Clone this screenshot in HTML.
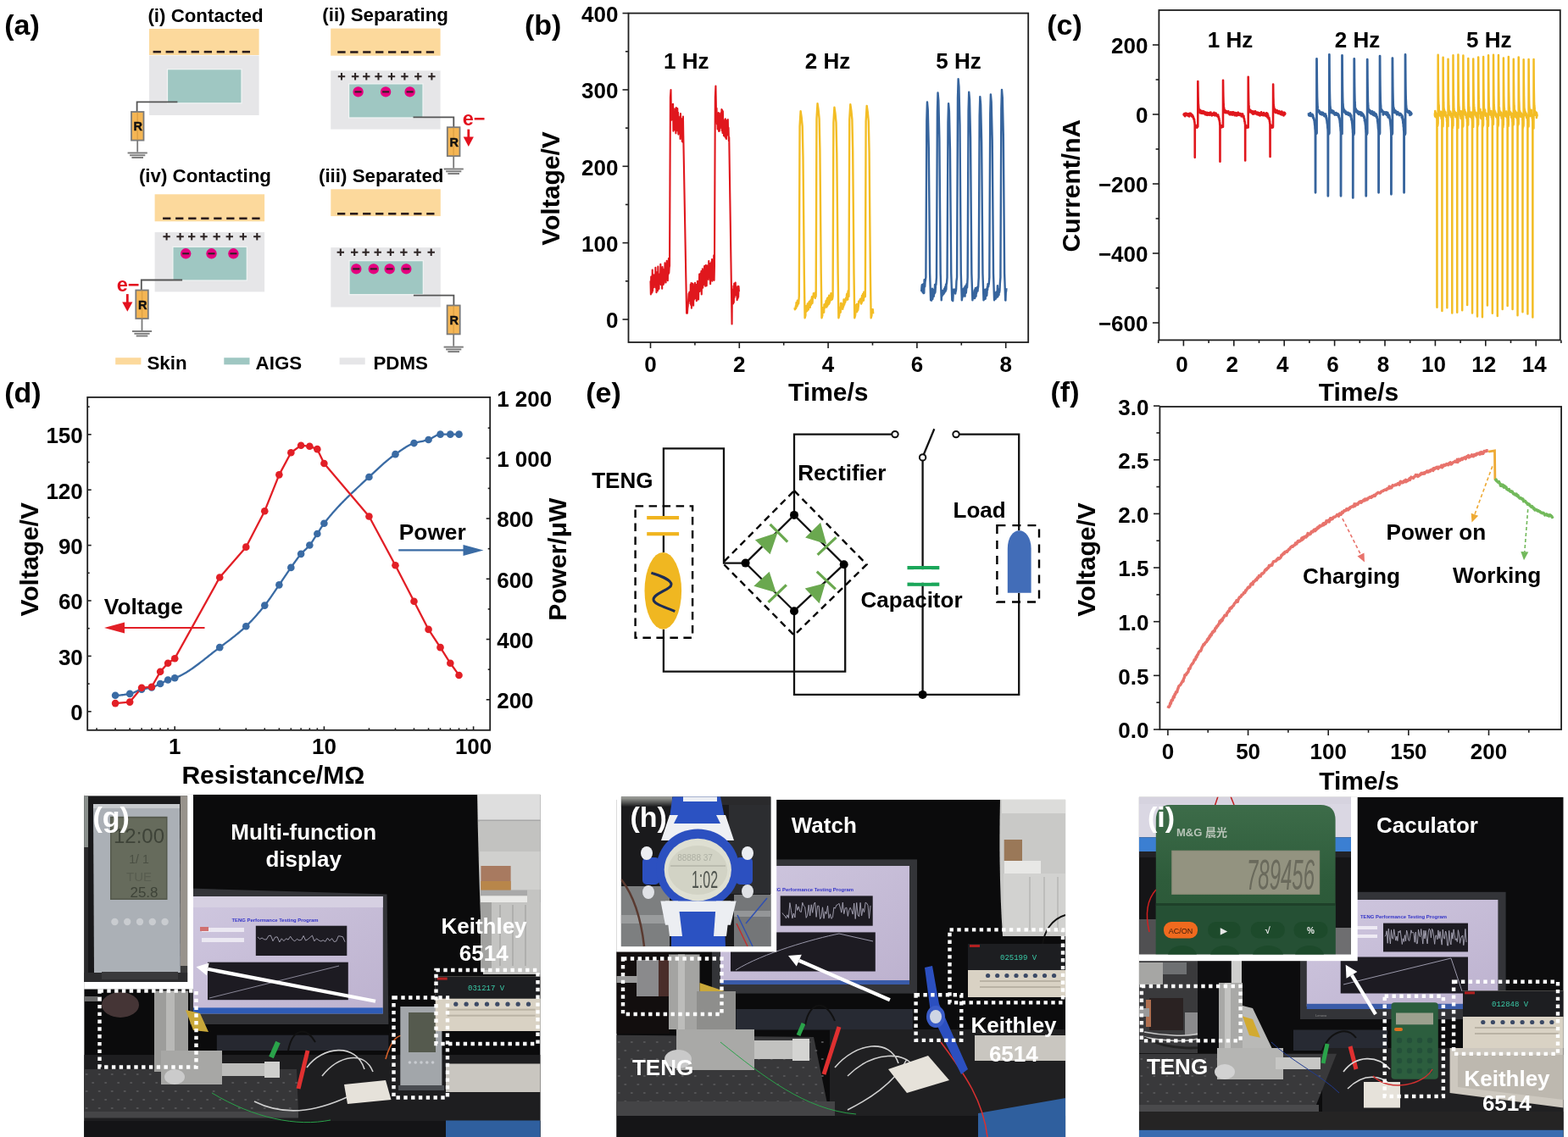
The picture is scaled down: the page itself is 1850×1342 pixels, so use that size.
<!DOCTYPE html>
<html><head><meta charset="utf-8"><title>Figure</title>
<style>html,body{margin:0;padding:0;background:#fff;}svg{display:block;}</style></head>
<body><svg width="1850" height="1342" viewBox="0 0 1850 1342">
<defs><linearGradient id="scr" x1="0" y1="0" x2="1" y2="1"><stop offset="0" stop-color="#cfc7df"/><stop offset="1" stop-color="#bdb2cf"/></linearGradient><linearGradient id="hfade" x1="0" y1="0" x2="0" y2="1"><stop offset="0" stop-color="#a8aaa4"/><stop offset="1" stop-color="#1a1a1c"/></linearGradient><linearGradient id="calc" x1="0" y1="0" x2="0" y2="1"><stop offset="0" stop-color="#3d6c49"/><stop offset="0.5" stop-color="#2e5c3b"/><stop offset="1" stop-color="#2a5636"/></linearGradient></defs>
<rect width="1850" height="1342" fill="#fff"/>
<rect x="176" y="34" width="129.6" height="31" fill="#fcd99c"/><rect x="176" y="65.5" width="129.6" height="70.5" fill="#e6e6e8"/><rect x="197.5" y="81.7" width="87.5" height="40.1" fill="#9fc7c2" stroke="#f2f4f4" stroke-width="1.2"/><g stroke="#2a1d1d" stroke-width="2.6"><line x1="180.6" y1="61.2" x2="189.9" y2="61.2"/><line x1="195.6" y1="61.2" x2="204.9" y2="61.2"/><line x1="210.6" y1="61.2" x2="219.9" y2="61.2"/><line x1="225.6" y1="61.2" x2="234.9" y2="61.2"/><line x1="240.7" y1="61.2" x2="250.0" y2="61.2"/><line x1="255.7" y1="61.2" x2="265.0" y2="61.2"/><line x1="270.7" y1="61.2" x2="280.0" y2="61.2"/><line x1="285.7" y1="61.2" x2="295.0" y2="61.2"/></g><path d="M209.4 120.3H161.6V132" fill="none" stroke="#555555" stroke-width="1.8"/><rect x="155.0" y="132.0" width="14.5" height="33.6" fill="#f5b654" stroke="#7a7a7a" stroke-width="1.8"/><line x1="162.2" y1="132.0" x2="162.2" y2="165.6" stroke="#c98f3a" stroke-width="1.5" opacity="0.5"/><text x="162.8" y="154.4" text-anchor="middle" style="font-family:'Liberation Sans',Arial,sans-serif;font-weight:bold;font-size:14.5px" fill="#111" stroke="#111" stroke-width="0.45">R</text><line x1="162.2" y1="165.6" x2="162.2" y2="179.5" stroke="#7a7a7a" stroke-width="1.8"/><g stroke="#7a7a7a" stroke-width="1.9"><line x1="150.6" y1="180.5" x2="173.8" y2="180.5"/><line x1="153.1" y1="183.3" x2="171.3" y2="183.3"/><line x1="155.4" y1="186.0" x2="169.0" y2="186.0"/></g><rect x="390.2" y="33.6" width="129.4" height="32.1" fill="#fcd99c"/><g stroke="#2a1d1d" stroke-width="2.6"><line x1="398.3" y1="61.5" x2="407.6" y2="61.5"/><line x1="413.2" y1="61.5" x2="422.5" y2="61.5"/><line x1="428.2" y1="61.5" x2="437.4" y2="61.5"/><line x1="443.1" y1="61.5" x2="452.4" y2="61.5"/><line x1="458.0" y1="61.5" x2="467.3" y2="61.5"/><line x1="473.0" y1="61.5" x2="482.2" y2="61.5"/><line x1="487.9" y1="61.5" x2="497.2" y2="61.5"/><line x1="502.8" y1="61.5" x2="512.1" y2="61.5"/></g><rect x="390.2" y="83.4" width="129.4" height="69.2" fill="#e6e6e8"/><rect x="411.6" y="98.9" width="87.4" height="40.1" fill="#9fc7c2" stroke="#f2f4f4" stroke-width="1.2"/><g stroke="#2b2222" stroke-width="2"><path d="M398.8 90.3H407.2M403.0 86.1V94.5"/><path d="M414.9 90.3H423.3M419.1 86.1V94.5"/><path d="M428.1 90.3H436.5M432.3 86.1V94.5"/><path d="M442.3 90.3H450.7M446.5 86.1V94.5"/><path d="M457.8 90.3H466.2M462.0 86.1V94.5"/><path d="M473.2 90.3H481.6M477.4 86.1V94.5"/><path d="M489.1 90.3H497.5M493.3 86.1V94.5"/><path d="M505.2 90.3H513.6M509.4 86.1V94.5"/></g><circle cx="422.6" cy="108.4" r="6.2" fill="#e4007f"/><line x1="418.6" y1="108.4" x2="426.6" y2="108.4" stroke="#2b2222" stroke-width="2"/><circle cx="455.1" cy="108.4" r="6.2" fill="#e4007f"/><line x1="451.1" y1="108.4" x2="459.1" y2="108.4" stroke="#2b2222" stroke-width="2"/><circle cx="483.6" cy="108.4" r="6.2" fill="#e4007f"/><line x1="479.6" y1="108.4" x2="487.6" y2="108.4" stroke="#2b2222" stroke-width="2"/><path d="M487.5 138.3H535.3V150.2" fill="none" stroke="#555555" stroke-width="1.8"/><rect x="527.8" y="150.2" width="14.7" height="34.0" fill="#f5b654" stroke="#7a7a7a" stroke-width="1.8"/><line x1="535.1" y1="150.2" x2="535.1" y2="184.2" stroke="#c98f3a" stroke-width="1.5" opacity="0.5"/><text x="535.8" y="172.8" text-anchor="middle" style="font-family:'Liberation Sans',Arial,sans-serif;font-weight:bold;font-size:14.5px" fill="#111" stroke="#111" stroke-width="0.45">R</text><line x1="535.2" y1="184.2" x2="535.2" y2="198.5" stroke="#7a7a7a" stroke-width="1.8"/><g stroke="#7a7a7a" stroke-width="1.9"><line x1="523.6" y1="199.5" x2="546.8" y2="199.5"/><line x1="526.1" y1="202.3" x2="544.3" y2="202.3"/><line x1="528.4" y1="205.0" x2="542.0" y2="205.0"/></g><text x="545.8" y="147.6" style="font-family:'Liberation Sans',Arial,sans-serif;font-weight:bold;font-size:23.5px" fill="#e3101e">e−</text><line x1="552.8" y1="152.6" x2="552.8" y2="163.9" stroke="#e3101e" stroke-width="2.8"/><path d="M546.7 161.6L558.9 161.6L552.8 172.9Z" fill="#e3101e"/><rect x="182.6" y="229.3" width="129.5" height="32" fill="#fcd99c"/><g stroke="#2a1d1d" stroke-width="2.6"><line x1="192.1" y1="257.8" x2="201.4" y2="257.8"/><line x1="207.1" y1="257.8" x2="216.4" y2="257.8"/><line x1="222.2" y1="257.8" x2="231.5" y2="257.8"/><line x1="237.2" y1="257.8" x2="246.5" y2="257.8"/><line x1="252.2" y1="257.8" x2="261.5" y2="257.8"/><line x1="267.2" y1="257.8" x2="276.5" y2="257.8"/><line x1="282.3" y1="257.8" x2="291.6" y2="257.8"/><line x1="297.3" y1="257.8" x2="306.6" y2="257.8"/></g><rect x="182.6" y="274.1" width="129.5" height="70.3" fill="#e6e6e8"/><rect x="203.9" y="291.3" width="87.4" height="39.7" fill="#9fc7c2" stroke="#f2f4f4" stroke-width="1.2"/><g stroke="#2b2222" stroke-width="2"><path d="M192.4 279.3H200.8M196.6 275.1V283.5"/><path d="M208.4 279.3H216.8M212.6 275.1V283.5"/><path d="M222.0 279.3H230.4M226.2 275.1V283.5"/><path d="M236.3 279.3H244.7M240.5 275.1V283.5"/><path d="M251.5 279.3H259.9M255.7 275.1V283.5"/><path d="M266.6 279.3H275.0M270.8 275.1V283.5"/><path d="M282.7 279.3H291.1M286.9 275.1V283.5"/><path d="M299.1 279.3H307.5M303.3 275.1V283.5"/></g><circle cx="219.2" cy="299.3" r="6.2" fill="#e4007f"/><line x1="215.2" y1="299.3" x2="223.2" y2="299.3" stroke="#2b2222" stroke-width="2"/><circle cx="249.5" cy="299.3" r="6.2" fill="#e4007f"/><line x1="245.5" y1="299.3" x2="253.5" y2="299.3" stroke="#2b2222" stroke-width="2"/><circle cx="275.4" cy="299.3" r="6.2" fill="#e4007f"/><line x1="271.4" y1="299.3" x2="279.4" y2="299.3" stroke="#2b2222" stroke-width="2"/><path d="M215.1 330.5H166.8V342.5" fill="none" stroke="#555555" stroke-width="1.8"/><rect x="160.3" y="342.5" width="14.5" height="33.5" fill="#f5b654" stroke="#7a7a7a" stroke-width="1.8"/><line x1="167.6" y1="342.5" x2="167.6" y2="376.0" stroke="#c98f3a" stroke-width="1.5" opacity="0.5"/><text x="168.2" y="364.9" text-anchor="middle" style="font-family:'Liberation Sans',Arial,sans-serif;font-weight:bold;font-size:14.5px" fill="#111" stroke="#111" stroke-width="0.45">R</text><line x1="167.5" y1="376" x2="167.5" y2="390" stroke="#7a7a7a" stroke-width="1.8"/><g stroke="#7a7a7a" stroke-width="1.9"><line x1="155.9" y1="391.0" x2="179.1" y2="391.0"/><line x1="158.4" y1="393.8" x2="176.6" y2="393.8"/><line x1="160.7" y1="396.5" x2="174.3" y2="396.5"/></g><text x="137.8" y="344.2" style="font-family:'Liberation Sans',Arial,sans-serif;font-weight:bold;font-size:23.5px" fill="#e3101e">e−</text><line x1="150.3" y1="347.1" x2="150.3" y2="358.7" stroke="#e3101e" stroke-width="2.8"/><path d="M144.2 356.4L156.4 356.4L150.3 367.7Z" fill="#e3101e"/><rect x="390.3" y="223.3" width="129.5" height="31.8" fill="#fcd99c"/><g stroke="#2a1d1d" stroke-width="2.6"><line x1="398.0" y1="252.3" x2="407.3" y2="252.3"/><line x1="413.0" y1="252.3" x2="422.3" y2="252.3"/><line x1="428.1" y1="252.3" x2="437.4" y2="252.3"/><line x1="443.1" y1="252.3" x2="452.4" y2="252.3"/><line x1="458.1" y1="252.3" x2="467.4" y2="252.3"/><line x1="473.1" y1="252.3" x2="482.4" y2="252.3"/><line x1="488.2" y1="252.3" x2="497.5" y2="252.3"/><line x1="503.2" y1="252.3" x2="512.5" y2="252.3"/></g><rect x="390.3" y="292.1" width="129.5" height="70.4" fill="#e6e6e8"/><rect x="412" y="307.7" width="87.3" height="40" fill="#9fc7c2" stroke="#f2f4f4" stroke-width="1.2"/><g stroke="#2b2222" stroke-width="2"><path d="M397.6 297.7H406.0M401.8 293.5V301.9"/><path d="M414.0 297.7H422.4M418.2 293.5V301.9"/><path d="M427.4 297.7H435.8M431.6 293.5V301.9"/><path d="M441.5 297.7H449.9M445.7 293.5V301.9"/><path d="M456.6 297.7H465.0M460.8 293.5V301.9"/><path d="M472.2 297.7H480.6M476.4 293.5V301.9"/><path d="M488.3 297.7H496.7M492.5 293.5V301.9"/><path d="M504.5 297.7H512.9M508.7 293.5V301.9"/></g><circle cx="420.3" cy="317.4" r="6.2" fill="#e4007f"/><line x1="416.3" y1="317.4" x2="424.3" y2="317.4" stroke="#2b2222" stroke-width="2"/><circle cx="440.8" cy="317.4" r="6.2" fill="#e4007f"/><line x1="436.8" y1="317.4" x2="444.8" y2="317.4" stroke="#2b2222" stroke-width="2"/><circle cx="459.7" cy="317.4" r="6.2" fill="#e4007f"/><line x1="455.7" y1="317.4" x2="463.7" y2="317.4" stroke="#2b2222" stroke-width="2"/><circle cx="479.3" cy="317.4" r="6.2" fill="#e4007f"/><line x1="475.3" y1="317.4" x2="483.3" y2="317.4" stroke="#2b2222" stroke-width="2"/><path d="M487.9 348.6H535.4V360.5" fill="none" stroke="#555555" stroke-width="1.8"/><rect x="527.6" y="360.5" width="15.1" height="33.9" fill="#f5b654" stroke="#7a7a7a" stroke-width="1.8"/><line x1="535.2" y1="360.5" x2="535.2" y2="394.4" stroke="#c98f3a" stroke-width="1.5" opacity="0.5"/><text x="535.8" y="383.1" text-anchor="middle" style="font-family:'Liberation Sans',Arial,sans-serif;font-weight:bold;font-size:14.5px" fill="#111" stroke="#111" stroke-width="0.45">R</text><line x1="535.2" y1="394.4" x2="535.2" y2="408.6" stroke="#7a7a7a" stroke-width="1.8"/><g stroke="#7a7a7a" stroke-width="1.9"><line x1="523.6" y1="409.6" x2="546.8" y2="409.6"/><line x1="526.1" y1="412.4" x2="544.3" y2="412.4"/><line x1="528.4" y1="415.1" x2="542.0" y2="415.1"/></g><text x="174.4" y="25.7" style="font-family:'Liberation Sans',Arial,sans-serif;font-weight:bold;font-size:22.3px" fill="#000">(i) Contacted</text><text x="380.3" y="25.0" style="font-family:'Liberation Sans',Arial,sans-serif;font-weight:bold;font-size:22.3px" fill="#000">(ii) Separating</text><text x="163.9" y="215.4" style="font-family:'Liberation Sans',Arial,sans-serif;font-weight:bold;font-size:22.3px" fill="#000">(iv) Contacting</text><text x="376" y="215.4" style="font-family:'Liberation Sans',Arial,sans-serif;font-weight:bold;font-size:22.3px" fill="#000">(iii) Separated</text><rect x="136.2" y="422.2" width="30.2" height="8.1" fill="#fcd99c"/><rect x="264.3" y="422.2" width="30.2" height="8.1" fill="#9fc7c2"/><rect x="400.6" y="422.2" width="30.1" height="8.1" fill="#e6e6e8"/><text x="173.5" y="435.8" style="font-family:'Liberation Sans',Arial,sans-serif;font-weight:bold;font-size:22.3px" fill="#000">Skin</text><text x="301.6" y="435.8" style="font-family:'Liberation Sans',Arial,sans-serif;font-weight:bold;font-size:22.3px" fill="#000">AIGS</text><text x="440.5" y="435.8" style="font-family:'Liberation Sans',Arial,sans-serif;font-weight:bold;font-size:22.3px" fill="#000">PDMS</text><text x="5.2" y="40.7" text-anchor="start" style="font-family:'Liberation Sans',Arial,sans-serif;font-weight:bold;font-size:34px" fill="#000" >(a)</text><rect x="741.5" y="15.6" width="471.70" height="388.40" fill="none" stroke="#1e1e1e" stroke-width="1.8"/><line x1="741.50" y1="377.00" x2="734.50" y2="377.00" stroke="#1e1e1e" stroke-width="1.6"/><line x1="741.50" y1="286.65" x2="734.50" y2="286.65" stroke="#1e1e1e" stroke-width="1.6"/><line x1="741.50" y1="196.30" x2="734.50" y2="196.30" stroke="#1e1e1e" stroke-width="1.6"/><line x1="741.50" y1="105.95" x2="734.50" y2="105.95" stroke="#1e1e1e" stroke-width="1.6"/><line x1="741.50" y1="15.60" x2="734.50" y2="15.60" stroke="#1e1e1e" stroke-width="1.6"/><line x1="741.50" y1="331.82" x2="737.90" y2="331.82" stroke="#1e1e1e" stroke-width="1.6"/><line x1="741.50" y1="241.47" x2="737.90" y2="241.47" stroke="#1e1e1e" stroke-width="1.6"/><line x1="741.50" y1="151.12" x2="737.90" y2="151.12" stroke="#1e1e1e" stroke-width="1.6"/><line x1="741.50" y1="60.78" x2="737.90" y2="60.78" stroke="#1e1e1e" stroke-width="1.6"/><line x1="767.50" y1="404.00" x2="767.50" y2="411.00" stroke="#1e1e1e" stroke-width="1.6"/><line x1="872.30" y1="404.00" x2="872.30" y2="411.00" stroke="#1e1e1e" stroke-width="1.6"/><line x1="977.10" y1="404.00" x2="977.10" y2="411.00" stroke="#1e1e1e" stroke-width="1.6"/><line x1="1081.90" y1="404.00" x2="1081.90" y2="411.00" stroke="#1e1e1e" stroke-width="1.6"/><line x1="1186.70" y1="404.00" x2="1186.70" y2="411.00" stroke="#1e1e1e" stroke-width="1.6"/><line x1="819.90" y1="404.00" x2="819.90" y2="407.60" stroke="#1e1e1e" stroke-width="1.6"/><line x1="924.70" y1="404.00" x2="924.70" y2="407.60" stroke="#1e1e1e" stroke-width="1.6"/><line x1="1029.50" y1="404.00" x2="1029.50" y2="407.60" stroke="#1e1e1e" stroke-width="1.6"/><line x1="1134.30" y1="404.00" x2="1134.30" y2="407.60" stroke="#1e1e1e" stroke-width="1.6"/><text x="729.5" y="387.4" text-anchor="end" style="font-family:'Liberation Sans',Arial,sans-serif;font-weight:bold;font-size:26px" fill="#000" >0</text><text x="729.5" y="297.0" text-anchor="end" style="font-family:'Liberation Sans',Arial,sans-serif;font-weight:bold;font-size:26px" fill="#000" >100</text><text x="729.5" y="206.7" text-anchor="end" style="font-family:'Liberation Sans',Arial,sans-serif;font-weight:bold;font-size:26px" fill="#000" >200</text><text x="729.5" y="116.3" text-anchor="end" style="font-family:'Liberation Sans',Arial,sans-serif;font-weight:bold;font-size:26px" fill="#000" >300</text><text x="729.5" y="26.0" text-anchor="end" style="font-family:'Liberation Sans',Arial,sans-serif;font-weight:bold;font-size:26px" fill="#000" >400</text><text x="767.5" y="438.6" text-anchor="middle" style="font-family:'Liberation Sans',Arial,sans-serif;font-weight:bold;font-size:26px" fill="#000" >0</text><text x="872.3" y="438.6" text-anchor="middle" style="font-family:'Liberation Sans',Arial,sans-serif;font-weight:bold;font-size:26px" fill="#000" >2</text><text x="977.1" y="438.6" text-anchor="middle" style="font-family:'Liberation Sans',Arial,sans-serif;font-weight:bold;font-size:26px" fill="#000" >4</text><text x="1081.9" y="438.6" text-anchor="middle" style="font-family:'Liberation Sans',Arial,sans-serif;font-weight:bold;font-size:26px" fill="#000" >6</text><text x="1186.7" y="438.6" text-anchor="middle" style="font-family:'Liberation Sans',Arial,sans-serif;font-weight:bold;font-size:26px" fill="#000" >8</text><text x="977.3" y="472.6" text-anchor="middle" style="font-family:'Liberation Sans',Arial,sans-serif;font-weight:bold;font-size:30px" fill="#000" >Time/s</text><text transform="translate(659.8,222.5) rotate(-90)" text-anchor="middle" style="font-family:'Liberation Sans',Arial,sans-serif;font-weight:bold;font-size:30px" fill="#000">Voltage/V</text><text x="809.8" y="80.5" text-anchor="middle" style="font-family:'Liberation Sans',Arial,sans-serif;font-weight:bold;font-size:26px" fill="#000" >1 Hz</text><text x="976.6" y="80.5" text-anchor="middle" style="font-family:'Liberation Sans',Arial,sans-serif;font-weight:bold;font-size:26px" fill="#000" >2 Hz</text><text x="1131.0" y="80.5" text-anchor="middle" style="font-family:'Liberation Sans',Arial,sans-serif;font-weight:bold;font-size:26px" fill="#000" >5 Hz</text><polyline points="767.50,331.60 767.87,347.37 768.24,326.43 768.61,343.07 768.98,328.22 769.35,345.56 769.72,318.61 770.09,343.41 770.46,324.14 770.82,333.98 771.19,326.68 771.56,339.26 771.93,324.66 772.30,333.60 772.67,331.50 773.04,333.02 773.41,315.88 773.78,339.82 774.15,326.81 774.52,345.31 774.89,321.27 775.26,340.18 775.63,326.02 776.00,343.21 776.37,314.67 776.73,329.12 777.10,327.35 777.47,340.94 777.84,323.88 778.21,328.01 778.58,327.21 778.95,334.79 779.32,311.77 779.69,335.94 780.06,320.32 780.43,335.15 780.80,321.67 781.17,340.65 781.54,315.00 781.91,335.48 782.28,317.46 782.64,336.01 783.01,323.75 783.38,334.45 783.75,319.22 784.12,330.67 784.49,310.42 784.86,323.96 785.23,322.19 785.60,333.56 785.97,317.62 786.34,324.63 786.71,307.81 787.08,324.53 787.45,315.37 787.82,331.28 788.19,310.54 788.55,323.69 788.92,305.01 789.29,322.21 789.66,315.95 790.03,313.75 790.47,214.37 790.91,114.99 791.50,105.95 791.87,129.87 792.24,141.67 792.60,123.10 792.97,138.30 793.34,127.16 793.71,140.53 794.08,122.85 794.45,154.77 794.82,127.99 795.19,144.92 795.56,131.93 795.93,153.09 796.30,134.14 796.67,153.74 797.04,128.38 797.41,157.36 797.78,127.11 798.15,144.66 798.52,129.75 798.89,154.11 799.26,127.96 799.63,145.74 799.99,132.73 800.36,158.59 800.73,140.02 801.10,148.08 801.47,141.52 801.84,149.64 802.21,137.43 802.58,163.97 802.95,134.10 803.32,149.30 803.69,146.84 804.06,155.41 804.43,140.33 804.80,167.00 805.17,145.65 805.54,167.67 805.91,137.50 806.28,160.16 806.66,181.12 807.04,202.08 807.42,223.04 807.80,244.00 808.18,264.97 808.56,285.93 808.94,306.89 809.32,327.85 809.71,348.81 810.09,369.77 810.47,366.51 810.89,369.68 811.31,363.57 811.73,360.99 812.14,353.08 812.56,346.63 812.93,354.19 813.31,344.84 813.68,355.07 814.05,349.30 814.42,358.10 814.79,335.72 815.16,359.93 815.53,334.04 815.90,363.78 816.27,339.01 816.64,356.89 817.01,334.53 817.38,348.54 817.75,335.20 818.12,360.81 818.49,340.38 818.86,353.65 819.24,343.25 819.61,350.57 819.98,333.88 820.35,352.14 820.72,337.43 821.09,351.87 821.46,335.99 821.83,355.12 822.20,337.72 822.57,344.86 822.94,331.78 823.31,353.47 823.68,336.51 824.05,353.50 824.42,336.92 824.79,337.67 825.17,323.63 825.54,343.98 825.91,333.02 826.28,337.58 826.65,322.45 827.02,337.18 827.39,320.10 827.76,347.44 828.13,330.69 828.50,333.15 828.87,317.40 829.24,339.72 829.61,321.22 829.98,336.47 830.35,323.22 830.73,334.06 831.10,314.06 831.47,334.39 831.84,325.19 832.21,337.72 832.58,312.99 832.95,336.50 833.32,313.20 833.69,337.33 834.06,313.22 834.43,328.75 834.80,324.25 835.17,327.57 835.54,318.86 835.91,329.88 836.28,308.14 836.66,323.81 837.03,318.09 837.40,326.21 837.77,311.08 838.14,335.17 838.51,317.59 838.88,328.61 839.25,309.32 839.62,326.61 839.99,306.10 840.36,331.68 840.73,307.97 841.10,329.63 841.47,316.14 841.84,329.97 842.21,301.26 842.59,330.84 842.96,313.75 843.39,214.37 843.83,114.99 844.42,101.43 844.79,119.26 845.16,143.41 845.53,127.70 845.89,146.55 846.26,134.71 846.63,152.39 847.00,134.96 847.37,149.27 847.73,133.13 848.10,155.00 848.47,133.77 848.84,154.69 849.21,139.70 849.57,151.59 849.94,136.82 850.31,146.07 850.68,132.93 851.05,145.90 851.41,129.01 851.78,154.30 852.15,130.03 852.52,157.02 852.89,131.40 853.26,151.77 853.62,141.11 853.99,160.13 854.36,143.92 854.73,158.22 855.10,142.99 855.46,161.36 855.83,140.40 856.20,162.64 856.57,142.40 856.94,164.03 857.30,142.25 857.67,155.00 858.04,148.60 858.41,157.17 858.78,140.99 859.14,159.87 859.51,150.84 859.88,166.18 860.25,161.97 860.61,186.46 860.98,210.96 861.35,235.45 861.72,259.95 862.08,284.44 862.45,308.94 862.82,333.43 863.18,357.93 863.55,382.42 863.92,341.67 864.30,354.15 864.68,343.02 865.06,358.56 865.44,337.52 865.82,356.92 866.20,334.48 866.58,350.97 866.96,338.72 867.35,347.75 867.73,333.54 868.11,348.43 868.49,338.03 868.87,345.48 869.25,339.61 869.63,354.25 870.01,339.77 870.39,352.51 870.78,337.75 871.16,350.68 871.54,337.95 871.92,344.34" fill="none" stroke="#e0171d" stroke-width="2.1" stroke-linejoin="round"/><polyline points="937.54,363.09 937.87,365.38 938.20,364.44 938.53,363.05 938.87,361.25 939.20,364.00 939.53,357.29 939.86,358.22 940.19,360.09 940.52,361.46 940.86,354.62 941.19,359.68 941.52,359.02 941.85,358.39 942.18,358.20 942.78,349.89 943.56,149.32 944.61,131.25 945.66,138.48 946.71,149.32 947.49,185.46 948.80,322.79 949.59,375.19 950.38,372.48 950.64,361.75 950.96,368.16 951.28,367.25 951.59,361.04 951.91,362.85 952.23,367.04 952.55,363.85 952.87,358.48 953.19,363.49 953.51,359.35 953.82,365.51 954.14,358.17 954.46,357.14 954.78,356.10 955.10,357.24 955.42,360.03 955.74,362.85 956.06,357.42 956.37,354.33 956.69,359.97 957.01,358.65 957.33,355.23 957.65,352.42 957.97,350.31 958.29,358.17 958.60,357.03 958.92,349.86 959.24,351.04 959.56,349.71 959.88,346.22 960.20,346.34 960.52,346.88 960.83,347.09 961.15,350.73 961.47,347.56 961.79,352.01 962.11,345.27 962.69,349.89 963.48,140.28 964.52,122.21 965.57,129.44 966.62,140.28 967.41,176.42 968.72,322.79 969.50,375.19 970.29,372.48 970.55,363.36 970.87,363.26 971.19,365.75 971.51,365.97 971.82,365.02 972.14,368.71 972.46,359.41 972.78,362.19 973.10,363.36 973.42,361.12 973.74,358.74 974.06,361.92 974.37,356.55 974.69,355.08 975.01,360.35 975.33,362.56 975.65,355.30 975.97,352.28 976.29,360.94 976.60,354.32 976.92,352.59 977.24,351.06 977.56,359.20 977.88,359.04 978.20,348.82 978.52,357.76 978.83,356.61 979.15,351.79 979.47,352.69 979.79,348.89 980.11,354.45 980.43,346.10 980.75,353.16 981.07,346.68 981.38,353.78 981.70,348.88 982.02,353.16 982.60,349.89 983.39,144.80 984.44,126.73 985.48,133.96 986.53,144.80 987.32,180.94 988.63,322.79 989.41,375.19 990.20,372.48 990.46,368.18 990.78,367.65 991.09,362.68 991.41,365.00 991.73,368.77 992.04,358.05 992.36,358.66 992.67,357.81 992.99,364.53 993.31,362.38 993.62,363.64 993.94,364.20 994.25,364.65 994.57,359.00 994.89,362.58 995.20,361.45 995.52,353.49 995.83,357.02 996.15,359.73 996.46,353.91 996.78,357.74 997.10,354.37 997.41,356.46 997.73,353.39 998.04,351.62 998.36,352.08 998.68,353.05 998.99,348.22 999.31,346.78 999.62,353.75 999.94,353.67 1000.26,353.38 1000.57,343.44 1000.89,343.30 1001.47,349.89 1002.25,141.19 1003.30,123.12 1004.35,130.34 1005.40,141.19 1006.18,177.33 1007.49,322.79 1008.28,375.19 1009.06,372.48 1009.33,369.08 1009.65,360.53 1009.97,368.26 1010.29,364.49 1010.61,364.06 1010.94,359.00 1011.26,367.95 1011.58,364.44 1011.90,360.82 1012.22,366.08 1012.54,363.70 1012.87,360.69 1013.19,355.65 1013.51,356.42 1013.83,355.15 1014.15,355.36 1014.48,355.40 1014.80,353.33 1015.12,354.62 1015.44,353.50 1015.76,357.68 1016.09,358.60 1016.41,351.68 1016.73,357.56 1017.05,348.85 1017.37,351.82 1017.70,354.19 1018.02,347.07 1018.34,355.02 1018.66,350.59 1018.98,354.64 1019.30,344.64 1019.63,348.33 1019.95,345.33 1020.27,350.45 1020.85,349.89 1021.64,142.99 1022.69,124.92 1023.74,132.15 1024.78,142.99 1025.57,179.13 1026.88,322.79 1027.67,375.19 1028.45,372.48 1028.71,365.24 1029.08,366.58 1029.45,367.57 1029.81,365.25 1030.18,370.37" fill="none" stroke="#f3bd25" stroke-width="2.4" stroke-linejoin="round"/><polyline points="1087.14,344.05 1087.45,339.09 1087.77,336.31 1088.08,343.99 1088.40,338.10 1088.71,345.14 1089.03,339.12 1089.34,335.13 1089.66,346.12 1089.97,334.90 1090.28,346.03 1090.60,330.24 1090.91,337.76 1091.23,338.27 1091.54,332.76 1092.38,327.31 1093.32,142.99 1093.95,120.41 1094.74,129.44 1095.79,174.62 1097.10,322.79 1098.14,354.41 1098.41,349.56 1098.74,345.96 1099.07,354.69 1099.40,347.18 1099.73,346.65 1100.06,340.64 1100.39,352.94 1100.72,346.36 1101.05,343.18 1101.38,343.74 1101.72,350.03 1102.05,341.92 1102.38,346.68 1102.71,346.47 1103.04,335.99 1103.37,345.23 1103.70,340.92 1104.03,336.04 1104.36,336.06 1104.96,327.31 1105.90,132.15 1106.53,109.56 1107.31,118.60 1108.36,163.77 1109.67,322.79 1110.72,354.41 1110.98,349.12 1111.30,344.89 1111.61,349.25 1111.93,346.44 1112.24,343.00 1112.55,344.47 1112.87,344.42 1113.18,347.26 1113.50,344.49 1113.81,346.26 1114.13,340.66 1114.44,345.35 1114.75,343.53 1115.07,338.78 1115.38,341.85 1115.70,343.68 1116.01,336.04 1116.33,341.92 1116.64,334.64 1116.96,334.93 1117.53,327.31 1118.48,144.80 1119.10,122.21 1119.89,131.25 1120.94,176.42 1122.25,322.79 1123.30,354.41 1123.56,350.66 1123.89,346.09 1124.21,355.18 1124.54,349.32 1124.87,341.79 1125.20,345.13 1125.52,344.72 1125.85,342.45 1126.18,341.54 1126.51,342.18 1126.83,343.81 1127.16,346.52 1127.49,344.22 1127.82,343.49 1128.14,340.78 1128.47,331.84 1129.06,327.31 1130.00,115.89 1130.63,93.30 1131.42,102.34 1132.47,147.51 1133.78,322.79 1134.82,354.41 1135.09,352.03 1135.40,350.09 1135.71,350.61 1136.03,347.01 1136.34,341.14 1136.66,341.42 1136.97,348.25 1137.29,349.27 1137.60,339.77 1137.92,344.85 1138.23,341.51 1138.54,349.79 1138.86,337.75 1139.17,345.18 1139.49,341.99 1139.80,345.70 1140.12,341.92 1140.43,335.45 1140.75,334.89 1141.06,339.43 1141.64,327.31 1142.58,131.25 1143.21,108.66 1143.99,117.70 1145.04,162.87 1146.35,322.79 1147.40,354.41 1147.66,346.02 1147.99,349.96 1148.31,350.64 1148.64,347.61 1148.96,352.04 1149.28,349.84 1149.61,343.66 1149.93,342.19 1150.26,351.97 1150.58,341.65 1150.91,339.89 1151.23,344.72 1151.55,349.71 1151.88,340.20 1152.20,345.98 1152.53,339.69 1152.85,343.00 1153.18,338.70 1153.50,343.63 1153.83,339.93 1154.15,338.70 1154.74,327.31 1155.68,136.67 1156.31,114.08 1157.09,123.12 1158.14,168.29 1159.45,322.79 1160.50,354.41 1160.76,348.00 1161.08,353.62 1161.39,342.07 1161.71,351.23 1162.02,350.42 1162.33,350.56 1162.65,352.72 1162.96,347.01 1163.28,341.40 1163.59,341.73 1163.91,348.59 1164.22,348.87 1164.53,345.63 1164.85,338.60 1165.16,342.08 1165.48,335.22 1165.79,338.50 1166.11,338.45 1166.42,335.75 1166.74,335.44 1167.31,327.31 1168.26,133.96 1168.88,111.37 1169.67,120.41 1170.72,165.58 1172.03,322.79 1173.08,354.41 1173.34,352.15 1173.66,352.87 1173.99,349.71 1174.31,348.42 1174.64,352.91 1174.96,348.03 1175.28,344.62 1175.61,351.37 1175.93,350.79 1176.26,349.73 1176.58,347.61 1176.91,337.26 1177.23,350.24 1177.55,347.42 1177.88,347.15 1178.20,342.13 1178.53,348.23 1178.85,341.28 1179.18,345.01 1179.50,342.93 1179.83,334.83 1180.41,327.31 1181.36,128.54 1181.98,105.95 1182.77,114.99 1183.82,160.16 1185.13,322.79 1186.18,354.41 1186.44,354.46 1186.77,344.59 1187.09,344.02 1187.42,340.24" fill="none" stroke="#36649d" stroke-width="2.4" stroke-linejoin="round"/><text x="618.9" y="40.6" text-anchor="start" style="font-family:'Liberation Sans',Arial,sans-serif;font-weight:bold;font-size:34px" fill="#000" >(b)</text><rect x="1367.4" y="12.0" width="473.40" height="389.40" fill="none" stroke="#1e1e1e" stroke-width="1.8"/><line x1="1367.40" y1="53.00" x2="1359.90" y2="53.00" stroke="#1e1e1e" stroke-width="1.6"/><line x1="1367.40" y1="135.00" x2="1359.90" y2="135.00" stroke="#1e1e1e" stroke-width="1.6"/><line x1="1367.40" y1="217.00" x2="1359.90" y2="217.00" stroke="#1e1e1e" stroke-width="1.6"/><line x1="1367.40" y1="299.00" x2="1359.90" y2="299.00" stroke="#1e1e1e" stroke-width="1.6"/><line x1="1367.40" y1="381.00" x2="1359.90" y2="381.00" stroke="#1e1e1e" stroke-width="1.6"/><line x1="1367.40" y1="94.00" x2="1363.60" y2="94.00" stroke="#1e1e1e" stroke-width="1.6"/><line x1="1367.40" y1="176.00" x2="1363.60" y2="176.00" stroke="#1e1e1e" stroke-width="1.6"/><line x1="1367.40" y1="258.00" x2="1363.60" y2="258.00" stroke="#1e1e1e" stroke-width="1.6"/><line x1="1367.40" y1="340.00" x2="1363.60" y2="340.00" stroke="#1e1e1e" stroke-width="1.6"/><line x1="1396.40" y1="401.40" x2="1396.40" y2="408.40" stroke="#1e1e1e" stroke-width="1.6"/><line x1="1455.80" y1="401.40" x2="1455.80" y2="408.40" stroke="#1e1e1e" stroke-width="1.6"/><line x1="1515.20" y1="401.40" x2="1515.20" y2="408.40" stroke="#1e1e1e" stroke-width="1.6"/><line x1="1574.60" y1="401.40" x2="1574.60" y2="408.40" stroke="#1e1e1e" stroke-width="1.6"/><line x1="1634.00" y1="401.40" x2="1634.00" y2="408.40" stroke="#1e1e1e" stroke-width="1.6"/><line x1="1693.40" y1="401.40" x2="1693.40" y2="408.40" stroke="#1e1e1e" stroke-width="1.6"/><line x1="1752.80" y1="401.40" x2="1752.80" y2="408.40" stroke="#1e1e1e" stroke-width="1.6"/><line x1="1812.20" y1="401.40" x2="1812.20" y2="408.40" stroke="#1e1e1e" stroke-width="1.6"/><line x1="1366.70" y1="401.40" x2="1366.70" y2="405.00" stroke="#1e1e1e" stroke-width="1.6"/><line x1="1426.10" y1="401.40" x2="1426.10" y2="405.00" stroke="#1e1e1e" stroke-width="1.6"/><line x1="1485.50" y1="401.40" x2="1485.50" y2="405.00" stroke="#1e1e1e" stroke-width="1.6"/><line x1="1544.90" y1="401.40" x2="1544.90" y2="405.00" stroke="#1e1e1e" stroke-width="1.6"/><line x1="1604.30" y1="401.40" x2="1604.30" y2="405.00" stroke="#1e1e1e" stroke-width="1.6"/><line x1="1663.70" y1="401.40" x2="1663.70" y2="405.00" stroke="#1e1e1e" stroke-width="1.6"/><line x1="1723.10" y1="401.40" x2="1723.10" y2="405.00" stroke="#1e1e1e" stroke-width="1.6"/><line x1="1782.50" y1="401.40" x2="1782.50" y2="405.00" stroke="#1e1e1e" stroke-width="1.6"/><line x1="1841.90" y1="401.40" x2="1841.90" y2="405.00" stroke="#1e1e1e" stroke-width="1.6"/><text x="1354.5" y="63.4" text-anchor="end" style="font-family:'Liberation Sans',Arial,sans-serif;font-weight:bold;font-size:26px" fill="#000" >200</text><text x="1354.5" y="145.4" text-anchor="end" style="font-family:'Liberation Sans',Arial,sans-serif;font-weight:bold;font-size:26px" fill="#000" >0</text><text x="1354.5" y="227.4" text-anchor="end" style="font-family:'Liberation Sans',Arial,sans-serif;font-weight:bold;font-size:26px" fill="#000" >−200</text><text x="1354.5" y="309.4" text-anchor="end" style="font-family:'Liberation Sans',Arial,sans-serif;font-weight:bold;font-size:26px" fill="#000" >−400</text><text x="1354.5" y="391.4" text-anchor="end" style="font-family:'Liberation Sans',Arial,sans-serif;font-weight:bold;font-size:26px" fill="#000" >−600</text><text x="1394.4" y="438.6" text-anchor="middle" style="font-family:'Liberation Sans',Arial,sans-serif;font-weight:bold;font-size:26px" fill="#000" >0</text><text x="1453.8" y="438.6" text-anchor="middle" style="font-family:'Liberation Sans',Arial,sans-serif;font-weight:bold;font-size:26px" fill="#000" >2</text><text x="1513.2" y="438.6" text-anchor="middle" style="font-family:'Liberation Sans',Arial,sans-serif;font-weight:bold;font-size:26px" fill="#000" >4</text><text x="1572.6" y="438.6" text-anchor="middle" style="font-family:'Liberation Sans',Arial,sans-serif;font-weight:bold;font-size:26px" fill="#000" >6</text><text x="1632.0" y="438.6" text-anchor="middle" style="font-family:'Liberation Sans',Arial,sans-serif;font-weight:bold;font-size:26px" fill="#000" >8</text><text x="1691.4" y="438.6" text-anchor="middle" style="font-family:'Liberation Sans',Arial,sans-serif;font-weight:bold;font-size:26px" fill="#000" >10</text><text x="1750.8" y="438.6" text-anchor="middle" style="font-family:'Liberation Sans',Arial,sans-serif;font-weight:bold;font-size:26px" fill="#000" >12</text><text x="1810.2" y="438.6" text-anchor="middle" style="font-family:'Liberation Sans',Arial,sans-serif;font-weight:bold;font-size:26px" fill="#000" >14</text><text x="1603.0" y="472.6" text-anchor="middle" style="font-family:'Liberation Sans',Arial,sans-serif;font-weight:bold;font-size:30px" fill="#000" >Time/s</text><text transform="translate(1273.5,219.2) rotate(-90)" text-anchor="middle" style="font-family:'Liberation Sans',Arial,sans-serif;font-weight:bold;font-size:30px" fill="#000">Current/nA</text><text x="1451.6" y="55.5" text-anchor="middle" style="font-family:'Liberation Sans',Arial,sans-serif;font-weight:bold;font-size:26px" fill="#000" >1 Hz</text><text x="1601.6" y="55.5" text-anchor="middle" style="font-family:'Liberation Sans',Arial,sans-serif;font-weight:bold;font-size:26px" fill="#000" >2 Hz</text><text x="1756.7" y="55.5" text-anchor="middle" style="font-family:'Liberation Sans',Arial,sans-serif;font-weight:bold;font-size:26px" fill="#000" >5 Hz</text><polyline points="1396.40,134.77 1396.52,134.69 1396.64,135.54 1396.76,135.21 1396.88,134.48 1396.99,134.65 1397.11,134.83 1397.23,136.24 1397.35,134.56 1397.47,134.04 1397.59,134.18 1397.71,134.81 1397.83,136.28 1397.94,134.23 1398.06,135.13 1398.18,137.08 1398.30,134.70 1398.42,136.23 1398.54,136.07 1398.66,135.53 1398.78,133.96 1398.89,135.31 1399.01,134.79 1399.13,133.58 1399.25,133.70 1399.37,135.10 1399.49,135.21 1399.61,136.05 1399.73,135.58 1399.85,134.67 1399.96,134.69 1400.08,134.93 1400.20,134.20 1400.32,135.65 1400.44,135.07 1400.56,134.43 1400.68,134.55 1400.80,134.15 1400.91,134.71 1401.03,135.29 1401.15,134.74 1401.27,135.86 1401.39,136.39 1401.51,134.57 1401.63,135.10 1401.75,134.80 1401.86,136.45 1401.98,135.36 1402.10,135.56 1402.22,135.79 1402.34,136.93 1402.46,135.36 1402.58,134.36 1402.70,134.79 1402.82,135.61 1402.93,135.14 1403.05,134.51 1403.17,137.41 1403.29,135.26 1403.41,134.72 1403.53,134.63 1403.65,133.81 1403.77,134.29 1403.88,134.98 1404.00,135.01 1404.12,134.63 1404.24,135.74 1404.36,135.36 1404.48,134.61 1404.60,133.77 1404.72,135.54 1404.83,135.48 1404.95,135.32 1405.07,134.42 1405.19,135.59 1405.31,134.41 1405.43,136.46 1405.55,135.87 1405.67,135.94 1405.79,135.20 1405.90,135.06 1406.02,137.23 1406.14,136.82 1406.26,135.89 1406.38,136.80 1406.50,137.61 1406.62,135.62 1406.74,136.19 1406.85,136.33 1406.97,137.27 1407.09,136.19 1407.21,137.40 1407.33,136.49 1407.45,138.33 1407.57,138.50 1407.69,137.87 1407.80,138.86 1407.92,138.01 1408.04,138.64 1408.16,139.93 1408.28,139.47 1408.40,140.19 1408.52,139.56 1408.64,141.27 1408.76,141.59 1408.87,140.76 1408.99,140.48 1409.11,141.28 1409.23,143.53 1409.35,144.12 1409.47,143.81 1409.59,146.01 1409.71,147.62 1409.77,185.84 1409.82,149.25 1409.94,148.98 1410.06,150.03 1410.18,150.70 1410.30,150.53 1410.42,148.80 1410.54,149.97 1410.66,149.47 1410.77,149.18 1410.89,148.84 1411.01,149.62 1411.13,148.94 1411.25,150.08 1411.37,149.65 1411.49,150.19 1411.61,148.42 1411.73,149.37 1411.84,149.96 1411.96,149.64 1412.08,149.53 1412.20,148.78 1412.32,150.66 1412.44,150.20 1412.56,149.66 1412.68,147.27 1412.79,148.57 1412.91,149.44 1413.03,148.77 1413.15,147.66 1413.27,149.54 1413.33,96.05 1413.39,101.51 1413.51,108.29 1413.63,114.70 1413.74,118.76 1413.86,122.76 1413.98,122.97 1414.10,124.75 1414.22,126.87 1414.34,127.64 1414.46,130.52 1414.58,128.82 1414.70,129.88 1414.81,129.66 1414.93,129.69 1415.05,130.72 1415.17,131.99 1415.29,130.44 1415.41,131.47 1415.53,131.24 1415.65,131.56 1415.76,131.43 1415.88,133.13 1416.00,130.32 1416.12,131.19 1416.24,130.56 1416.36,129.92 1416.48,131.60 1416.60,133.16 1416.71,132.48 1416.83,132.81 1416.95,132.29 1417.07,131.88 1417.19,133.64 1417.31,131.78 1417.43,133.36 1417.55,131.93 1417.67,132.32 1417.78,132.55 1417.90,132.40 1418.02,132.84 1418.14,132.95 1418.26,133.88 1418.38,132.57 1418.50,131.08 1418.62,131.02 1418.73,131.61 1418.85,132.16 1418.97,133.33 1419.09,131.64 1419.21,132.91 1419.33,132.97 1419.45,133.19 1419.57,132.92 1419.68,133.39 1419.80,133.14 1419.92,134.00 1420.04,133.45 1420.16,131.31 1420.28,133.28 1420.40,133.45 1420.52,132.85 1420.64,132.74 1420.75,134.27 1420.87,133.56 1420.99,132.67 1421.11,133.23 1421.23,133.38 1421.35,132.24 1421.47,134.10 1421.59,133.50 1421.70,134.03 1421.82,132.40 1421.94,135.25 1422.06,134.23 1422.18,134.14 1422.30,133.19 1422.42,133.26 1422.54,132.64 1422.65,135.10 1422.77,133.21 1422.89,134.09 1423.01,134.42 1423.13,133.46 1423.25,134.67 1423.37,135.64 1423.49,134.27 1423.61,135.21 1423.72,134.53 1423.84,133.72 1423.96,133.79 1424.08,132.76 1424.20,134.24 1424.32,135.36 1424.44,134.74 1424.56,134.89 1424.67,135.15 1424.79,133.81 1424.91,134.71 1425.03,135.82 1425.15,133.64 1425.27,134.32 1425.39,133.95 1425.51,134.18 1425.62,133.76 1425.74,134.26 1425.86,133.29 1425.98,133.97 1426.10,134.01 1426.22,134.01 1426.34,135.55 1426.46,134.51 1426.58,134.60 1426.69,134.23 1426.81,135.52 1426.93,133.08 1427.05,134.35 1427.17,135.44 1427.29,135.86 1427.41,134.70 1427.53,134.55 1427.64,135.08 1427.76,134.42 1427.88,135.04 1428.00,134.07 1428.12,135.12 1428.24,134.57 1428.36,133.75 1428.48,132.45 1428.59,135.40 1428.71,134.96 1428.83,135.28 1428.95,133.95 1429.07,135.55 1429.19,135.01 1429.31,134.65 1429.43,135.43 1429.55,135.43 1429.66,135.04 1429.78,136.38 1429.90,135.85 1430.02,135.01 1430.14,134.56 1430.26,134.85 1430.38,136.16 1430.50,135.09 1430.61,134.06 1430.73,134.27 1430.85,134.80 1430.97,135.47 1431.09,134.24 1431.21,135.24 1431.33,135.73 1431.45,135.44 1431.56,133.61 1431.68,134.62 1431.80,133.86 1431.92,135.22 1432.04,134.07 1432.16,135.34 1432.28,134.99 1432.40,132.83 1432.52,134.26 1432.63,135.31 1432.75,134.99 1432.87,134.66 1432.99,133.95 1433.11,135.37 1433.23,136.41 1433.35,135.23 1433.47,135.01 1433.58,134.95 1433.70,133.99 1433.82,134.83 1433.94,134.45 1434.06,136.05 1434.18,134.47 1434.30,133.49 1434.42,134.61 1434.53,135.08 1434.65,135.20 1434.77,133.90 1434.89,136.17 1435.01,135.55 1435.13,135.14 1435.25,134.97 1435.37,136.00 1435.49,135.45 1435.60,136.01 1435.72,135.76 1435.84,136.05 1435.96,136.97 1436.08,136.15 1436.20,135.52 1436.32,137.15 1436.44,136.68 1436.55,136.07 1436.67,137.64 1436.79,136.77 1436.91,137.96 1437.03,136.35 1437.15,135.58 1437.27,136.04 1437.39,138.11 1437.50,137.58 1437.62,138.36 1437.74,138.68 1437.86,137.82 1437.98,140.52 1438.10,138.95 1438.22,140.26 1438.34,139.51 1438.46,140.99 1438.57,142.22 1438.69,142.01 1438.81,142.24 1438.93,143.47 1439.05,143.82 1439.17,145.42 1439.29,147.59 1439.41,146.01 1439.47,190.76 1439.52,148.78 1439.64,149.23 1439.76,149.29 1439.88,148.50 1440.00,149.72 1440.12,149.93 1440.24,149.50 1440.36,148.37 1440.47,150.49 1440.59,148.37 1440.71,149.87 1440.83,150.25 1440.95,148.32 1441.07,149.43 1441.19,150.42 1441.31,149.64 1441.43,148.59 1441.54,148.37 1441.66,149.70 1441.78,149.02 1441.90,148.76 1442.02,149.88 1442.14,149.06 1442.26,149.38 1442.38,149.79 1442.49,149.75 1442.61,149.30 1442.73,149.33 1442.85,149.81 1442.97,149.70 1443.03,94.82 1443.09,99.21 1443.21,108.33 1443.33,113.81 1443.44,117.90 1443.56,121.55 1443.68,122.45 1443.80,126.66 1443.92,126.54 1444.04,128.36 1444.16,127.25 1444.28,127.88 1444.40,131.27 1444.51,130.76 1444.63,129.66 1444.75,129.75 1444.87,129.96 1444.99,130.76 1445.11,130.45 1445.23,130.40 1445.35,131.10 1445.46,130.29 1445.58,133.07 1445.70,130.78 1445.82,132.22 1445.94,130.66 1446.06,131.71 1446.18,132.32 1446.30,131.36 1446.41,132.48 1446.53,132.54 1446.65,133.14 1446.77,131.94 1446.89,131.58 1447.01,131.20 1447.13,132.22 1447.25,131.30 1447.37,132.20 1447.48,132.35 1447.60,131.85 1447.72,131.51 1447.84,132.71 1447.96,132.68 1448.08,132.66 1448.20,132.51 1448.32,133.37 1448.43,131.83 1448.55,133.05 1448.67,132.39 1448.79,133.49 1448.91,132.56 1449.03,132.57 1449.15,133.28 1449.27,131.32 1449.38,132.71 1449.50,131.60 1449.62,132.31 1449.74,133.68 1449.86,133.48 1449.98,132.85 1450.10,133.19 1450.22,133.24 1450.34,133.55 1450.45,134.83 1450.57,133.56 1450.69,135.23 1450.81,133.14 1450.93,134.07 1451.05,134.09 1451.17,133.71 1451.29,133.34 1451.40,134.76 1451.52,135.05 1451.64,134.52 1451.76,135.35 1451.88,134.49 1452.00,132.42 1452.12,134.62 1452.24,133.24 1452.35,134.92 1452.47,133.58 1452.59,134.11 1452.71,133.92 1452.83,133.42 1452.95,132.47 1453.07,133.77 1453.19,133.85 1453.31,134.77 1453.42,133.52 1453.54,134.22 1453.66,133.35 1453.78,134.09 1453.90,132.65 1454.02,135.72 1454.14,134.35 1454.26,133.40 1454.37,134.43 1454.49,134.81 1454.61,134.40 1454.73,135.33 1454.85,134.11 1454.97,132.23 1455.09,133.30 1455.21,135.17 1455.32,134.99 1455.44,134.62 1455.56,133.48 1455.68,134.99 1455.80,134.89 1455.92,133.62 1456.04,133.65 1456.16,134.67 1456.28,135.30 1456.39,135.66 1456.51,134.98 1456.63,136.25 1456.75,133.81 1456.87,134.96 1456.99,134.06 1457.11,132.93 1457.23,133.51 1457.34,135.43 1457.46,133.78 1457.58,133.56 1457.70,135.13 1457.82,135.31 1457.94,134.63 1458.06,135.86 1458.18,133.35 1458.29,136.54 1458.41,135.48 1458.53,134.81 1458.65,134.78 1458.77,134.47 1458.89,134.39 1459.01,134.80 1459.13,133.70 1459.25,136.39 1459.36,134.65 1459.48,135.24 1459.60,134.56 1459.72,134.49 1459.84,135.43 1459.96,135.22 1460.08,134.05 1460.20,134.42 1460.31,135.27 1460.43,133.05 1460.55,132.84 1460.67,135.94 1460.79,134.51 1460.91,132.71 1461.03,134.13 1461.15,134.60 1461.26,134.96 1461.38,135.25 1461.50,134.99 1461.62,135.28 1461.74,134.22 1461.86,135.17 1461.98,135.22 1462.10,135.86 1462.22,134.93 1462.33,135.63 1462.45,135.06 1462.57,134.08 1462.69,134.65 1462.81,134.55 1462.93,134.69 1463.05,134.95 1463.17,135.13 1463.28,135.30 1463.40,134.44 1463.52,135.98 1463.64,134.02 1463.76,135.12 1463.88,135.79 1464.00,135.61 1464.12,135.80 1464.23,135.15 1464.35,135.91 1464.47,134.43 1464.59,136.05 1464.71,137.33 1464.83,136.12 1464.95,137.22 1465.07,135.67 1465.19,134.84 1465.30,135.25 1465.42,136.95 1465.54,136.57 1465.66,134.57 1465.78,135.87 1465.90,136.24 1466.02,135.49 1466.14,134.47 1466.25,135.55 1466.37,136.65 1466.49,136.63 1466.61,136.59 1466.73,137.78 1466.85,138.35 1466.97,137.65 1467.09,138.71 1467.20,138.24 1467.32,138.38 1467.44,136.84 1467.56,139.78 1467.68,139.53 1467.80,139.95 1467.92,139.86 1468.04,139.81 1468.16,141.55 1468.27,142.34 1468.39,143.58 1468.51,143.60 1468.63,143.06 1468.75,144.18 1468.87,145.83 1468.99,146.14 1469.11,146.72 1469.17,189.53 1469.22,148.94 1469.34,149.84 1469.46,149.56 1469.58,150.84 1469.70,150.29 1469.82,148.02 1469.94,151.14 1470.06,149.63 1470.17,149.17 1470.29,149.66 1470.41,150.01 1470.53,149.40 1470.65,149.35 1470.77,149.42 1470.89,150.89 1471.01,149.47 1471.13,150.05 1471.24,149.80 1471.36,149.16 1471.48,148.82 1471.60,148.61 1471.72,149.76 1471.84,148.59 1471.96,148.39 1472.08,148.42 1472.19,148.21 1472.31,149.47 1472.43,149.49 1472.55,148.67 1472.67,150.47 1472.73,90.72 1472.79,96.48 1472.91,106.45 1473.03,113.06 1473.14,119.04 1473.26,121.85 1473.38,123.68 1473.50,124.78 1473.62,126.05 1473.74,127.92 1473.86,128.75 1473.98,129.83 1474.10,129.24 1474.21,130.10 1474.33,129.66 1474.45,128.93 1474.57,130.57 1474.69,131.92 1474.81,131.52 1474.93,132.12 1475.05,132.01 1475.16,130.05 1475.28,131.03 1475.40,132.54 1475.52,130.84 1475.64,130.42 1475.76,131.82 1475.88,132.15 1476.00,131.94 1476.11,131.50 1476.23,131.27 1476.35,130.89 1476.47,130.93 1476.59,131.01 1476.71,130.93 1476.83,131.56 1476.95,133.41 1477.07,132.32 1477.18,132.01 1477.30,132.64 1477.42,131.63 1477.54,132.72 1477.66,133.24 1477.78,131.35 1477.90,132.03 1478.02,132.45 1478.13,131.91 1478.25,131.85 1478.37,132.49 1478.49,134.82 1478.61,133.41 1478.73,133.27 1478.85,133.74 1478.97,132.81 1479.08,132.04 1479.20,133.45 1479.32,134.03 1479.44,131.47 1479.56,133.54 1479.68,134.22 1479.80,133.05 1479.92,132.93 1480.04,133.89 1480.15,132.70 1480.27,133.78 1480.39,134.17 1480.51,133.29 1480.63,132.84 1480.75,134.02 1480.87,133.26 1480.99,133.64 1481.10,131.27 1481.22,134.20 1481.34,132.51 1481.46,133.71 1481.58,133.80 1481.70,133.13 1481.82,133.02 1481.94,132.73 1482.05,133.53 1482.17,134.31 1482.29,134.29 1482.41,133.45 1482.53,133.41 1482.65,132.77 1482.77,133.59 1482.89,133.09 1483.01,132.73 1483.12,133.86 1483.24,135.23 1483.36,135.00 1483.48,135.23 1483.60,132.77 1483.72,134.79 1483.84,133.10 1483.96,133.65 1484.07,132.74 1484.19,133.34 1484.31,134.26 1484.43,134.36 1484.55,134.14 1484.67,134.08 1484.79,134.68 1484.91,134.28 1485.02,132.95 1485.14,135.68 1485.26,134.09 1485.38,135.06 1485.50,134.18 1485.62,133.65 1485.74,134.40 1485.86,133.73 1485.98,135.68 1486.09,133.49 1486.21,134.90 1486.33,133.91 1486.45,134.28 1486.57,136.56 1486.69,135.07 1486.81,134.28 1486.93,133.20 1487.04,134.25 1487.16,134.29 1487.28,135.67 1487.40,133.34 1487.52,133.05 1487.64,134.51 1487.76,134.73 1487.88,135.89 1487.99,133.84 1488.11,132.36 1488.23,134.00 1488.35,133.56 1488.47,134.16 1488.59,135.42 1488.71,133.53 1488.83,135.65 1488.95,134.81 1489.06,134.42 1489.18,133.94 1489.30,134.33 1489.42,134.36 1489.54,135.31 1489.66,135.75 1489.78,134.65 1489.90,135.30 1490.01,135.80 1490.13,135.77 1490.25,135.14 1490.37,136.27 1490.49,135.87 1490.61,136.11 1490.73,134.63 1490.85,134.46 1490.96,133.16 1491.08,136.04 1491.20,135.39 1491.32,134.09 1491.44,135.03 1491.56,135.14 1491.68,133.48 1491.80,135.17 1491.92,135.86 1492.03,136.01 1492.15,134.67 1492.27,134.71 1492.39,136.11 1492.51,135.81 1492.63,134.58 1492.75,134.57 1492.87,135.60 1492.98,134.59 1493.10,134.65 1493.22,136.61 1493.34,135.44 1493.46,134.88 1493.58,135.72 1493.70,137.05 1493.82,135.57 1493.93,134.76 1494.05,134.13 1494.17,137.28 1494.29,133.39 1494.41,136.52 1494.53,134.88 1494.65,134.72 1494.77,135.00 1494.89,135.77 1495.00,136.93 1495.12,135.56 1495.24,136.77 1495.36,138.36 1495.48,134.09 1495.60,135.96 1495.72,135.19 1495.84,137.58 1495.95,135.80 1496.07,135.88 1496.19,136.10 1496.31,137.60 1496.43,138.79 1496.55,138.20 1496.67,140.12 1496.79,140.00 1496.90,138.84 1497.02,140.06 1497.14,139.75 1497.26,140.10 1497.38,138.85 1497.50,139.83 1497.62,141.43 1497.74,140.95 1497.86,143.17 1497.97,143.44 1498.09,143.10 1498.21,145.61 1498.33,145.63 1498.45,147.36 1498.57,185.02 1498.57,149.25 1498.69,148.01 1498.81,149.97 1498.92,149.16 1499.04,150.09 1499.16,150.29 1499.28,150.36 1499.40,148.16 1499.52,147.41 1499.64,148.95 1499.76,149.94 1499.87,148.77 1499.99,149.62 1500.11,148.69 1500.23,149.11 1500.35,149.12 1500.47,148.85 1500.59,149.83 1500.71,149.68 1500.83,150.76 1500.94,149.71 1501.06,150.52 1501.18,149.47 1501.30,150.14 1501.42,149.27 1501.54,148.98 1501.66,150.51 1501.78,150.02 1501.89,150.12 1502.01,148.74 1502.13,100.97 1502.13,99.53 1502.25,108.36 1502.37,115.21 1502.49,117.95 1502.61,123.45 1502.73,123.20 1502.84,126.58 1502.96,129.51 1503.08,125.93 1503.20,127.47 1503.32,130.10 1503.44,129.50 1503.56,130.11 1503.68,130.09 1503.80,131.58 1503.91,131.09 1504.03,130.28 1504.15,130.60 1504.27,129.91 1504.39,130.93 1504.51,129.16 1504.63,131.76 1504.75,131.05 1504.86,132.91 1504.98,132.44 1505.10,130.40 1505.22,132.33 1505.34,131.19 1505.46,131.75 1505.58,132.62 1505.70,132.11 1505.81,132.31 1505.93,132.35 1506.05,131.39 1506.17,131.54 1506.29,132.60 1506.41,132.93 1506.53,132.01 1506.65,132.38 1506.77,131.51 1506.88,130.23 1507.00,131.76 1507.12,132.53 1507.24,132.69 1507.36,133.30 1507.48,133.39 1507.60,133.52 1507.72,133.07 1507.83,133.14 1507.95,132.22 1508.07,133.20 1508.19,133.08 1508.31,133.96 1508.43,131.65 1508.55,132.62 1508.67,131.61 1508.78,132.46 1508.90,131.93 1509.02,133.39 1509.14,132.64 1509.26,131.04 1509.38,134.30 1509.50,132.36 1509.62,131.97 1509.74,133.05 1509.85,132.80 1509.97,132.41 1510.09,134.04 1510.21,133.17 1510.33,134.27 1510.45,134.14 1510.57,134.12 1510.69,133.75 1510.80,133.53 1510.92,133.30 1511.04,134.90 1511.16,132.07 1511.28,132.79 1511.40,133.18 1511.52,134.11 1511.64,133.91 1511.75,133.40 1511.87,133.53 1511.99,135.31 1512.11,133.30 1512.23,131.49 1512.35,135.52 1512.47,133.15 1512.59,133.70 1512.71,134.12 1512.82,132.89 1512.94,135.06 1513.06,133.94 1513.18,132.87 1513.30,134.28 1513.42,134.49 1513.54,134.06 1513.66,134.54 1513.77,132.88 1513.89,134.97 1514.01,133.48 1514.13,135.29 1514.25,133.68 1514.37,134.35 1514.49,136.46 1514.61,134.30 1514.72,135.21 1514.84,134.69 1514.96,133.04 1515.08,135.29 1515.20,135.25 1515.32,133.16 1515.44,134.29 1515.56,133.10 1515.68,134.14 1515.79,135.16 1515.91,134.49 1516.03,133.41 1516.15,133.66 1516.27,134.46 1516.39,134.43 1516.51,134.58 1516.63,134.98" fill="none" stroke="#e0171d" stroke-width="2.6" stroke-linejoin="round"/><polyline points="1544.01,133.40 1544.13,135.02 1544.25,135.99 1544.37,135.44 1544.48,134.43 1544.60,134.50 1544.72,135.16 1544.84,135.62 1544.96,135.04 1545.08,136.48 1545.20,136.17 1545.32,134.41 1545.43,135.49 1545.55,134.78 1545.67,134.08 1545.79,134.57 1545.91,135.11 1546.03,133.35 1546.15,134.60 1546.27,135.48 1546.38,134.58 1546.50,134.87 1546.62,135.96 1546.74,135.20 1546.86,135.43 1546.98,136.98 1547.10,135.50 1547.22,135.63 1547.34,135.80 1547.45,136.87 1547.57,135.83 1547.69,135.62 1547.81,135.56 1547.93,136.67 1548.05,135.26 1548.17,136.90 1548.29,136.15 1548.40,134.97 1548.52,136.76 1548.64,136.73 1548.76,135.54 1548.88,136.92 1549.00,137.01 1549.12,136.76 1549.24,136.27 1549.35,139.23 1549.47,138.32 1549.59,138.75 1549.71,139.12 1549.83,139.27 1549.95,139.63 1550.07,139.08 1550.19,140.53 1550.31,140.19 1550.42,140.51 1550.54,142.07 1550.66,142.03 1550.78,141.52 1550.90,143.45 1551.02,145.17 1551.14,145.71 1551.26,147.54 1551.37,147.78 1551.49,148.65 1551.61,151.58 1551.73,152.74 1551.85,153.48 1551.97,156.87 1552.03,227.25 1552.09,157.39 1552.21,158.41 1552.32,158.24 1552.44,157.98 1552.56,155.77 1552.68,157.89 1552.80,157.98 1552.92,158.01 1553.04,157.69 1553.16,157.01 1553.28,157.39 1553.39,155.86 1553.51,157.37 1553.51,69.40 1553.63,84.96 1553.75,97.98 1553.87,106.41 1553.99,114.38 1554.11,117.86 1554.23,121.14 1554.34,123.71 1554.46,127.07 1554.58,125.91 1554.70,127.95 1554.82,128.76 1554.94,129.20 1555.06,129.64 1555.18,129.49 1555.29,131.18 1555.41,131.15 1555.53,130.37 1555.65,130.69 1555.77,131.29 1555.89,131.61 1556.01,131.97 1556.13,131.47 1556.25,130.58 1556.36,132.54 1556.48,130.53 1556.60,131.20 1556.72,132.37 1556.84,131.46 1556.96,133.40 1557.08,133.71 1557.20,133.44 1557.31,132.80 1557.43,132.82 1557.55,133.05 1557.67,132.63 1557.79,134.54 1557.91,132.46 1558.03,134.10 1558.15,133.54 1558.26,133.41 1558.38,134.08 1558.50,134.32 1558.62,134.09 1558.74,133.33 1558.86,132.90 1558.98,132.97 1559.10,134.31 1559.22,134.19 1559.33,134.35 1559.45,133.28 1559.57,135.37 1559.69,132.73 1559.81,134.20 1559.93,134.49 1560.05,133.61 1560.17,133.09 1560.28,133.70 1560.40,133.17 1560.52,133.96 1560.64,133.11 1560.76,133.14 1560.88,134.29 1561.00,133.08 1561.12,134.17 1561.23,134.28 1561.35,135.15 1561.47,134.68 1561.59,133.86 1561.71,135.63 1561.83,134.07 1561.95,134.38 1562.07,134.50 1562.19,136.60 1562.30,134.94 1562.42,134.39 1562.54,135.63 1562.66,135.01 1562.78,137.12 1562.90,134.71 1563.02,135.90 1563.14,134.76 1563.25,137.10 1563.37,135.15 1563.49,136.05 1563.61,135.35 1563.73,136.93 1563.85,136.86 1563.97,134.71 1564.09,137.45 1564.20,137.59 1564.32,137.50 1564.44,138.40 1564.56,136.90 1564.68,136.81 1564.80,139.18 1564.92,140.45 1565.04,138.53 1565.16,139.10 1565.27,139.90 1565.39,140.25 1565.51,142.60 1565.63,142.78 1565.75,144.62 1565.87,145.57 1565.99,144.62 1566.11,147.11 1566.22,145.93 1566.34,149.12 1566.46,151.22 1566.58,151.72 1566.70,152.75 1566.82,155.88 1566.88,231.35 1566.94,158.55 1567.06,157.25 1567.17,156.42 1567.29,157.95 1567.41,158.18 1567.53,156.72 1567.65,157.44 1567.77,158.45 1567.89,157.86 1568.01,158.17 1568.13,157.31 1568.24,157.46 1568.36,156.61 1568.36,64.48 1568.48,81.93 1568.60,96.85 1568.72,104.66 1568.84,111.06 1568.96,116.36 1569.08,119.47 1569.19,123.39 1569.31,125.65 1569.43,125.54 1569.55,128.25 1569.67,129.96 1569.79,127.98 1569.91,129.91 1570.03,129.96 1570.14,131.18 1570.26,131.39 1570.38,131.48 1570.50,131.03 1570.62,130.61 1570.74,132.96 1570.86,130.61 1570.98,132.33 1571.10,132.37 1571.21,131.06 1571.33,131.79 1571.45,133.10 1571.57,130.44 1571.69,132.76 1571.81,131.95 1571.93,132.08 1572.05,131.18 1572.16,132.80 1572.28,131.68 1572.40,133.20 1572.52,131.75 1572.64,133.38 1572.76,133.12 1572.88,131.34 1573.00,132.71 1573.11,132.95 1573.23,131.26 1573.35,132.87 1573.47,133.90 1573.59,132.69 1573.71,134.32 1573.83,132.48 1573.95,132.47 1574.07,133.98 1574.18,134.08 1574.30,133.47 1574.42,133.66 1574.54,134.52 1574.66,133.30 1574.78,135.49 1574.90,134.21 1575.02,134.23 1575.13,134.17 1575.25,133.74 1575.37,135.04 1575.49,133.60 1575.61,134.27 1575.73,134.70 1575.85,135.33 1575.97,135.22 1576.08,134.00 1576.20,135.13 1576.32,134.33 1576.44,133.56 1576.56,133.63 1576.68,133.24 1576.80,134.82 1576.92,135.52 1577.04,133.84 1577.15,134.48 1577.27,133.88 1577.39,134.85 1577.51,133.95 1577.63,134.31 1577.75,134.49 1577.87,134.75 1577.99,134.92 1578.10,135.15 1578.22,135.26 1578.34,134.75 1578.46,136.10 1578.58,134.39 1578.70,136.05 1578.82,135.31 1578.94,136.36 1579.05,136.68 1579.17,135.02 1579.29,137.17 1579.41,138.21 1579.53,138.02 1579.65,138.00 1579.77,136.30 1579.89,138.26 1580.01,138.07 1580.12,140.10 1580.24,139.48 1580.36,139.75 1580.48,139.42 1580.60,142.12 1580.72,141.78 1580.84,142.82 1580.96,144.79 1581.07,144.94 1581.19,146.21 1581.31,149.08 1581.43,147.99 1581.55,149.49 1581.67,151.89 1581.79,154.39 1581.91,154.02 1582.02,157.17 1582.03,231.35 1582.14,156.72 1582.26,156.39 1582.38,157.98 1582.50,156.88 1582.62,157.75 1582.74,157.60 1582.86,157.62 1582.98,157.55 1583.09,156.64 1583.21,157.45 1583.33,157.68 1583.45,157.78 1583.51,65.30 1583.57,74.60 1583.69,90.81 1583.81,101.44 1583.93,108.97 1584.04,115.12 1584.16,118.90 1584.28,122.33 1584.40,122.41 1584.52,124.61 1584.64,126.55 1584.76,127.89 1584.88,126.75 1584.99,128.83 1585.11,129.61 1585.23,129.64 1585.35,129.93 1585.47,129.27 1585.59,130.66 1585.71,129.11 1585.83,131.72 1585.95,130.59 1586.06,132.12 1586.18,129.94 1586.30,131.83 1586.42,131.73 1586.54,131.04 1586.66,130.87 1586.78,132.92 1586.90,132.39 1587.01,133.35 1587.13,132.19 1587.25,132.47 1587.37,132.76 1587.49,133.12 1587.61,132.96 1587.73,133.34 1587.85,132.37 1587.96,131.63 1588.08,134.53 1588.20,133.11 1588.32,133.43 1588.44,132.75 1588.56,134.00 1588.68,133.40 1588.80,134.20 1588.92,132.83 1589.03,133.38 1589.15,133.65 1589.27,133.27 1589.39,133.83 1589.51,134.96 1589.63,133.25 1589.75,133.55 1589.87,133.97 1589.98,133.09 1590.10,132.95 1590.22,134.89 1590.34,134.69 1590.46,132.83 1590.58,132.99 1590.70,134.81 1590.82,135.23 1590.93,134.84 1591.05,134.78 1591.17,135.73 1591.29,134.47 1591.41,135.61 1591.53,135.62 1591.65,133.94 1591.77,135.33 1591.89,134.90 1592.00,134.41 1592.12,134.35 1592.24,135.38 1592.36,135.17 1592.48,135.99 1592.60,134.00 1592.72,135.02 1592.84,136.60 1592.95,135.84 1593.07,135.42 1593.19,135.79 1593.31,134.87 1593.43,135.46 1593.55,137.26 1593.67,137.14 1593.79,138.39 1593.90,137.44 1594.02,137.86 1594.14,136.13 1594.26,138.67 1594.38,140.91 1594.50,140.24 1594.62,140.14 1594.74,141.85 1594.86,142.19 1594.97,142.51 1595.09,142.73 1595.21,144.02 1595.33,145.59 1595.45,145.29 1595.57,147.56 1595.69,148.84 1595.81,151.01 1595.92,152.12 1596.04,152.71 1596.16,156.52 1596.28,157.40 1596.28,233.40 1596.40,156.96 1596.52,157.86 1596.64,157.35 1596.76,158.47 1596.87,156.48 1596.99,156.65 1597.11,157.36 1597.23,158.99 1597.35,158.41 1597.47,156.75 1597.59,156.15 1597.71,157.31 1597.77,69.40 1597.83,77.30 1597.94,93.04 1598.06,102.94 1598.18,110.18 1598.30,115.19 1598.42,120.69 1598.54,121.51 1598.66,123.28 1598.78,126.86 1598.89,128.18 1599.01,127.66 1599.13,129.15 1599.25,131.09 1599.37,128.90 1599.49,129.77 1599.61,130.58 1599.73,128.69 1599.84,130.52 1599.96,131.44 1600.08,130.91 1600.20,132.00 1600.32,131.91 1600.44,131.10 1600.56,132.00 1600.68,132.03 1600.80,130.41 1600.91,131.18 1601.03,131.33 1601.15,131.66 1601.27,131.79 1601.39,131.09 1601.51,132.39 1601.63,130.94 1601.75,133.32 1601.86,132.83 1601.98,133.83 1602.10,133.06 1602.22,132.43 1602.34,131.74 1602.46,133.54 1602.58,133.06 1602.70,133.42 1602.81,133.80 1602.93,134.23 1603.05,133.26 1603.17,134.79 1603.29,133.33 1603.41,133.46 1603.53,134.07 1603.65,134.41 1603.77,134.77 1603.88,132.15 1604.00,134.83 1604.12,132.50 1604.24,133.33 1604.36,134.16 1604.48,134.86 1604.60,133.10 1604.72,132.57 1604.83,134.80 1604.95,134.32 1605.07,133.25 1605.19,133.88 1605.31,132.56 1605.43,134.70 1605.55,133.83 1605.67,135.34 1605.78,132.64 1605.90,135.00 1606.02,136.25 1606.14,134.59 1606.26,134.65 1606.38,133.01 1606.50,134.91 1606.62,134.69 1606.74,134.24 1606.85,133.49 1606.97,134.90 1607.09,134.05 1607.21,134.55 1607.33,135.29 1607.45,135.06 1607.57,135.18 1607.69,136.04 1607.80,134.39 1607.92,136.62 1608.04,134.63 1608.16,134.93 1608.28,135.92 1608.40,136.62 1608.52,136.33 1608.64,135.93 1608.75,135.90 1608.87,136.48 1608.99,136.13 1609.11,137.64 1609.23,137.27 1609.35,139.05 1609.47,137.46 1609.59,138.33 1609.71,139.20 1609.82,138.35 1609.94,139.22 1610.06,142.63 1610.18,140.88 1610.30,142.76 1610.42,141.42 1610.54,141.05 1610.66,144.39 1610.77,144.88 1610.89,146.21 1611.01,146.91 1611.13,147.97 1611.25,148.89 1611.37,152.35 1611.49,152.01 1611.61,156.01 1611.72,157.17 1611.73,231.35 1611.84,156.60 1611.96,156.97 1612.08,158.32 1612.20,158.13 1612.32,157.93 1612.44,157.59 1612.56,156.61 1612.68,158.61 1612.79,157.17 1612.91,157.05 1613.03,157.09 1613.15,157.17 1613.21,70.22 1613.27,77.81 1613.39,92.67 1613.51,102.47 1613.63,110.01 1613.74,114.29 1613.86,121.16 1613.98,121.35 1614.10,124.68 1614.22,126.22 1614.34,127.93 1614.46,129.53 1614.58,128.97 1614.69,129.74 1614.81,129.19 1614.93,131.14 1615.05,129.04 1615.17,130.23 1615.29,130.86 1615.41,131.43 1615.53,131.66 1615.65,132.09 1615.76,131.75 1615.88,131.43 1616.00,131.71 1616.12,132.84 1616.24,132.01 1616.36,132.64 1616.48,131.88 1616.60,130.58 1616.71,131.69 1616.83,132.55 1616.95,133.72 1617.07,133.64 1617.19,133.94 1617.31,132.05 1617.43,133.35 1617.55,132.74 1617.66,133.38 1617.78,132.87 1617.90,131.86 1618.02,133.64 1618.14,133.42 1618.26,133.87 1618.38,132.55 1618.50,134.17 1618.62,134.32 1618.73,134.58 1618.85,134.65 1618.97,133.17 1619.09,131.50 1619.21,134.47 1619.33,132.93 1619.45,133.55 1619.57,134.71 1619.68,134.08 1619.80,134.09 1619.92,134.51 1620.04,132.41 1620.16,135.60 1620.28,133.77 1620.40,133.86 1620.52,134.65 1620.63,134.10 1620.75,133.55 1620.87,134.19 1620.99,134.02 1621.11,133.84 1621.23,136.13 1621.35,133.30 1621.47,132.70 1621.59,133.82 1621.70,133.85 1621.82,135.90 1621.94,134.91 1622.06,135.55 1622.18,135.44 1622.30,134.24 1622.42,135.78 1622.54,135.31 1622.65,136.87 1622.77,135.54 1622.89,135.45 1623.01,136.22 1623.13,136.37 1623.25,134.38 1623.37,137.07 1623.49,137.12 1623.60,137.11 1623.72,135.67 1623.84,135.16 1623.96,136.86 1624.08,138.00 1624.20,138.06 1624.32,137.17 1624.44,139.15 1624.56,137.62 1624.67,138.09 1624.79,139.68 1624.91,139.75 1625.03,140.26 1625.15,140.26 1625.27,143.11 1625.39,142.08 1625.51,144.24 1625.62,145.53 1625.74,145.89 1625.86,147.34 1625.98,149.28 1626.10,151.22 1626.22,152.28 1626.34,152.08 1626.46,153.61 1626.57,156.84 1626.58,227.25 1626.69,156.58 1626.81,157.97 1626.93,157.61 1627.05,157.32 1627.17,158.44 1627.29,158.36 1627.41,157.47 1627.53,157.81 1627.64,158.42 1627.76,157.23 1627.88,157.77 1628.00,156.71 1628.06,66.12 1628.12,75.57 1628.24,90.81 1628.36,101.27 1628.48,109.32 1628.59,115.37 1628.71,119.26 1628.83,121.30 1628.95,123.58 1629.07,124.68 1629.19,128.34 1629.31,128.18 1629.43,128.90 1629.54,128.97 1629.66,129.91 1629.78,130.31 1629.90,129.54 1630.02,130.28 1630.14,131.60 1630.26,129.73 1630.38,130.18 1630.50,131.62 1630.61,130.61 1630.73,132.03 1630.85,130.63 1630.97,131.85 1631.09,132.45 1631.21,132.20 1631.33,132.63 1631.45,131.94 1631.56,132.05 1631.68,132.26 1631.80,132.84 1631.92,135.47 1632.04,132.48 1632.16,134.19 1632.28,132.51 1632.40,131.86 1632.51,132.64 1632.63,133.26 1632.75,133.15 1632.87,133.18 1632.99,133.59 1633.11,133.68 1633.23,134.02 1633.35,132.35 1633.47,133.40 1633.58,132.66 1633.70,133.70 1633.82,133.49 1633.94,133.74 1634.06,133.27 1634.18,133.03 1634.30,133.56 1634.42,134.35 1634.53,134.49 1634.65,132.54 1634.77,134.17 1634.89,134.23 1635.01,132.83 1635.13,133.19 1635.25,133.69 1635.37,134.50 1635.48,132.29 1635.60,133.94 1635.72,133.86 1635.84,134.50 1635.96,135.57 1636.08,135.55 1636.20,134.18 1636.32,134.25 1636.44,134.82 1636.55,135.64 1636.67,135.93 1636.79,135.08 1636.91,136.07 1637.03,134.22 1637.15,134.09 1637.27,132.80 1637.39,134.48 1637.50,135.79 1637.62,136.12 1637.74,138.35 1637.86,136.13 1637.98,135.92 1638.10,135.13 1638.22,135.58 1638.34,135.77 1638.45,136.27 1638.57,136.11 1638.69,135.69 1638.81,138.00 1638.93,137.78 1639.05,138.85 1639.17,136.71 1639.29,137.34 1639.41,138.19 1639.52,140.24 1639.64,139.60 1639.76,140.47 1639.88,140.81 1640.00,141.68 1640.12,141.83 1640.24,143.37 1640.36,143.23 1640.47,144.70 1640.59,146.22 1640.71,147.25 1640.83,148.83 1640.95,149.25 1641.07,151.73 1641.19,153.03 1641.31,155.54 1641.42,158.59 1641.43,229.30 1641.54,156.81 1641.66,158.42 1641.78,156.99 1641.90,157.21 1642.02,158.91 1642.14,158.32 1642.26,157.97 1642.38,158.22 1642.49,158.52 1642.61,156.94 1642.73,157.75 1642.85,157.23 1642.91,68.58 1642.97,78.00 1643.09,91.81 1643.21,103.06 1643.33,109.97 1643.44,114.90 1643.56,119.28 1643.68,122.58 1643.80,125.21 1643.92,125.74 1644.04,126.77 1644.16,128.15 1644.28,129.24 1644.39,128.70 1644.51,127.53 1644.63,130.16 1644.75,129.92 1644.87,130.13 1644.99,132.75 1645.11,130.73 1645.23,131.58 1645.35,130.02 1645.46,131.50 1645.58,132.07 1645.70,131.73 1645.82,131.54 1645.94,132.25 1646.06,131.94 1646.18,133.11 1646.30,132.29 1646.41,131.56 1646.53,130.68 1646.65,131.80 1646.77,132.24 1646.89,131.58 1647.01,131.80 1647.13,131.35 1647.25,131.90 1647.36,132.96 1647.48,132.72 1647.60,132.86 1647.72,132.82 1647.84,132.97 1647.96,133.84 1648.08,134.98 1648.20,133.87 1648.32,135.04 1648.43,133.38 1648.55,133.48 1648.67,134.91 1648.79,133.03 1648.91,132.93 1649.03,133.61 1649.15,132.37 1649.27,132.25 1649.38,134.82 1649.50,133.03 1649.62,133.56 1649.74,133.63 1649.86,133.25 1649.98,134.65 1650.10,134.58 1650.22,134.82 1650.33,134.80 1650.45,134.31 1650.57,135.46 1650.69,135.17 1650.81,133.89 1650.93,134.46 1651.05,134.14 1651.17,136.05 1651.29,135.19 1651.40,135.06 1651.52,134.63 1651.64,135.19 1651.76,134.00 1651.88,134.88 1652.00,134.88 1652.12,134.95 1652.24,134.46 1652.35,135.50 1652.47,134.28 1652.59,134.92 1652.71,135.27 1652.83,135.47 1652.95,135.19 1653.07,134.91 1653.19,135.11 1653.30,135.73 1653.42,135.48 1653.54,136.28 1653.66,135.55 1653.78,136.82 1653.90,138.73 1654.02,136.20 1654.14,137.49 1654.26,138.86 1654.37,138.41 1654.49,139.35 1654.61,137.33 1654.73,139.11 1654.85,141.31 1654.97,140.14 1655.09,141.54 1655.21,140.33 1655.32,143.52 1655.44,145.34 1655.56,144.37 1655.68,145.73 1655.80,146.91 1655.92,149.57 1656.04,148.84 1656.16,149.34 1656.27,153.95 1656.39,153.28 1656.51,156.75 1656.57,227.25 1656.63,155.62 1656.75,157.19 1656.87,157.70 1656.99,156.64 1657.11,157.12 1657.23,158.04 1657.34,156.97 1657.46,157.97 1657.58,159.02 1657.70,155.88 1657.82,157.84 1657.94,158.05 1658.06,157.27 1658.06,64.48 1658.18,83.80 1658.29,96.69 1658.41,105.41 1658.53,112.23 1658.65,116.68 1658.77,119.40 1658.89,123.34 1659.01,124.47 1659.13,125.82 1659.24,128.27 1659.36,128.01 1659.48,129.60 1659.60,128.44 1659.72,129.34 1659.84,130.02 1659.96,131.40 1660.08,130.44 1660.20,131.36 1660.31,130.33 1660.43,131.17 1660.55,131.89 1660.67,130.60 1660.79,130.90 1660.91,132.10 1661.03,130.78 1661.15,132.09 1661.26,132.20 1661.38,131.95 1661.50,132.77 1661.62,132.60 1661.74,132.47 1661.86,131.17 1661.98,131.28 1662.10,132.80 1662.21,131.35 1662.33,132.78 1662.45,132.51 1662.57,132.17 1662.69,132.72 1662.81,131.05 1662.93,132.89 1663.05,134.14 1663.17,132.14 1663.28,133.61 1663.40,133.58 1663.52,135.84 1663.64,132.62 1663.76,132.82 1663.88,132.88 1664.00,132.78 1664.12,132.25 1664.23,133.71 1664.35,132.95 1664.47,134.37 1664.59,134.09 1664.71,132.98 1664.83,133.56 1664.95,135.01 1665.07,133.66 1665.18,134.14 1665.30,134.69 1665.42,133.70" fill="none" stroke="#36649d" stroke-width="2.8" stroke-linejoin="round"/><polyline points="1692.81,136.52 1692.92,133.79 1693.04,136.52 1693.16,137.60 1693.28,130.92 1693.40,134.71 1693.52,134.13 1693.64,134.45 1693.76,132.48 1693.88,135.09 1693.99,133.68 1694.11,137.51 1694.23,138.29 1694.35,133.89 1694.47,134.08 1694.59,135.99 1694.71,136.86 1694.83,137.46 1694.94,139.46 1695.06,136.55 1695.18,138.89 1695.30,140.25 1695.42,141.80 1695.48,362.81 1695.54,145.58 1695.66,146.47 1695.78,146.08 1695.89,149.22 1696.01,146.46 1696.13,143.71 1696.25,148.15 1696.37,147.51 1696.49,145.84 1696.61,145.73 1696.67,64.69 1696.73,74.00 1696.85,93.86 1696.96,102.05 1697.08,113.23 1697.20,118.73 1697.32,120.88 1697.44,125.47 1697.56,126.00 1697.68,123.88 1697.80,129.04 1697.91,130.07 1698.03,133.43 1698.15,133.55 1698.27,134.66 1698.39,134.11 1698.51,135.29 1698.63,134.79 1698.75,134.23 1698.86,135.68 1698.98,136.50 1699.10,136.53 1699.22,133.67 1699.34,134.44 1699.46,132.97 1699.58,133.06 1699.70,135.46 1699.82,133.95 1699.93,137.57 1700.05,131.65 1700.17,133.65 1700.29,136.22 1700.41,138.07 1700.53,135.90 1700.65,140.02 1700.77,138.75 1700.88,136.87 1701.00,138.73 1701.12,140.57 1701.24,139.33 1701.36,143.95 1701.42,367.04 1701.48,146.83 1701.60,148.12 1701.72,148.69 1701.83,146.54 1701.95,148.93 1702.07,144.18 1702.19,148.26 1702.31,144.04 1702.43,149.10 1702.55,146.31 1702.61,67.81 1702.67,79.55 1702.79,95.23 1702.90,103.90 1703.02,111.09 1703.14,120.11 1703.26,120.29 1703.38,126.61 1703.50,127.33 1703.62,128.57 1703.74,129.43 1703.85,134.26 1703.97,129.34 1704.09,131.60 1704.21,133.62 1704.33,134.92 1704.45,136.27 1704.57,135.93 1704.69,132.98 1704.80,134.59 1704.92,136.02 1705.04,135.15 1705.16,131.84 1705.28,135.06 1705.40,135.60 1705.52,132.55 1705.64,134.14 1705.76,134.97 1705.87,136.20 1705.99,137.94 1706.11,137.53 1706.23,136.65 1706.35,136.52 1706.47,135.93 1706.59,136.04 1706.71,137.10 1706.82,137.73 1706.94,140.50 1707.06,143.30 1707.18,141.74 1707.30,143.81 1707.36,363.26 1707.42,148.37 1707.54,147.75 1707.66,149.34 1707.77,149.12 1707.89,147.47 1708.01,147.11 1708.13,148.38 1708.25,146.48 1708.37,147.66 1708.49,148.98 1708.55,69.80 1708.61,79.20 1708.73,91.15 1708.84,106.14 1708.96,110.91 1709.08,116.20 1709.20,120.09 1709.32,126.88 1709.44,124.40 1709.56,129.11 1709.68,130.91 1709.79,131.75 1709.91,131.05 1710.03,132.47 1710.15,133.23 1710.27,131.15 1710.39,134.69 1710.51,135.42 1710.63,132.58 1710.74,132.88 1710.86,132.37 1710.98,136.05 1711.10,132.63 1711.22,133.73 1711.34,131.75 1711.46,136.81 1711.58,134.54 1711.70,135.50 1711.81,137.81 1711.93,136.56 1712.05,133.76 1712.17,136.63 1712.29,137.35 1712.41,135.09 1712.53,135.33 1712.65,135.85 1712.76,139.38 1712.88,138.94 1713.00,138.08 1713.12,141.96 1713.24,143.47 1713.30,369.40 1713.36,145.94 1713.48,144.74 1713.60,149.19 1713.71,151.56 1713.83,149.68 1713.95,148.96 1714.07,147.53 1714.19,146.29 1714.31,147.54 1714.43,148.45 1714.49,65.19 1714.55,75.11 1714.67,93.02 1714.78,103.10 1714.90,112.44 1715.02,113.03 1715.14,120.47 1715.26,126.37 1715.38,128.96 1715.50,129.75 1715.62,132.99 1715.73,132.43 1715.85,133.15 1715.97,131.03 1716.09,133.59 1716.21,134.51 1716.33,135.68 1716.45,135.62 1716.57,133.98 1716.68,134.38 1716.80,132.30 1716.92,135.32 1717.04,132.67 1717.16,134.10 1717.28,134.65 1717.40,138.06 1717.52,137.01 1717.64,133.82 1717.75,132.91 1717.87,135.05 1717.99,134.36 1718.11,136.53 1718.23,136.77 1718.35,137.61 1718.47,135.35 1718.59,136.90 1718.70,138.47 1718.82,139.39 1718.94,138.85 1719.06,140.35 1719.18,143.61 1719.24,368.78 1719.30,144.49 1719.42,146.88 1719.54,147.28 1719.65,144.88 1719.77,145.62 1719.89,147.45 1720.01,146.42 1720.13,149.06 1720.25,148.35 1720.37,151.01 1720.43,64.57 1720.49,72.84 1720.61,94.18 1720.72,101.64 1720.84,112.56 1720.96,118.90 1721.08,122.03 1721.20,124.49 1721.32,126.27 1721.44,126.09 1721.56,129.68 1721.67,129.77 1721.79,132.91 1721.91,131.30 1722.03,132.63 1722.15,133.97 1722.27,133.63 1722.39,133.79 1722.51,133.55 1722.62,133.36 1722.74,134.99 1722.86,135.50 1722.98,133.18 1723.10,137.30 1723.22,135.65 1723.34,132.22 1723.46,139.33 1723.58,136.18 1723.69,134.08 1723.81,138.10 1723.93,131.35 1724.05,140.10 1724.17,133.80 1724.29,133.96 1724.41,135.44 1724.53,137.83 1724.64,137.50 1724.76,140.32 1724.88,138.44 1725.00,142.72 1725.12,142.69 1725.18,366.37 1725.24,145.67 1725.36,149.13 1725.48,147.90 1725.59,147.03 1725.71,149.50 1725.83,145.39 1725.95,146.74 1726.07,149.79 1726.19,147.38 1726.31,148.57 1726.37,65.61 1726.43,76.80 1726.55,91.57 1726.66,104.37 1726.78,109.94 1726.90,118.68 1727.02,120.27 1727.14,125.12 1727.26,125.96 1727.38,129.95 1727.50,131.14 1727.61,133.14 1727.73,131.00 1727.85,130.95 1727.97,129.42 1728.09,131.10 1728.21,133.07 1728.33,134.04 1728.45,133.23 1728.56,134.07 1728.68,131.76 1728.80,132.74 1728.92,135.78 1729.04,135.65 1729.16,132.40 1729.28,134.26 1729.40,135.27 1729.52,133.09 1729.63,135.84 1729.75,135.85 1729.87,136.36 1729.99,139.08 1730.11,134.74 1730.23,138.50 1730.35,137.88 1730.47,138.68 1730.58,136.90 1730.70,138.96 1730.82,139.74 1730.94,143.64 1731.06,142.39 1731.12,359.93 1731.18,149.72 1731.30,146.80 1731.42,146.70 1731.53,147.33 1731.65,143.95 1731.77,146.44 1731.89,146.32 1732.01,147.07 1732.13,147.62 1732.25,145.72 1732.31,69.07 1732.37,76.85 1732.49,95.93 1732.60,102.98 1732.72,111.75 1732.84,116.72 1732.96,121.67 1733.08,127.48 1733.20,129.57 1733.32,126.27 1733.44,130.05 1733.55,133.68 1733.67,131.45 1733.79,133.13 1733.91,135.96 1734.03,137.00 1734.15,136.13 1734.27,133.26 1734.39,133.96 1734.50,134.44 1734.62,133.70 1734.74,133.30 1734.86,137.86 1734.98,135.02 1735.10,136.00 1735.22,136.79 1735.34,135.79 1735.46,135.24 1735.57,135.64 1735.69,137.78 1735.81,136.40 1735.93,132.55 1736.05,137.89 1736.17,139.29 1736.29,136.50 1736.41,136.49 1736.52,137.33 1736.64,140.68 1736.76,138.13 1736.88,142.17 1737.00,144.10 1737.06,369.46 1737.12,148.30 1737.24,147.48 1737.36,146.13 1737.47,146.28 1737.59,147.34 1737.71,145.77 1737.83,147.17 1737.95,145.83 1738.07,149.60 1738.19,149.88 1738.25,69.46 1738.31,77.71 1738.43,96.31 1738.54,105.38 1738.66,112.88 1738.78,119.18 1738.90,123.24 1739.02,123.20 1739.14,131.83 1739.26,127.84 1739.38,126.71 1739.49,131.33 1739.61,132.06 1739.73,131.35 1739.85,129.94 1739.97,135.20 1740.09,133.36 1740.21,134.01 1740.33,132.96 1740.44,133.77 1740.56,133.08 1740.68,134.98 1740.80,134.33 1740.92,135.62 1741.04,135.73 1741.16,135.00 1741.28,135.13 1741.40,136.96 1741.51,132.63 1741.63,135.61 1741.75,137.88 1741.87,134.05 1741.99,137.39 1742.11,135.68 1742.23,136.98 1742.35,137.05 1742.46,137.81 1742.58,139.79 1742.70,139.70 1742.82,137.55 1742.94,145.91 1743.00,373.44 1743.06,147.19 1743.18,146.59 1743.30,149.03 1743.41,149.55 1743.53,143.76 1743.65,147.91 1743.77,143.89 1743.89,146.42 1744.01,147.18 1744.13,146.52 1744.19,67.40 1744.25,76.20 1744.37,90.85 1744.48,103.27 1744.60,111.84 1744.72,117.64 1744.84,119.95 1744.96,123.91 1745.08,129.15 1745.20,130.21 1745.32,129.85 1745.43,132.32 1745.55,132.61 1745.67,134.08 1745.79,133.35 1745.91,132.54 1746.03,131.86 1746.15,133.68 1746.27,130.47 1746.38,134.15 1746.50,128.93 1746.62,132.64 1746.74,133.59 1746.86,135.34 1746.98,139.27 1747.10,135.02 1747.22,134.60 1747.34,131.89 1747.45,137.47 1747.57,132.26 1747.69,136.02 1747.81,134.67 1747.93,140.33 1748.05,136.29 1748.17,137.51 1748.29,136.35 1748.40,137.94 1748.52,140.72 1748.64,138.21 1748.76,139.74 1748.88,141.26 1748.94,374.22 1749.00,145.65 1749.12,145.49 1749.24,147.34 1749.35,149.53 1749.47,149.57 1749.59,145.09 1749.71,146.14 1749.83,147.13 1749.95,148.01 1750.07,147.25 1750.13,67.04 1750.19,76.89 1750.31,93.12 1750.42,104.98 1750.54,108.41 1750.66,117.47 1750.78,123.10 1750.90,127.35 1751.02,128.67 1751.14,127.96 1751.26,129.13 1751.37,131.65 1751.49,131.90 1751.61,133.01 1751.73,134.73 1751.85,131.10 1751.97,132.88 1752.09,129.64 1752.21,135.11 1752.32,134.25 1752.44,132.71 1752.56,134.69 1752.68,136.68 1752.80,136.08 1752.92,134.47 1753.04,134.20 1753.16,135.05 1753.28,133.39 1753.39,133.58 1753.51,134.86 1753.63,135.56 1753.75,136.27 1753.87,135.26 1753.99,135.01 1754.11,136.85 1754.23,136.73 1754.34,138.62 1754.46,141.16 1754.58,141.41 1754.70,139.63 1754.82,141.51 1754.88,360.39 1754.94,144.69 1755.06,147.21 1755.18,145.88 1755.29,145.13 1755.41,145.67 1755.53,148.30 1755.65,147.60 1755.77,147.09 1755.89,148.92 1756.01,146.52 1756.07,65.23 1756.13,73.72 1756.25,92.26 1756.36,99.81 1756.48,111.88 1756.60,117.77 1756.72,122.21 1756.84,126.17 1756.96,126.64 1757.08,129.00 1757.20,127.57 1757.31,130.24 1757.43,131.06 1757.55,132.84 1757.67,135.21 1757.79,133.36 1757.91,134.87 1758.03,132.13 1758.15,133.92 1758.26,131.29 1758.38,132.95 1758.50,132.91 1758.62,134.03 1758.74,134.18 1758.86,133.57 1758.98,133.25 1759.10,136.06 1759.22,134.23 1759.33,130.90 1759.45,135.54 1759.57,136.03 1759.69,137.00 1759.81,138.54 1759.93,134.57 1760.05,136.85 1760.17,136.97 1760.28,135.06 1760.40,134.73 1760.52,141.22 1760.64,139.15 1760.76,141.22 1760.82,369.70 1760.88,146.65 1761.00,146.51 1761.12,147.34 1761.23,144.69 1761.35,146.29 1761.47,146.73 1761.59,145.25 1761.71,145.83 1761.83,146.54 1761.95,146.76 1762.01,64.68 1762.07,72.05 1762.19,90.30 1762.30,102.95 1762.42,112.63 1762.54,117.88 1762.66,123.45 1762.78,124.76 1762.90,126.86 1763.02,132.36 1763.14,130.24 1763.25,130.15 1763.37,131.65 1763.49,134.03 1763.61,130.80 1763.73,134.35 1763.85,135.48 1763.97,135.46 1764.09,133.89 1764.20,132.41 1764.32,132.24 1764.44,133.94 1764.56,136.36 1764.68,135.59 1764.80,136.11 1764.92,135.05 1765.04,137.80 1765.16,134.86 1765.27,134.14 1765.39,135.63 1765.51,134.85 1765.63,137.40 1765.75,138.54 1765.87,137.56 1765.99,135.05 1766.11,135.77 1766.22,138.84 1766.34,136.87 1766.46,140.30 1766.58,138.40 1766.70,141.45 1766.76,372.89 1766.82,148.04 1766.94,146.00 1767.06,148.57 1767.17,148.83 1767.29,149.68 1767.41,146.88 1767.53,147.39 1767.65,147.43 1767.77,147.97 1767.89,144.94 1767.95,65.03 1768.01,75.93 1768.13,92.53 1768.24,100.91 1768.36,109.01 1768.48,116.84 1768.60,124.64 1768.72,125.96 1768.84,126.31 1768.96,129.00 1769.08,127.74 1769.19,133.47 1769.31,130.83 1769.43,133.50 1769.55,130.72 1769.67,133.34 1769.79,131.79 1769.91,134.75 1770.03,136.18 1770.14,135.84 1770.26,135.15 1770.38,135.97 1770.50,132.44 1770.62,132.33 1770.74,134.19 1770.86,136.46 1770.98,135.09 1771.10,136.17 1771.21,132.82 1771.33,134.87 1771.45,134.80 1771.57,136.52 1771.69,139.46 1771.81,137.78 1771.93,138.78 1772.05,136.86 1772.16,137.93 1772.28,140.16 1772.40,140.40 1772.52,138.31 1772.64,143.82 1772.70,365.07 1772.76,148.81 1772.88,147.67 1773.00,148.45 1773.11,148.00 1773.23,146.43 1773.35,144.46 1773.47,150.22 1773.59,147.33 1773.71,147.23 1773.83,147.44 1773.89,68.53 1773.95,78.50 1774.07,94.03 1774.18,102.83 1774.30,113.19 1774.42,118.38 1774.54,122.35 1774.66,125.21 1774.78,127.88 1774.90,127.59 1775.02,130.45 1775.13,131.05 1775.25,132.10 1775.37,134.17 1775.49,134.29 1775.61,134.97 1775.73,133.18 1775.85,134.87 1775.97,135.62 1776.08,133.64 1776.20,133.30 1776.32,137.18 1776.44,131.64 1776.56,134.47 1776.68,134.81 1776.80,133.01 1776.92,134.78 1777.04,136.03 1777.15,131.60 1777.27,137.15 1777.39,135.77 1777.51,134.47 1777.63,137.91 1777.75,136.69 1777.87,136.31 1777.99,133.53 1778.10,139.55 1778.22,138.92 1778.34,138.69 1778.46,140.75 1778.58,144.22 1778.64,360.99 1778.70,146.63 1778.82,147.12 1778.94,146.57 1779.05,145.45 1779.17,145.64 1779.29,146.63 1779.41,146.79 1779.53,149.10 1779.65,147.52 1779.77,146.94 1779.83,67.03 1779.89,77.58 1780.01,92.40 1780.12,105.18 1780.24,109.44 1780.36,114.31 1780.48,122.75 1780.60,124.55 1780.72,127.86 1780.84,127.07 1780.96,129.66 1781.07,131.16 1781.19,132.35 1781.31,132.30 1781.43,134.55 1781.55,132.12 1781.67,134.66 1781.79,132.82 1781.91,133.66 1782.02,132.23 1782.14,134.19 1782.26,132.61 1782.38,135.92 1782.50,133.52 1782.62,135.01 1782.74,134.44 1782.86,134.78 1782.98,133.50 1783.09,138.52 1783.21,134.86 1783.33,138.06 1783.45,133.88 1783.57,139.40 1783.69,138.16 1783.81,139.69 1783.93,134.78 1784.04,140.20 1784.16,138.66 1784.28,140.64 1784.40,143.83 1784.52,142.80 1784.58,365.02 1784.64,146.21 1784.76,147.60 1784.88,145.76 1784.99,147.89 1785.11,147.29 1785.23,147.93 1785.35,146.74 1785.47,144.19 1785.59,146.71 1785.71,146.98 1785.77,69.87 1785.83,80.34 1785.95,95.52 1786.06,102.66 1786.18,114.67 1786.30,119.97 1786.42,122.72 1786.54,126.23 1786.66,124.50 1786.78,133.19 1786.90,129.90 1787.01,130.21 1787.13,133.88 1787.25,133.61 1787.37,132.24 1787.49,130.58 1787.61,135.01 1787.73,136.30 1787.85,132.29 1787.96,131.53 1788.08,134.72 1788.20,137.92 1788.32,132.03 1788.44,134.85 1788.56,132.80 1788.68,134.84 1788.80,135.51 1788.92,135.78 1789.03,132.79 1789.15,133.04 1789.27,139.11 1789.39,137.40 1789.51,133.25 1789.63,137.12 1789.75,139.18 1789.87,137.46 1789.98,138.27 1790.10,139.01 1790.22,140.55 1790.34,141.39 1790.46,142.99 1790.52,372.36 1790.58,146.75 1790.70,148.63 1790.82,147.78 1790.93,147.54 1791.05,145.16 1791.17,146.69 1791.29,147.48 1791.41,146.42 1791.53,146.64 1791.65,145.52 1791.71,67.44 1791.77,76.44 1791.89,89.87 1792.00,101.80 1792.12,112.15 1792.24,118.61 1792.36,120.72 1792.48,124.41 1792.60,127.67 1792.72,131.59 1792.84,133.40 1792.95,130.73 1793.07,130.73 1793.19,131.20 1793.31,135.03 1793.43,131.53 1793.55,134.37 1793.67,133.06 1793.79,133.19 1793.90,135.34 1794.02,135.13 1794.14,137.69 1794.26,135.91 1794.38,137.48 1794.50,133.92 1794.62,134.66 1794.74,133.40 1794.86,134.46 1794.97,136.24 1795.09,134.82 1795.21,136.25 1795.33,134.86 1795.45,135.64 1795.57,138.14 1795.69,136.94 1795.81,137.37 1795.92,138.59 1796.04,137.38 1796.16,136.96 1796.28,141.49 1796.40,142.82 1796.46,368.20 1796.52,150.99 1796.64,147.51 1796.76,148.02 1796.87,150.85 1796.99,146.83 1797.11,146.33 1797.23,148.51 1797.35,147.91 1797.47,148.89 1797.59,146.05 1797.65,70.19 1797.71,82.09 1797.83,94.99 1797.94,102.00 1798.06,112.86 1798.18,117.78 1798.30,122.85 1798.42,127.50 1798.54,127.79 1798.66,128.66 1798.78,132.18 1798.89,130.83 1799.01,130.01 1799.13,130.80 1799.25,135.54 1799.37,134.86 1799.49,136.15 1799.61,131.95 1799.73,132.88 1799.84,132.88 1799.96,135.61 1800.08,136.20 1800.20,134.28 1800.32,134.36 1800.44,136.04 1800.56,134.53 1800.68,133.84 1800.80,134.67 1800.91,136.91 1801.03,138.86 1801.15,136.03 1801.27,135.59 1801.39,136.59 1801.51,137.22 1801.63,138.08 1801.75,136.29 1801.86,138.18 1801.98,138.64 1802.10,141.36 1802.22,141.90 1802.34,141.97 1802.40,370.48 1802.46,148.95 1802.58,149.37 1802.70,147.84 1802.81,145.33 1802.93,146.99 1803.05,144.91 1803.17,147.52 1803.29,147.81 1803.41,149.59 1803.53,148.25 1803.59,69.95 1803.65,77.04 1803.77,93.79 1803.88,103.89 1804.00,111.71 1804.12,118.51 1804.24,122.91 1804.36,125.35 1804.48,126.62 1804.60,128.56 1804.72,129.69 1804.83,131.13 1804.95,133.31 1805.07,132.98 1805.19,134.49 1805.31,131.61 1805.43,136.95 1805.55,134.07 1805.67,129.97 1805.78,134.59 1805.90,136.03 1806.02,134.32 1806.14,132.29 1806.26,134.79 1806.38,133.64 1806.50,134.60 1806.62,135.51 1806.74,129.87 1806.85,135.09 1806.97,136.27 1807.09,136.41 1807.21,135.24 1807.33,135.49 1807.45,135.25 1807.57,136.72 1807.69,139.81 1807.80,137.22 1807.92,139.35 1808.04,140.23 1808.16,143.31 1808.28,143.18 1808.34,374.58 1808.40,148.49 1808.52,147.36 1808.64,149.68 1808.75,147.22 1808.87,147.10 1808.99,149.14 1809.11,148.32 1809.23,148.71 1809.35,145.81 1809.47,151.45 1809.53,69.88 1809.59,79.90 1809.71,97.01 1809.82,105.77 1809.94,111.45 1810.06,119.50 1810.18,122.33 1810.30,126.91 1810.42,124.52 1810.54,127.80 1810.66,128.63 1810.77,133.53 1810.89,133.82 1811.01,130.75 1811.13,133.22 1811.25,133.63 1811.37,132.90 1811.49,135.69 1811.61,132.52 1811.72,133.89 1811.84,133.24 1811.96,135.22 1812.08,133.36 1812.20,135.43 1812.32,132.77 1812.44,132.54 1812.56,132.95 1812.68,133.64 1812.79,133.49 1812.91,139.01 1813.03,133.23 1813.15,135.08 1813.27,134.51 1813.39,135.15 1813.51,136.99 1813.63,135.62" fill="none" stroke="#f3bd25" stroke-width="2.5" stroke-linejoin="round"/><text x="1235.3" y="40.8" text-anchor="start" style="font-family:'Liberation Sans',Arial,sans-serif;font-weight:bold;font-size:34px" fill="#000" >(c)</text><rect x="103.2" y="468.9" width="475.00" height="392.90" fill="none" stroke="#1e1e1e" stroke-width="1.8"/><line x1="103.20" y1="839.80" x2="107.70" y2="839.80" stroke="#1e1e1e" stroke-width="1.6"/><line x1="103.20" y1="774.40" x2="107.70" y2="774.40" stroke="#1e1e1e" stroke-width="1.6"/><line x1="103.20" y1="709.00" x2="107.70" y2="709.00" stroke="#1e1e1e" stroke-width="1.6"/><line x1="103.20" y1="643.60" x2="107.70" y2="643.60" stroke="#1e1e1e" stroke-width="1.6"/><line x1="103.20" y1="578.20" x2="107.70" y2="578.20" stroke="#1e1e1e" stroke-width="1.6"/><line x1="103.20" y1="512.80" x2="107.70" y2="512.80" stroke="#1e1e1e" stroke-width="1.6"/><line x1="103.20" y1="807.10" x2="105.70" y2="807.10" stroke="#1e1e1e" stroke-width="1.6"/><line x1="103.20" y1="741.70" x2="105.70" y2="741.70" stroke="#1e1e1e" stroke-width="1.6"/><line x1="103.20" y1="676.30" x2="105.70" y2="676.30" stroke="#1e1e1e" stroke-width="1.6"/><line x1="103.20" y1="610.90" x2="105.70" y2="610.90" stroke="#1e1e1e" stroke-width="1.6"/><line x1="103.20" y1="545.50" x2="105.70" y2="545.50" stroke="#1e1e1e" stroke-width="1.6"/><line x1="103.20" y1="480.10" x2="105.70" y2="480.10" stroke="#1e1e1e" stroke-width="1.6"/><line x1="578.20" y1="825.80" x2="573.70" y2="825.80" stroke="#1e1e1e" stroke-width="1.6"/><line x1="578.20" y1="754.55" x2="573.70" y2="754.55" stroke="#1e1e1e" stroke-width="1.6"/><line x1="578.20" y1="683.30" x2="573.70" y2="683.30" stroke="#1e1e1e" stroke-width="1.6"/><line x1="578.20" y1="612.05" x2="573.70" y2="612.05" stroke="#1e1e1e" stroke-width="1.6"/><line x1="578.20" y1="540.80" x2="573.70" y2="540.80" stroke="#1e1e1e" stroke-width="1.6"/><line x1="578.20" y1="790.17" x2="575.70" y2="790.17" stroke="#1e1e1e" stroke-width="1.6"/><line x1="578.20" y1="718.92" x2="575.70" y2="718.92" stroke="#1e1e1e" stroke-width="1.6"/><line x1="578.20" y1="647.67" x2="575.70" y2="647.67" stroke="#1e1e1e" stroke-width="1.6"/><line x1="578.20" y1="576.42" x2="575.70" y2="576.42" stroke="#1e1e1e" stroke-width="1.6"/><line x1="578.20" y1="505.17" x2="575.70" y2="505.17" stroke="#1e1e1e" stroke-width="1.6"/><line x1="206.20" y1="861.80" x2="206.20" y2="857.30" stroke="#1e1e1e" stroke-width="1.6"/><line x1="382.40" y1="861.80" x2="382.40" y2="857.30" stroke="#1e1e1e" stroke-width="1.6"/><line x1="558.60" y1="861.80" x2="558.60" y2="857.30" stroke="#1e1e1e" stroke-width="1.6"/><line x1="114.07" y1="861.80" x2="114.07" y2="859.30" stroke="#1e1e1e" stroke-width="1.6"/><line x1="136.08" y1="861.80" x2="136.08" y2="859.30" stroke="#1e1e1e" stroke-width="1.6"/><line x1="153.16" y1="861.80" x2="153.16" y2="859.30" stroke="#1e1e1e" stroke-width="1.6"/><line x1="167.11" y1="861.80" x2="167.11" y2="859.30" stroke="#1e1e1e" stroke-width="1.6"/><line x1="178.91" y1="861.80" x2="178.91" y2="859.30" stroke="#1e1e1e" stroke-width="1.6"/><line x1="189.12" y1="861.80" x2="189.12" y2="859.30" stroke="#1e1e1e" stroke-width="1.6"/><line x1="198.14" y1="861.80" x2="198.14" y2="859.30" stroke="#1e1e1e" stroke-width="1.6"/><line x1="259.24" y1="861.80" x2="259.24" y2="859.30" stroke="#1e1e1e" stroke-width="1.6"/><line x1="290.27" y1="861.80" x2="290.27" y2="859.30" stroke="#1e1e1e" stroke-width="1.6"/><line x1="312.28" y1="861.80" x2="312.28" y2="859.30" stroke="#1e1e1e" stroke-width="1.6"/><line x1="329.36" y1="861.80" x2="329.36" y2="859.30" stroke="#1e1e1e" stroke-width="1.6"/><line x1="343.31" y1="861.80" x2="343.31" y2="859.30" stroke="#1e1e1e" stroke-width="1.6"/><line x1="355.11" y1="861.80" x2="355.11" y2="859.30" stroke="#1e1e1e" stroke-width="1.6"/><line x1="365.32" y1="861.80" x2="365.32" y2="859.30" stroke="#1e1e1e" stroke-width="1.6"/><line x1="374.34" y1="861.80" x2="374.34" y2="859.30" stroke="#1e1e1e" stroke-width="1.6"/><line x1="435.44" y1="861.80" x2="435.44" y2="859.30" stroke="#1e1e1e" stroke-width="1.6"/><line x1="466.47" y1="861.80" x2="466.47" y2="859.30" stroke="#1e1e1e" stroke-width="1.6"/><line x1="488.48" y1="861.80" x2="488.48" y2="859.30" stroke="#1e1e1e" stroke-width="1.6"/><line x1="505.56" y1="861.80" x2="505.56" y2="859.30" stroke="#1e1e1e" stroke-width="1.6"/><line x1="519.51" y1="861.80" x2="519.51" y2="859.30" stroke="#1e1e1e" stroke-width="1.6"/><line x1="531.31" y1="861.80" x2="531.31" y2="859.30" stroke="#1e1e1e" stroke-width="1.6"/><line x1="541.52" y1="861.80" x2="541.52" y2="859.30" stroke="#1e1e1e" stroke-width="1.6"/><line x1="550.54" y1="861.80" x2="550.54" y2="859.30" stroke="#1e1e1e" stroke-width="1.6"/><text x="97.8" y="850.2" text-anchor="end" style="font-family:'Liberation Sans',Arial,sans-serif;font-weight:bold;font-size:26px" fill="#000" >0</text><text x="97.8" y="784.8" text-anchor="end" style="font-family:'Liberation Sans',Arial,sans-serif;font-weight:bold;font-size:26px" fill="#000" >30</text><text x="97.8" y="719.4" text-anchor="end" style="font-family:'Liberation Sans',Arial,sans-serif;font-weight:bold;font-size:26px" fill="#000" >60</text><text x="97.8" y="654.0" text-anchor="end" style="font-family:'Liberation Sans',Arial,sans-serif;font-weight:bold;font-size:26px" fill="#000" >90</text><text x="97.8" y="588.6" text-anchor="end" style="font-family:'Liberation Sans',Arial,sans-serif;font-weight:bold;font-size:26px" fill="#000" >120</text><text x="97.8" y="523.2" text-anchor="end" style="font-family:'Liberation Sans',Arial,sans-serif;font-weight:bold;font-size:26px" fill="#000" >150</text><text x="586.2" y="836.2" text-anchor="start" style="font-family:'Liberation Sans',Arial,sans-serif;font-weight:bold;font-size:26px" fill="#000" >200</text><text x="586.2" y="764.9" text-anchor="start" style="font-family:'Liberation Sans',Arial,sans-serif;font-weight:bold;font-size:26px" fill="#000" >400</text><text x="586.2" y="693.7" text-anchor="start" style="font-family:'Liberation Sans',Arial,sans-serif;font-weight:bold;font-size:26px" fill="#000" >600</text><text x="586.2" y="622.4" text-anchor="start" style="font-family:'Liberation Sans',Arial,sans-serif;font-weight:bold;font-size:26px" fill="#000" >800</text><text x="586.2" y="551.2" text-anchor="start" style="font-family:'Liberation Sans',Arial,sans-serif;font-weight:bold;font-size:26px" fill="#000" >1 000</text><text x="586.2" y="479.9" text-anchor="start" style="font-family:'Liberation Sans',Arial,sans-serif;font-weight:bold;font-size:26px" fill="#000" >1 200</text><text x="206.2" y="889.8" text-anchor="middle" style="font-family:'Liberation Sans',Arial,sans-serif;font-weight:bold;font-size:26px" fill="#000" >1</text><text x="382.4" y="889.8" text-anchor="middle" style="font-family:'Liberation Sans',Arial,sans-serif;font-weight:bold;font-size:26px" fill="#000" >10</text><text x="558.6" y="889.8" text-anchor="middle" style="font-family:'Liberation Sans',Arial,sans-serif;font-weight:bold;font-size:26px" fill="#000" >100</text><text x="322.3" y="924.7" text-anchor="middle" style="font-family:'Liberation Sans',Arial,sans-serif;font-weight:bold;font-size:30px" fill="#000" >Resistance/MΩ</text><text transform="translate(45.2,660.3) rotate(-90)" text-anchor="middle" style="font-family:'Liberation Sans',Arial,sans-serif;font-weight:bold;font-size:30px" fill="#000">Voltage/V</text><text transform="translate(667.8,660.2) rotate(-90)" text-anchor="middle" style="font-family:'Liberation Sans',Arial,sans-serif;font-weight:bold;font-size:30px" fill="#000">Power/μW</text><polyline points="136.08,820.77 137.44,820.76 138.79,820.71 140.15,820.64 141.51,820.53 142.86,820.41 144.22,820.26 145.57,820.09 146.93,819.91 148.29,819.71 149.64,819.50 151.00,819.28 152.35,819.05 153.71,818.81 155.07,818.46 156.42,818.01 157.78,817.47 159.13,816.89 160.49,816.28 161.85,815.66 163.20,815.06 164.56,814.51 165.91,814.04 167.27,813.66 168.63,813.35 169.98,813.09 171.34,812.87 172.69,812.65 174.05,812.44 175.41,812.21 176.76,811.96 178.12,811.66 179.47,811.30 180.83,810.84 182.19,810.30 183.54,809.70 184.90,809.05 186.25,808.39 187.61,807.72 188.97,807.06 190.32,806.40 191.68,805.69 193.03,804.95 194.39,804.22 195.75,803.54 197.10,802.92 198.46,802.41 199.81,802.00 201.17,801.64 202.53,801.32 203.88,800.98 205.24,800.60 206.59,800.14 207.95,799.62 209.31,799.07 210.66,798.48 212.02,797.85 213.37,797.19 214.73,796.49 216.09,795.76 217.44,795.00 218.80,794.21 220.15,793.40 221.51,792.56 222.87,791.69 224.22,790.80 225.58,789.89 226.93,788.95 228.29,788.00 229.65,787.03 231.00,786.04 232.36,785.04 233.71,784.03 235.07,783.00 236.43,781.96 237.78,780.91 239.14,779.85 240.49,778.79 241.85,777.72 243.21,776.65 244.56,775.57 245.92,774.50 247.27,773.42 248.63,772.34 249.99,771.27 251.34,770.20 252.70,769.14 254.05,768.09 255.41,767.04 256.77,766.00 258.12,764.98 259.48,763.97 260.83,762.96 262.19,761.95 263.55,760.95 264.90,759.94 266.26,758.93 267.61,757.91 268.97,756.89 270.33,755.86 271.68,754.82 273.04,753.78 274.39,752.72 275.75,751.66 277.11,750.58 278.46,749.48 279.82,748.37 281.17,747.25 282.53,746.10 283.89,744.94 285.24,743.76 286.60,742.56 287.95,741.33 289.31,740.08 290.67,738.80 292.02,737.50 293.38,736.16 294.73,734.78 296.09,733.38 297.45,731.95 298.80,730.48 300.16,728.99 301.51,727.48 302.87,725.93 304.23,724.36 305.58,722.77 306.94,721.16 308.29,719.52 309.65,717.86 311.01,716.19 312.36,714.49 313.72,712.75 315.07,710.96 316.43,709.11 317.79,707.23 319.14,705.30 320.50,703.35 321.85,701.38 323.21,699.39 324.57,697.39 325.92,695.39 327.28,693.40 328.63,691.42 329.99,689.46 331.35,687.48 332.70,685.47 334.06,683.46 335.41,681.44 336.77,679.42 338.13,677.40 339.48,675.40 340.84,673.42 342.19,671.47 343.55,669.54 344.91,667.62 346.26,665.68 347.62,663.74 348.97,661.83 350.33,659.96 351.69,658.13 353.04,656.37 354.40,654.70 355.75,653.13 357.11,651.69 358.47,650.36 359.82,649.08 361.18,647.81 362.53,646.49 363.89,645.07 365.25,643.52 366.60,641.79 367.96,639.88 369.31,637.85 370.67,635.74 372.03,633.60 373.38,631.48 374.74,629.41 376.09,627.29 377.45,625.12 378.81,622.96 380.16,620.87 381.52,618.90 382.87,617.11 384.23,615.38 385.59,613.68 386.94,612.01 388.30,610.36 389.65,608.74 391.01,607.14 392.37,605.57 393.72,604.02 395.08,602.49 396.43,600.99 397.79,599.50 399.15,598.03 400.50,596.59 401.86,595.16 403.21,593.74 404.57,592.34 405.93,590.96 407.28,589.59 408.64,588.24 409.99,586.90 411.35,585.57 412.71,584.25 414.06,582.94 415.42,581.64 416.77,580.35 418.13,579.06 419.49,577.79 420.84,576.51 422.20,575.25 423.55,573.98 424.91,572.72 426.27,571.47 427.62,570.21 428.98,568.95 430.33,567.70 431.69,566.44 433.05,565.18 434.40,563.92 435.76,562.66 437.11,561.39 438.47,560.12 439.83,558.85 441.18,557.58 442.54,556.31 443.89,555.05 445.25,553.80 446.61,552.55 447.96,551.31 449.32,550.08 450.67,548.87 452.03,547.66 453.39,546.48 454.74,545.31 456.10,544.16 457.45,543.02 458.81,541.92 460.16,540.83 461.52,539.77 462.88,538.73 464.23,537.72 465.59,536.74 466.94,535.79 468.30,534.84 469.66,533.89 471.01,532.95 472.37,532.01 473.72,531.08 475.08,530.17 476.44,529.28 477.79,528.42 479.15,527.58 480.50,526.79 481.86,526.03 483.22,525.32 484.57,524.66 485.93,524.06 487.28,523.51 488.64,523.03 490.00,522.61 491.35,522.24 492.71,521.90 494.06,521.60 495.42,521.32 496.78,521.04 498.13,520.78 499.49,520.51 500.84,520.22 502.20,519.91 503.56,519.57 504.91,519.19 506.27,518.74 507.62,518.14 508.98,517.41 510.34,516.61 511.69,515.78 513.05,514.96 514.40,514.20 515.76,513.55 517.12,513.04 518.47,512.73 519.83,512.65 521.18,512.65 522.54,512.65 523.90,512.65 525.25,512.65 526.61,512.65 527.96,512.65 529.32,512.65 530.68,512.65 532.03,512.65 533.39,512.65 534.74,512.65 536.10,512.65 537.46,512.65 538.81,512.65 540.17,512.65 541.52,512.65" fill="none" stroke="#3a6ba4" stroke-width="2.3"/><polyline points="136.08,830.09 153.16,828.60 167.11,811.83 178.91,810.72 189.12,792.83 198.14,782.77 206.20,777.18 259.24,681.43 290.27,645.66 312.28,603.19 329.36,560.34 343.31,534.26 355.11,525.69 365.32,526.81 374.34,530.16 382.40,546.93 435.44,609.52 466.47,667.27 488.48,709.75 505.56,742.91 519.51,764.14 531.31,782.77 541.52,796.93" fill="none" stroke="#e21f26" stroke-width="2.3" stroke-linejoin="round"/><g fill="#3a6ba4"><circle cx="136.08" cy="820.77" r="4.3"/><circle cx="153.16" cy="818.91" r="4.3"/><circle cx="167.11" cy="813.70" r="4.3"/><circle cx="178.91" cy="811.46" r="4.3"/><circle cx="189.12" cy="806.99" r="4.3"/><circle cx="198.14" cy="802.52" r="4.3"/><circle cx="206.20" cy="800.28" r="4.3"/><circle cx="259.24" cy="764.14" r="4.3"/><circle cx="290.27" cy="739.18" r="4.3"/><circle cx="312.28" cy="714.59" r="4.3"/><circle cx="329.36" cy="690.37" r="4.3"/><circle cx="343.31" cy="669.88" r="4.3"/><circle cx="355.11" cy="653.86" r="4.3"/><circle cx="365.32" cy="643.43" r="4.3"/><circle cx="374.34" cy="630.01" r="4.3"/><circle cx="382.40" cy="617.72" r="4.3"/><circle cx="435.44" cy="562.95" r="4.3"/><circle cx="466.47" cy="536.13" r="4.3"/><circle cx="488.48" cy="523.08" r="4.3"/><circle cx="505.56" cy="518.99" r="4.3"/><circle cx="519.51" cy="512.65" r="4.3"/><circle cx="531.31" cy="512.65" r="4.3"/><circle cx="541.52" cy="512.65" r="4.3"/></g><g fill="#e21f26"><circle cx="136.08" cy="830.09" r="4.3"/><circle cx="153.16" cy="828.60" r="4.3"/><circle cx="167.11" cy="811.83" r="4.3"/><circle cx="178.91" cy="810.72" r="4.3"/><circle cx="189.12" cy="792.83" r="4.3"/><circle cx="198.14" cy="782.77" r="4.3"/><circle cx="206.20" cy="777.18" r="4.3"/><circle cx="259.24" cy="681.43" r="4.3"/><circle cx="290.27" cy="645.66" r="4.3"/><circle cx="312.28" cy="603.19" r="4.3"/><circle cx="329.36" cy="560.34" r="4.3"/><circle cx="343.31" cy="534.26" r="4.3"/><circle cx="355.11" cy="525.69" r="4.3"/><circle cx="365.32" cy="526.81" r="4.3"/><circle cx="374.34" cy="530.16" r="4.3"/><circle cx="382.40" cy="546.93" r="4.3"/><circle cx="435.44" cy="609.52" r="4.3"/><circle cx="466.47" cy="667.27" r="4.3"/><circle cx="488.48" cy="709.75" r="4.3"/><circle cx="505.56" cy="742.91" r="4.3"/><circle cx="519.51" cy="764.14" r="4.3"/><circle cx="531.31" cy="782.77" r="4.3"/><circle cx="541.52" cy="796.93" r="4.3"/></g><text x="122.8" y="725.2" text-anchor="start" style="font-family:'Liberation Sans',Arial,sans-serif;font-weight:bold;font-size:26.3px" fill="#000" >Voltage</text><line x1="241.5" y1="741" x2="140" y2="741" stroke="#e21f26" stroke-width="2.2"/><path d="M123 741L147 734.5L147 747.5Z" fill="#e21f26"/><text x="470.8" y="636.8" text-anchor="start" style="font-family:'Liberation Sans',Arial,sans-serif;font-weight:bold;font-size:26.3px" fill="#000" >Power</text><line x1="470.2" y1="649.4" x2="555" y2="649.4" stroke="#3a6ba4" stroke-width="2.2"/><path d="M570.5 649.4L546.5 642.9L546.5 655.9Z" fill="#3a6ba4"/><text x="5.2" y="474.7" text-anchor="start" style="font-family:'Liberation Sans',Arial,sans-serif;font-weight:bold;font-size:34px" fill="#000" >(d)</text><path d="M782.9 611V529.3H854V664.6H879.6" fill="none" stroke="#111" stroke-width="2.3"/><path d="M782.9 630.1V652M782.9 742.7V792.6H997.2V666" fill="none" stroke="#111" stroke-width="2.3"/><path d="M879.6 664.6L937 607.9L995.7 666.2L937 721.2Z" fill="none" stroke="#111" stroke-width="2.3"/><path d="M937 607.9V512.6H1052.4" fill="none" stroke="#111" stroke-width="2.3"/><path d="M937 721.2V819.9H1202.2V699.7" fill="none" stroke="#111" stroke-width="2.3"/><path d="M1131.6 512.6H1202.2V626.2" fill="none" stroke="#111" stroke-width="2.3"/><path d="M1088.6 543.6V819.9" fill="none" stroke="#111" stroke-width="2.3"/><line x1="1089.8" y1="536.5" x2="1102.3" y2="506.3" stroke="#111" stroke-width="2.3"/><circle cx="1056" cy="512.6" r="3.7" fill="#fff" stroke="#111" stroke-width="2"/><circle cx="1128" cy="512.6" r="3.7" fill="#fff" stroke="#111" stroke-width="2"/><circle cx="1088.6" cy="539.9" r="3.7" fill="#fff" stroke="#111" stroke-width="2"/><rect x="1070.5" y="668" width="37.8" height="4.2" fill="#1aa659"/><rect x="1070.5" y="687.6" width="37.8" height="4.2" fill="#1aa659"/><rect x="1078" y="672.2" width="21" height="15.4" fill="#fff"/><circle cx="937" cy="607.9" r="5" fill="#000"/><circle cx="879.6" cy="664.6" r="5" fill="#000"/><circle cx="995.7" cy="666.2" r="5" fill="#000"/><circle cx="937" cy="721.2" r="5" fill="#000"/><circle cx="1088.6" cy="819.9" r="5" fill="#000"/><rect x="892" y="622" width="40" height="40" fill="#fff" transform="rotate(0)" opacity="0"/><path d="M917.5 628.5L890.9 637.2L908.6 654.2Z" fill="#6aa84f"/><line x1="908.6" y1="618.8" x2="929.2" y2="639.6" stroke="#6aa84f" stroke-width="3.2"/><path d="M975.2 642.2L950.1 634.4L968.1 616.7Z" fill="#6aa84f"/><line x1="964.6" y1="654.9" x2="986.5" y2="634.4" stroke="#6aa84f" stroke-width="3.2"/><path d="M915.7 699.5L889.3 691.7L907.7 674.7Z" fill="#6aa84f"/><line x1="906.5" y1="710.8" x2="927.8" y2="690.3" stroke="#6aa84f" stroke-width="3.2"/><path d="M973.8 688.2L949.7 694.6L966.7 712.3Z" fill="#6aa84f"/><line x1="963.8" y1="674.7" x2="985.8" y2="695.3" stroke="#6aa84f" stroke-width="3.2"/><path d="M937 579.2L1022.6 666.2L937 749.8L852.5 664.6Z" fill="none" stroke="#000" stroke-width="2.4" stroke-dasharray="8 5.5"/><rect x="749.6" y="597.4" width="67.5" height="155.3" fill="none" stroke="#000" stroke-width="2.4" stroke-dasharray="9.5 6.5"/><rect x="763.2" y="609" width="37.9" height="4.2" fill="#f0b41e"/><rect x="763.2" y="628.1" width="37.9" height="4.2" fill="#f0b41e"/><ellipse cx="782.3" cy="697.3" rx="21.8" ry="45.4" fill="#f0b721"/><path d="M768.4 676.1C778 679.5 792 683.5 792 690C792 695.5 771 700.5 771 707.5C771 713.5 786 717 796.3 721.6" fill="none" stroke="#1c2c55" stroke-width="3"/><rect x="1176.4" y="620.1" width="49.6" height="90.4" fill="none" stroke="#000" stroke-width="2.4" stroke-dasharray="10 8"/><path d="M1188.8 699.8V648C1188.8 634 1195 626.2 1202.6 626.2C1210 626.2 1216.6 634 1216.6 648V699.8Z" fill="#426db8"/><text x="698.2" y="575.6" text-anchor="start" style="font-family:'Liberation Sans',Arial,sans-serif;font-weight:bold;font-size:26px" fill="#000" >TENG</text><text x="941.3" y="566.5" text-anchor="start" style="font-family:'Liberation Sans',Arial,sans-serif;font-weight:bold;font-size:26px" fill="#000" >Rectifier</text><text x="1015.6" y="717.0" text-anchor="start" style="font-family:'Liberation Sans',Arial,sans-serif;font-weight:bold;font-size:26px" fill="#000" >Capacitor</text><text x="1124.6" y="611.0" text-anchor="start" style="font-family:'Liberation Sans',Arial,sans-serif;font-weight:bold;font-size:26px" fill="#000" >Load</text><text x="691.2" y="474.5" text-anchor="start" style="font-family:'Liberation Sans',Arial,sans-serif;font-weight:bold;font-size:34px" fill="#000" >(e)</text><rect x="1368.4" y="480.0" width="473.70" height="381.00" fill="none" stroke="#1e1e1e" stroke-width="1.8"/><line x1="1368.40" y1="861.00" x2="1361.00" y2="861.00" stroke="#1e1e1e" stroke-width="1.6"/><line x1="1368.40" y1="797.35" x2="1361.00" y2="797.35" stroke="#1e1e1e" stroke-width="1.6"/><line x1="1368.40" y1="733.70" x2="1361.00" y2="733.70" stroke="#1e1e1e" stroke-width="1.6"/><line x1="1368.40" y1="670.05" x2="1361.00" y2="670.05" stroke="#1e1e1e" stroke-width="1.6"/><line x1="1368.40" y1="606.40" x2="1361.00" y2="606.40" stroke="#1e1e1e" stroke-width="1.6"/><line x1="1368.40" y1="542.75" x2="1361.00" y2="542.75" stroke="#1e1e1e" stroke-width="1.6"/><line x1="1368.40" y1="479.10" x2="1361.00" y2="479.10" stroke="#1e1e1e" stroke-width="1.6"/><line x1="1368.40" y1="829.17" x2="1364.40" y2="829.17" stroke="#1e1e1e" stroke-width="1.6"/><line x1="1368.40" y1="765.52" x2="1364.40" y2="765.52" stroke="#1e1e1e" stroke-width="1.6"/><line x1="1368.40" y1="701.88" x2="1364.40" y2="701.88" stroke="#1e1e1e" stroke-width="1.6"/><line x1="1368.40" y1="638.23" x2="1364.40" y2="638.23" stroke="#1e1e1e" stroke-width="1.6"/><line x1="1368.40" y1="574.58" x2="1364.40" y2="574.58" stroke="#1e1e1e" stroke-width="1.6"/><line x1="1368.40" y1="510.93" x2="1364.40" y2="510.93" stroke="#1e1e1e" stroke-width="1.6"/><line x1="1377.90" y1="861.00" x2="1377.90" y2="868.00" stroke="#1e1e1e" stroke-width="1.6"/><line x1="1472.55" y1="861.00" x2="1472.55" y2="868.00" stroke="#1e1e1e" stroke-width="1.6"/><line x1="1567.20" y1="861.00" x2="1567.20" y2="868.00" stroke="#1e1e1e" stroke-width="1.6"/><line x1="1661.85" y1="861.00" x2="1661.85" y2="868.00" stroke="#1e1e1e" stroke-width="1.6"/><line x1="1756.50" y1="861.00" x2="1756.50" y2="868.00" stroke="#1e1e1e" stroke-width="1.6"/><line x1="1425.23" y1="861.00" x2="1425.23" y2="864.80" stroke="#1e1e1e" stroke-width="1.6"/><line x1="1519.88" y1="861.00" x2="1519.88" y2="864.80" stroke="#1e1e1e" stroke-width="1.6"/><line x1="1614.53" y1="861.00" x2="1614.53" y2="864.80" stroke="#1e1e1e" stroke-width="1.6"/><line x1="1709.18" y1="861.00" x2="1709.18" y2="864.80" stroke="#1e1e1e" stroke-width="1.6"/><line x1="1803.83" y1="861.00" x2="1803.83" y2="864.80" stroke="#1e1e1e" stroke-width="1.6"/><text x="1355.5" y="871.4" text-anchor="end" style="font-family:'Liberation Sans',Arial,sans-serif;font-weight:bold;font-size:26px" fill="#000" >0.0</text><text x="1355.5" y="807.8" text-anchor="end" style="font-family:'Liberation Sans',Arial,sans-serif;font-weight:bold;font-size:26px" fill="#000" >0.5</text><text x="1355.5" y="744.1" text-anchor="end" style="font-family:'Liberation Sans',Arial,sans-serif;font-weight:bold;font-size:26px" fill="#000" >1.0</text><text x="1355.5" y="680.4" text-anchor="end" style="font-family:'Liberation Sans',Arial,sans-serif;font-weight:bold;font-size:26px" fill="#000" >1.5</text><text x="1355.5" y="616.8" text-anchor="end" style="font-family:'Liberation Sans',Arial,sans-serif;font-weight:bold;font-size:26px" fill="#000" >2.0</text><text x="1355.5" y="553.1" text-anchor="end" style="font-family:'Liberation Sans',Arial,sans-serif;font-weight:bold;font-size:26px" fill="#000" >2.5</text><text x="1355.5" y="489.5" text-anchor="end" style="font-family:'Liberation Sans',Arial,sans-serif;font-weight:bold;font-size:26px" fill="#000" >3.0</text><text x="1377.9" y="896.2" text-anchor="middle" style="font-family:'Liberation Sans',Arial,sans-serif;font-weight:bold;font-size:26px" fill="#000" >0</text><text x="1472.6" y="896.2" text-anchor="middle" style="font-family:'Liberation Sans',Arial,sans-serif;font-weight:bold;font-size:26px" fill="#000" >50</text><text x="1567.2" y="896.2" text-anchor="middle" style="font-family:'Liberation Sans',Arial,sans-serif;font-weight:bold;font-size:26px" fill="#000" >100</text><text x="1661.9" y="896.2" text-anchor="middle" style="font-family:'Liberation Sans',Arial,sans-serif;font-weight:bold;font-size:26px" fill="#000" >150</text><text x="1756.5" y="896.2" text-anchor="middle" style="font-family:'Liberation Sans',Arial,sans-serif;font-weight:bold;font-size:26px" fill="#000" >200</text><text x="1603.5" y="931.8" text-anchor="middle" style="font-family:'Liberation Sans',Arial,sans-serif;font-weight:bold;font-size:30px" fill="#000" >Time/s</text><text transform="translate(1292.4,660.4) rotate(-90)" text-anchor="middle" style="font-family:'Liberation Sans',Arial,sans-serif;font-weight:bold;font-size:30px" fill="#000">Voltage/V</text><polyline points="1378.09,835.89 1378.75,833.97 1379.41,834.19 1380.08,833.07 1380.74,829.94 1381.40,830.41 1382.06,826.83 1382.73,827.07 1383.39,826.48 1384.05,823.76 1384.71,821.93 1385.38,823.03 1386.04,819.47 1386.70,819.60 1387.37,816.99 1388.03,817.15 1388.69,816.81 1389.35,813.97 1390.02,812.40 1390.68,810.27 1391.34,809.32 1392.00,808.88 1392.67,808.37 1393.33,807.37 1393.99,805.99 1394.65,805.20 1395.32,803.57 1395.98,804.11 1396.64,800.84 1397.30,799.82 1397.97,796.66 1398.63,796.86 1399.29,796.64 1399.95,794.68 1400.62,794.89 1401.28,793.27 1401.94,793.08 1402.60,789.42 1403.27,788.93 1403.93,789.15 1404.59,787.17 1405.25,785.28 1405.92,784.51 1406.58,783.48 1407.24,783.32 1407.90,782.05 1408.57,780.40 1409.23,778.67 1409.89,778.92 1410.55,778.06 1411.22,775.26 1411.88,775.77 1412.54,773.17 1413.20,772.74 1413.87,771.20 1414.53,769.48 1415.19,769.24 1415.85,768.13 1416.52,768.38 1417.18,767.18 1417.84,765.13 1418.50,763.42 1419.17,762.51 1419.83,760.78 1420.49,761.30 1421.16,760.38 1421.82,758.76 1422.48,758.52 1423.14,757.58 1423.81,757.34 1424.47,754.80 1425.13,755.40 1425.79,753.21 1426.46,753.71 1427.12,750.82 1427.78,751.48 1428.44,749.09 1429.11,749.99 1429.77,748.16 1430.43,745.97 1431.09,746.55 1431.76,744.94 1432.42,744.42 1433.08,744.89 1433.74,741.96 1434.41,740.94 1435.07,741.20 1435.73,739.00 1436.39,739.13 1437.06,738.38 1437.72,736.71 1438.38,736.33 1439.04,733.16 1439.71,735.21 1440.37,732.57 1441.03,731.49 1441.69,732.88 1442.36,731.82 1443.02,729.19 1443.68,729.12 1444.34,727.59 1445.01,726.15 1445.67,726.45 1446.33,726.12 1446.99,726.54 1447.66,723.45 1448.32,723.47 1448.98,721.68 1449.64,720.91 1450.31,721.31 1450.97,718.11 1451.63,717.77 1452.29,717.12 1452.96,717.86 1453.62,716.45 1454.28,715.74 1454.95,714.83 1455.61,714.57 1456.27,712.58 1456.93,711.93 1457.60,711.03 1458.26,710.91 1458.92,708.75 1459.58,708.80 1460.25,710.25 1460.91,707.87 1461.57,706.65 1462.23,705.10 1462.90,705.30 1463.56,704.49 1464.22,704.04 1464.88,702.27 1465.55,702.36 1466.21,701.73 1466.87,701.08 1467.53,699.34 1468.20,699.43 1468.86,699.56 1469.52,697.07 1470.18,697.34 1470.85,695.80 1471.51,695.06 1472.17,693.70 1472.83,693.10 1473.50,693.62 1474.16,692.59 1474.82,692.73 1475.48,689.75 1476.15,689.99 1476.81,688.55 1477.47,689.16 1478.13,689.78 1478.80,686.35 1479.46,686.75 1480.12,686.03 1480.78,685.40 1481.45,684.27 1482.11,683.67 1482.77,684.61 1483.43,681.89 1484.10,682.45 1484.76,681.73 1485.42,679.38 1486.08,679.33 1486.75,679.63 1487.41,680.13 1488.07,677.93 1488.74,676.98 1489.40,676.80 1490.06,677.04 1490.72,676.04 1491.39,675.75 1492.05,673.99 1492.71,672.88 1493.37,672.09 1494.04,672.80 1494.70,671.42 1495.36,670.55 1496.02,670.73 1496.69,669.83 1497.35,667.47 1498.01,668.32 1498.67,667.18 1499.34,667.57 1500.00,666.59 1500.66,667.32 1501.32,665.42 1501.99,663.89 1502.65,662.59 1503.31,662.68 1503.97,662.47 1504.64,662.36 1505.30,662.26 1505.96,661.33 1506.62,660.15 1507.29,660.63 1507.95,658.73 1508.61,659.61 1509.27,659.64 1509.94,658.47 1510.60,658.40 1511.26,657.60 1511.92,655.11 1512.59,655.56 1513.25,654.67 1513.91,653.39 1514.57,652.75 1515.24,653.53 1515.90,651.57 1516.56,651.74 1517.22,651.47 1517.89,650.59 1518.55,651.46 1519.21,650.42 1519.88,649.36 1520.54,648.27 1521.20,648.47 1521.86,647.75 1522.53,646.37 1523.19,645.49 1523.85,645.45 1524.51,644.54 1525.18,645.28 1525.84,644.68 1526.50,643.68 1527.16,643.62 1527.83,643.26 1528.49,641.09 1529.15,641.98 1529.81,642.05 1530.48,640.43 1531.14,638.88 1531.80,639.71 1532.46,638.32 1533.13,639.09 1533.79,638.63 1534.45,638.27 1535.11,637.35 1535.78,635.34 1536.44,637.13 1537.10,634.50 1537.76,636.02 1538.43,634.94 1539.09,633.63 1539.75,633.30 1540.41,633.08 1541.08,634.06 1541.74,632.04 1542.40,632.62 1543.06,629.39 1543.73,631.04 1544.39,630.26 1545.05,630.80 1545.71,629.81 1546.38,629.96 1547.04,627.76 1547.70,628.24 1548.36,627.14 1549.03,627.63 1549.69,627.02 1550.35,625.19 1551.01,626.46 1551.68,626.63 1552.34,624.49 1553.00,625.21 1553.67,624.22 1554.33,622.74 1554.99,623.61 1555.65,621.86 1556.32,622.60 1556.98,620.50 1557.64,620.18 1558.30,621.11 1558.97,620.47 1559.63,620.50 1560.29,619.27 1560.95,618.11 1561.62,619.66 1562.28,617.42 1562.94,618.70 1563.60,617.91 1564.27,618.19 1564.93,614.78 1565.59,615.92 1566.25,615.35 1566.92,615.63 1567.58,613.88 1568.24,615.88 1568.90,613.83 1569.57,611.74 1570.23,613.30 1570.89,612.58 1571.55,611.67 1572.22,612.39 1572.88,611.34 1573.54,610.21 1574.20,610.39 1574.87,609.85 1575.53,609.99 1576.19,609.08 1576.85,608.87 1577.52,607.40 1578.18,607.56 1578.84,607.89 1579.50,609.18 1580.17,606.37 1580.83,605.94 1581.49,606.82 1582.15,607.25 1582.82,606.21 1583.48,604.24 1584.14,605.37 1584.80,604.52 1585.47,603.61 1586.13,602.46 1586.79,603.02 1587.46,602.70 1588.12,602.66 1588.78,600.61 1589.44,600.66 1590.11,601.17 1590.77,601.79 1591.43,600.95 1592.09,599.53 1592.76,600.15 1593.42,598.54 1594.08,598.58 1594.74,598.26 1595.41,597.61 1596.07,597.36 1596.73,598.03 1597.39,597.26 1598.06,594.86 1598.72,597.20 1599.38,596.28 1600.04,594.74 1600.71,595.32 1601.37,595.46 1602.03,595.49 1602.69,593.71 1603.36,592.98 1604.02,592.34 1604.68,593.01 1605.34,591.90 1606.01,593.14 1606.67,591.87 1607.33,592.17 1607.99,591.17 1608.66,590.38 1609.32,589.79 1609.98,591.01 1610.64,588.95 1611.31,589.93 1611.97,590.01 1612.63,589.02 1613.29,589.66 1613.96,588.20 1614.62,587.64 1615.28,587.68 1615.94,586.78 1616.61,587.10 1617.27,586.52 1617.93,587.29 1618.59,585.82 1619.26,586.17 1619.92,585.53 1620.58,584.93 1621.25,584.39 1621.91,585.46 1622.57,585.07 1623.23,583.78 1623.90,582.86 1624.56,582.62 1625.22,581.89 1625.88,581.26 1626.55,581.55 1627.21,581.63 1627.87,582.08 1628.53,581.69 1629.20,581.01 1629.86,580.13 1630.52,579.85 1631.18,579.70 1631.85,579.50 1632.51,578.59 1633.17,578.60 1633.83,578.22 1634.50,577.90 1635.16,578.24 1635.82,578.30 1636.48,576.83 1637.15,576.58 1637.81,576.76 1638.47,576.60 1639.13,574.24 1639.80,576.26 1640.46,575.54 1641.12,574.87 1641.78,575.65 1642.45,574.37 1643.11,572.79 1643.77,573.15 1644.43,573.08 1645.10,572.81 1645.76,572.88 1646.42,571.94 1647.08,572.49 1647.75,572.40 1648.41,571.71 1649.07,570.80 1649.73,570.94 1650.40,570.39 1651.06,572.16 1651.72,569.41 1652.38,568.24 1653.05,568.72 1653.71,569.70 1654.37,569.81 1655.04,568.67 1655.70,569.35 1656.36,567.75 1657.02,568.42 1657.69,567.00 1658.35,566.41 1659.01,568.72 1659.67,566.66 1660.34,567.14 1661.00,567.40 1661.66,566.52 1662.32,565.93 1662.99,564.70 1663.65,566.37 1664.31,564.13 1664.97,563.11 1665.64,563.92 1666.30,563.68 1666.96,563.84 1667.62,564.45 1668.29,562.87 1668.95,562.71 1669.61,562.17 1670.27,560.50 1670.94,561.63 1671.60,561.59 1672.26,560.46 1672.92,562.41 1673.59,561.99 1674.25,561.13 1674.91,561.08 1675.57,559.78 1676.24,560.29 1676.90,558.45 1677.56,558.35 1678.22,558.66 1678.89,559.28 1679.55,558.25 1680.21,557.84 1680.87,559.01 1681.54,557.67 1682.20,557.14 1682.86,557.25 1683.52,555.96 1684.19,555.97 1684.85,557.27 1685.51,556.29 1686.18,556.76 1686.84,555.42 1687.50,556.27 1688.16,554.65 1688.83,554.80 1689.49,554.10 1690.15,554.70 1690.81,555.45 1691.48,552.74 1692.14,553.97 1692.80,552.53 1693.46,553.00 1694.13,552.57 1694.79,551.43 1695.45,552.32 1696.11,551.26 1696.78,553.22 1697.44,551.17 1698.10,551.77 1698.76,551.44 1699.43,551.09 1700.09,550.58 1700.75,549.34 1701.41,551.77 1702.08,550.08 1702.74,550.41 1703.40,548.73 1704.06,549.70 1704.73,548.79 1705.39,549.20 1706.05,548.14 1706.71,547.64 1707.38,548.48 1708.04,547.90 1708.70,548.78 1709.36,547.22 1710.03,546.56 1710.69,547.40 1711.35,545.88 1712.01,548.08 1712.68,547.68 1713.34,547.09 1714.00,546.16 1714.66,545.54 1715.33,545.38 1715.99,545.14 1716.65,544.30 1717.31,544.98 1717.98,545.35 1718.64,545.10 1719.30,542.31 1719.97,545.48 1720.63,543.59 1721.29,542.11 1721.95,542.63 1722.62,543.40 1723.28,542.53 1723.94,541.65 1724.60,541.15 1725.27,542.53 1725.93,541.04 1726.59,541.20 1727.25,540.32 1727.92,539.88 1728.58,540.97 1729.24,541.59 1729.90,539.96 1730.57,538.68 1731.23,539.28 1731.89,539.41 1732.55,537.53 1733.22,539.93 1733.88,538.22 1734.54,539.13 1735.20,538.43 1735.87,538.18 1736.53,536.87 1737.19,538.52 1737.85,537.99 1738.52,538.58 1739.18,536.77 1739.84,537.27 1740.50,536.38 1741.17,537.30 1741.83,536.54 1742.49,535.25 1743.15,535.96 1743.82,535.13 1744.48,534.99 1745.14,535.44 1745.80,536.15 1746.47,533.99 1747.13,534.39 1747.79,533.56 1748.45,535.63 1749.12,535.14 1749.78,535.30 1750.44,534.12 1751.10,532.44 1751.77,532.59 1752.43,532.83 1753.09,532.50 1753.76,531.80 1754.42,532.40 1755.08,531.66 1755.74,531.64" fill="none" stroke="#e8736c" stroke-width="3.4" stroke-linejoin="round"/><polyline points="1756.12,533.20 1763.50,531.93 1763.88,566.05" fill="none" stroke="#eeaa35" stroke-width="2.8"/><polyline points="1763.88,567.72 1764.55,566.82 1765.21,565.97 1765.87,567.80 1766.53,568.09 1767.20,568.92 1767.86,569.31 1768.52,568.57 1769.18,570.11 1769.85,571.17 1770.51,573.25 1771.17,571.79 1771.83,573.34 1772.50,573.71 1773.16,572.20 1773.82,572.74 1774.48,575.23 1775.15,573.60 1775.81,574.38 1776.47,575.81 1777.13,575.13 1777.80,577.42 1778.46,577.57 1779.12,578.24 1779.78,578.47 1780.45,577.43 1781.11,579.60 1781.77,579.94 1782.43,580.27 1783.10,579.87 1783.76,580.76 1784.42,580.32 1785.08,582.00 1785.75,582.93 1786.41,582.81 1787.07,582.87 1787.73,584.09 1788.40,583.65 1789.06,582.95 1789.72,585.27 1790.38,585.27 1791.05,584.75 1791.71,586.76 1792.37,587.39 1793.03,588.06 1793.70,587.40 1794.36,587.79 1795.02,588.77 1795.69,589.11 1796.35,588.65 1797.01,589.43 1797.67,591.65 1798.34,591.06 1799.00,591.45 1799.66,591.46 1800.32,592.66 1800.99,593.48 1801.65,593.83 1802.31,595.35 1802.97,594.52 1803.64,595.48 1804.30,595.19 1804.96,596.86 1805.62,596.94 1806.29,597.88 1806.95,598.47 1807.61,597.64 1808.27,599.05 1808.94,598.86 1809.60,600.56 1810.26,600.12 1810.92,601.96 1811.59,601.51 1812.25,601.98 1812.91,601.59 1813.57,602.32 1814.24,602.99 1814.90,602.60 1815.56,603.45 1816.22,603.52 1816.89,603.67 1817.55,604.63 1818.21,605.12 1818.87,604.96 1819.54,605.83 1820.20,605.52 1820.86,605.27 1821.52,605.75 1822.19,606.98 1822.85,607.95 1823.51,607.28 1824.17,607.60 1824.84,606.91 1825.50,608.29 1826.16,608.40 1826.82,607.91 1827.49,609.05 1828.15,609.02 1828.81,607.79 1829.48,608.16 1830.14,608.99 1830.80,609.44 1831.46,610.54 1832.13,609.52" fill="none" stroke="#72b95b" stroke-width="3.4" stroke-linejoin="round"/><line x1="1583.9" y1="612.1" x2="1605.5" y2="654.6" stroke="#e8736c" stroke-width="1.6" stroke-dasharray="4 3"/><path d="M1610.0 663.5L1601.5 656.6L1609.5 652.5Z" fill="#e8736c"/><line x1="1760.8" y1="550.4" x2="1739.9" y2="607.2" stroke="#eeaa35" stroke-width="1.6" stroke-dasharray="4 3"/><path d="M1736.5 616.6L1735.7 605.7L1744.2 608.8Z" fill="#eeaa35"/><line x1="1802.7" y1="601.1" x2="1798.8" y2="651.2" stroke="#72b95b" stroke-width="1.6" stroke-dasharray="4 3"/><path d="M1798.0 661.2L1794.3 650.9L1803.3 651.6Z" fill="#72b95b"/><text x="1537.0" y="688.9" text-anchor="start" style="font-family:'Liberation Sans',Arial,sans-serif;font-weight:bold;font-size:26.2px" fill="#000" >Charging</text><text x="1635.5" y="636.9" text-anchor="start" style="font-family:'Liberation Sans',Arial,sans-serif;font-weight:bold;font-size:26.2px" fill="#000" >Power on</text><text x="1714.0" y="688.2" text-anchor="start" style="font-family:'Liberation Sans',Arial,sans-serif;font-weight:bold;font-size:26.2px" fill="#000" >Working</text><text x="1239.5" y="474.1" text-anchor="start" style="font-family:'Liberation Sans',Arial,sans-serif;font-weight:bold;font-size:34px" fill="#000" >(f)</text><clipPath id="cg"><rect x="99.2" y="937.7" width="538.4" height="404.29999999999995"/></clipPath><g clip-path="url(#cg)"><rect x="99.2" y="937.7" width="538.4" height="404.3" fill="#0b0b0c" /><path d="M563 937.7H637.6V1150H570Q565 1050 563 937.7Z" fill="#c4c4c2"/><rect x="564.0" y="937.7" width="73.6" height="30.3" fill="#dedede" /><rect x="564.0" y="967.5" width="73.6" height="2.0" fill="#a8a8a8" /><rect x="566.0" y="969.0" width="71.6" height="36.0" fill="#c2c2c0" /><rect x="566.0" y="1005.0" width="71.6" height="45.0" fill="#d0d0ce" /><rect x="567.4" y="1022.0" width="35.2" height="28.7" fill="#a87a60" /><rect x="567.4" y="1040.0" width="35.2" height="10.7" fill="#b8864a" /><rect x="567.0" y="1050.7" width="55.0" height="6.7" fill="#a9a9a9" /><rect x="567.0" y="1057.4" width="55.0" height="10.6" fill="#e9e9e7" /><rect x="568.0" y="1065.0" width="69.6" height="80.0" fill="#c4c4c2" /><rect x="567.0" y="1065.0" width="13.0" height="80.0" fill="#a2a2a0" /><line x1="590" y1="1068" x2="590" y2="1140" stroke="#9a9a98" stroke-width="1"/><line x1="605" y1="1068" x2="605" y2="1140" stroke="#9a9a98" stroke-width="1"/><line x1="620" y1="1068" x2="620" y2="1140" stroke="#9a9a98" stroke-width="1"/><path d="M224.0 1048.6L456.5 1055.6L458.4 1209.0L224.0 1209.0Z" fill="#333438" /><rect x="228" y="1058" width="223.8" height="138.4" fill="url(#scr)"/><rect x="228.0" y="1058.0" width="223.8" height="13.0" fill="#d6d0e2" /><rect x="301.8" y="1092.7" width="107.5" height="35.3" fill="#1d1b22" /><rect x="245.0" y="1135.7" width="165.8" height="44.5" fill="#1d1b22" /><polyline points="304.0,1105.9 306.6,1108.4 309.1,1107.0 311.7,1108.8 314.3,1109.0 316.9,1104.5 319.4,1104.1 322.0,1110.7 324.6,1106.1 327.2,1105.9 329.8,1112.0 332.3,1107.8 334.9,1110.7 337.5,1107.8 340.1,1109.1 342.6,1105.2 345.2,1109.1 347.8,1110.9 350.4,1108.2 352.9,1109.9 355.5,1109.4 358.1,1104.5 360.6,1110.1 363.2,1108.7 365.8,1106.4 368.4,1104.2 370.9,1110.9 373.5,1107.8 376.1,1109.8 378.7,1111.0 381.2,1109.7 383.8,1111.4 386.4,1107.2 389.0,1110.4 391.6,1107.6 394.1,1111.5 396.7,1111.0 399.3,1104.8 401.9,1105.1 404.4,1105.7 407.0,1111.7" fill="none" stroke="#a9a7b8" stroke-width="0.9"/><line x1="247" y1="1178" x2="400" y2="1140" stroke="#8a8898" stroke-width="1"/><rect x="238.0" y="1095.0" width="50.0" height="5.0" fill="#ebe8f2" /><rect x="238.0" y="1107.0" width="50.0" height="5.0" fill="#ebe8f2" /><rect x="236.0" y="1094.0" width="10.0" height="5.0" fill="#d07070" /><text x="273.5" y="1087.5" style="font-family:'Liberation Sans',Arial,sans-serif;font-weight:bold;font-size:5.9px" fill="#3232c8">TENG Performance Testing Program</text><rect x="228.0" y="1189.4" width="223.8" height="7.0" fill="#2f5cb6" /><rect x="255.8" y="1221.7" width="202.6" height="18.3" fill="#262830" /><ellipse cx="142" cy="1186" rx="22" ry="15" fill="#5a4444" opacity="0.75"/><rect x="99.2" y="1176.0" width="20.8" height="6.0" fill="#6a6a6a" /><rect x="99.2" y="1245.0" width="538.4" height="97.0" fill="#1e1e20" /><path d="M99.2 1262.0L350.0 1262.0L352.0 1312.0L99.2 1312.0Z" fill="#363638" /><g fill="#575759"><ellipse cx="102.2" cy="1268.0" rx="1.6" ry="1"/><ellipse cx="117.2" cy="1268.0" rx="1.6" ry="1"/><ellipse cx="132.2" cy="1268.0" rx="1.6" ry="1"/><ellipse cx="147.2" cy="1268.0" rx="1.6" ry="1"/><ellipse cx="162.2" cy="1268.0" rx="1.6" ry="1"/><ellipse cx="177.2" cy="1268.0" rx="1.6" ry="1"/><ellipse cx="192.2" cy="1268.0" rx="1.6" ry="1"/><ellipse cx="207.2" cy="1268.0" rx="1.6" ry="1"/><ellipse cx="222.2" cy="1268.0" rx="1.6" ry="1"/><ellipse cx="237.2" cy="1268.0" rx="1.6" ry="1"/><ellipse cx="252.2" cy="1268.0" rx="1.6" ry="1"/><ellipse cx="267.2" cy="1268.0" rx="1.6" ry="1"/><ellipse cx="282.2" cy="1268.0" rx="1.6" ry="1"/><ellipse cx="297.2" cy="1268.0" rx="1.6" ry="1"/><ellipse cx="312.2" cy="1268.0" rx="1.6" ry="1"/><ellipse cx="327.2" cy="1268.0" rx="1.6" ry="1"/><ellipse cx="342.2" cy="1268.0" rx="1.6" ry="1"/><ellipse cx="109.7" cy="1278.0" rx="1.6" ry="1"/><ellipse cx="124.7" cy="1278.0" rx="1.6" ry="1"/><ellipse cx="139.7" cy="1278.0" rx="1.6" ry="1"/><ellipse cx="154.7" cy="1278.0" rx="1.6" ry="1"/><ellipse cx="169.7" cy="1278.0" rx="1.6" ry="1"/><ellipse cx="184.7" cy="1278.0" rx="1.6" ry="1"/><ellipse cx="199.7" cy="1278.0" rx="1.6" ry="1"/><ellipse cx="214.7" cy="1278.0" rx="1.6" ry="1"/><ellipse cx="229.7" cy="1278.0" rx="1.6" ry="1"/><ellipse cx="244.7" cy="1278.0" rx="1.6" ry="1"/><ellipse cx="259.7" cy="1278.0" rx="1.6" ry="1"/><ellipse cx="274.7" cy="1278.0" rx="1.6" ry="1"/><ellipse cx="289.7" cy="1278.0" rx="1.6" ry="1"/><ellipse cx="304.7" cy="1278.0" rx="1.6" ry="1"/><ellipse cx="319.7" cy="1278.0" rx="1.6" ry="1"/><ellipse cx="334.7" cy="1278.0" rx="1.6" ry="1"/><ellipse cx="349.7" cy="1278.0" rx="1.6" ry="1"/><ellipse cx="102.2" cy="1288.0" rx="1.6" ry="1"/><ellipse cx="117.2" cy="1288.0" rx="1.6" ry="1"/><ellipse cx="132.2" cy="1288.0" rx="1.6" ry="1"/><ellipse cx="147.2" cy="1288.0" rx="1.6" ry="1"/><ellipse cx="162.2" cy="1288.0" rx="1.6" ry="1"/><ellipse cx="177.2" cy="1288.0" rx="1.6" ry="1"/><ellipse cx="192.2" cy="1288.0" rx="1.6" ry="1"/><ellipse cx="207.2" cy="1288.0" rx="1.6" ry="1"/><ellipse cx="222.2" cy="1288.0" rx="1.6" ry="1"/><ellipse cx="237.2" cy="1288.0" rx="1.6" ry="1"/><ellipse cx="252.2" cy="1288.0" rx="1.6" ry="1"/><ellipse cx="267.2" cy="1288.0" rx="1.6" ry="1"/><ellipse cx="282.2" cy="1288.0" rx="1.6" ry="1"/><ellipse cx="297.2" cy="1288.0" rx="1.6" ry="1"/><ellipse cx="312.2" cy="1288.0" rx="1.6" ry="1"/><ellipse cx="327.2" cy="1288.0" rx="1.6" ry="1"/><ellipse cx="342.2" cy="1288.0" rx="1.6" ry="1"/><ellipse cx="109.7" cy="1298.0" rx="1.6" ry="1"/><ellipse cx="124.7" cy="1298.0" rx="1.6" ry="1"/><ellipse cx="139.7" cy="1298.0" rx="1.6" ry="1"/><ellipse cx="154.7" cy="1298.0" rx="1.6" ry="1"/><ellipse cx="169.7" cy="1298.0" rx="1.6" ry="1"/><ellipse cx="184.7" cy="1298.0" rx="1.6" ry="1"/><ellipse cx="199.7" cy="1298.0" rx="1.6" ry="1"/><ellipse cx="214.7" cy="1298.0" rx="1.6" ry="1"/><ellipse cx="229.7" cy="1298.0" rx="1.6" ry="1"/><ellipse cx="244.7" cy="1298.0" rx="1.6" ry="1"/><ellipse cx="259.7" cy="1298.0" rx="1.6" ry="1"/><ellipse cx="274.7" cy="1298.0" rx="1.6" ry="1"/><ellipse cx="289.7" cy="1298.0" rx="1.6" ry="1"/><ellipse cx="304.7" cy="1298.0" rx="1.6" ry="1"/><ellipse cx="319.7" cy="1298.0" rx="1.6" ry="1"/><ellipse cx="334.7" cy="1298.0" rx="1.6" ry="1"/><ellipse cx="349.7" cy="1298.0" rx="1.6" ry="1"/><ellipse cx="102.2" cy="1308.0" rx="1.6" ry="1"/><ellipse cx="117.2" cy="1308.0" rx="1.6" ry="1"/><ellipse cx="132.2" cy="1308.0" rx="1.6" ry="1"/><ellipse cx="147.2" cy="1308.0" rx="1.6" ry="1"/><ellipse cx="162.2" cy="1308.0" rx="1.6" ry="1"/><ellipse cx="177.2" cy="1308.0" rx="1.6" ry="1"/><ellipse cx="192.2" cy="1308.0" rx="1.6" ry="1"/><ellipse cx="207.2" cy="1308.0" rx="1.6" ry="1"/><ellipse cx="222.2" cy="1308.0" rx="1.6" ry="1"/><ellipse cx="237.2" cy="1308.0" rx="1.6" ry="1"/><ellipse cx="252.2" cy="1308.0" rx="1.6" ry="1"/><ellipse cx="267.2" cy="1308.0" rx="1.6" ry="1"/><ellipse cx="282.2" cy="1308.0" rx="1.6" ry="1"/><ellipse cx="297.2" cy="1308.0" rx="1.6" ry="1"/><ellipse cx="312.2" cy="1308.0" rx="1.6" ry="1"/><ellipse cx="327.2" cy="1308.0" rx="1.6" ry="1"/><ellipse cx="342.2" cy="1308.0" rx="1.6" ry="1"/></g><rect x="99.2" y="1312.0" width="252.8" height="7.5" fill="#454547" /><rect x="99.2" y="1323.0" width="538.4" height="19.0" fill="#141416" /><rect x="526.0" y="1322.5" width="111.6" height="19.5" fill="#2f5f9e" /><rect x="182.0" y="1169.5" width="40.0" height="95.5" fill="#9d9d9b" /><rect x="196.0" y="1169.5" width="10.0" height="95.5" fill="#b9b9b7" /><path d="M219.0 1192.0L236.0 1196.0L246.0 1218.0L228.0 1216.0Z" fill="#c9a83a" /><rect x="190.0" y="1240.0" width="72.0" height="40.0" fill="#a7a7a5" /><rect x="262.0" y="1255.0" width="68.0" height="15.0" fill="#bdbdbb" /><rect x="312.0" y="1253.0" width="18.0" height="19.0" fill="#cfcfcd" /><ellipse cx="206" cy="1271" rx="12" ry="9" fill="#cbcbcb"/><path d="M340 1240C345 1215 360 1210 372 1230" fill="none" stroke="#111" stroke-width="2"/><path d="M320 1248L328 1230" stroke="#2aa34a" stroke-width="6"/><path d="M352 1285L363 1240" stroke="#e03030" stroke-width="5"/><path d="M362 1260C380 1235 420 1230 430 1262M380 1270C400 1245 430 1240 440 1265M300 1300C340 1320 380 1310 420 1290" fill="none" stroke="#d0d0d0" stroke-width="1.6"/><path d="M250 1290C300 1320 350 1330 390 1322" fill="none" stroke="#2aa34a" stroke-width="1"/><path d="M455 1250C462 1225 470 1222 476 1222" fill="none" stroke="#d0602a" stroke-width="1.6"/><path d="M406.0 1280.0L455.0 1275.0L461.5 1298.0L410.0 1303.0Z" fill="#e6e2da" /><rect x="472.3" y="1188.0" width="49.1" height="95.0" fill="#a2a6aa" /><rect x="482.0" y="1195.0" width="32.0" height="47.0" fill="#555a4e" /><circle cx="483.4" cy="1254.0" r="1.8" fill="#c8cbd0"/><circle cx="490.2" cy="1254.0" r="1.8" fill="#c8cbd0"/><circle cx="497.0" cy="1254.0" r="1.8" fill="#c8cbd0"/><circle cx="503.8" cy="1254.0" r="1.8" fill="#c8cbd0"/><circle cx="510.6" cy="1254.0" r="1.8" fill="#c8cbd0"/><rect x="470.0" y="1281.0" width="54.0" height="6.0" fill="#4a4d52" /><rect x="513.7" y="1152.6" width="123.9" height="64.4" fill="#d9d2c4" /><rect x="513.7" y="1152.6" width="123.9" height="26.1" fill="#1d1e21" /><rect x="515.7" y="1153.6" width="12.0" height="3.0" fill="#b02020" /><text x="552.0" y="1168.7" style="font-family:'Liberation Mono',monospace;font-size:9px" fill="#39c7a5">031217 V</text><circle cx="537.8" cy="1185.2" r="2.6" fill="#3c4a66"/><circle cx="550.1" cy="1185.2" r="2.6" fill="#3c4a66"/><circle cx="562.3" cy="1185.2" r="2.6" fill="#3c4a66"/><circle cx="574.5" cy="1185.2" r="2.6" fill="#3c4a66"/><circle cx="586.8" cy="1185.2" r="2.6" fill="#3c4a66"/><circle cx="599.0" cy="1185.2" r="2.6" fill="#3c4a66"/><circle cx="611.2" cy="1185.2" r="2.6" fill="#3c4a66"/><circle cx="623.5" cy="1185.2" r="2.6" fill="#3c4a66"/><rect x="527.7" y="1190.7" width="103.9" height="2.0" fill="#b9b2a4" /><rect x="527.7" y="1197.7" width="103.9" height="2.0" fill="#b9b2a4" /><rect x="526.0" y="1255.5" width="111.6" height="33.5" fill="#c9c6c0" /></g><rect x="99.2" y="937.7" width="128.8" height="229.8" fill="#ffffff" /><clipPath id="cgi"><rect x="99.2" y="939.2" width="122.10000000000001" height="219.79999999999995"/></clipPath><g clip-path="url(#cgi)"><rect x="99.2" y="939.2" width="122.1" height="219.8" fill="#18181a" /><rect x="99.2" y="939.2" width="4.8" height="60.8" fill="#8a8f8c" /><rect x="99.2" y="1000.0" width="4.8" height="159.0" fill="#2a2a2c" /><rect x="212.8" y="939.2" width="8.5" height="219.8" fill="#98938c" /><rect x="212.8" y="1140.0" width="8.5" height="19.0" fill="#3a3a3a" /><rect x="99.2" y="1148.0" width="122.1" height="11.0" fill="#2c2c2e" /><path d="M110.0 951.0L212.0 949.0L212.8 1148.0L111.0 1148.0Z" fill="#abb0b6" /><rect x="110.0" y="949.0" width="102.0" height="5.0" fill="#c6c9cd" /><rect x="130.0" y="963.8" width="67.5" height="98.2" fill="#54594c" /><rect x="131.5" y="965.5" width="64.5" height="95.0" fill="#666b5c" /><text x="164" y="995" text-anchor="middle" style="font-family:'Liberation Sans',sans-serif;font-size:24px" fill="#3e4338">12:00</text><text x="164" y="1019" text-anchor="middle" style="font-family:'Liberation Sans',sans-serif;font-size:14px" fill="#4a4f43">1/ 1</text><text x="164" y="1040" text-anchor="middle" style="font-family:'Liberation Sans',sans-serif;font-size:15px" fill="#585d50">TUE</text><text x="170" y="1059" text-anchor="middle" style="font-family:'Liberation Sans',sans-serif;font-size:17px" fill="#3e4338">25.8</text><circle cx="135.4" cy="1088.0" r="4.2" fill="#c9ccd0"/><circle cx="150.2" cy="1088.0" r="4.2" fill="#c9ccd0"/><circle cx="165.0" cy="1088.0" r="4.2" fill="#c9ccd0"/><circle cx="179.8" cy="1088.0" r="4.2" fill="#c9ccd0"/><circle cx="194.6" cy="1088.0" r="4.2" fill="#c9ccd0"/><rect x="120.0" y="1147.0" width="90.0" height="9.0" fill="#3a3a3c" /></g><rect x="117.5" y="1169.5" width="114.0" height="90.0" fill="none" stroke="#fff" stroke-width="4.4" stroke-dasharray="4.4 4.4"/><rect x="464.5" y="1177.5" width="63.5" height="118.0" fill="none" stroke="#fff" stroke-width="4.4" stroke-dasharray="4.4 4.4"/><rect x="514.5" y="1145.0" width="120.0" height="87.0" fill="none" stroke="#fff" stroke-width="4.4" stroke-dasharray="4.4 4.4"/><line x1="443.0" y1="1181.8" x2="245.2" y2="1143.8" stroke="#fff" stroke-width="4.2"/><path d="M231.5 1141.2L246.7 1136.5L243.8 1151.2Z" fill="#fff"/><text x="109.5" y="976.0" text-anchor="start" style="font-family:'Liberation Sans',Arial,sans-serif;font-weight:bold;font-size:34px" fill="#fff">(g)</text><text x="358.2" y="991.4" text-anchor="middle" style="font-family:'Liberation Sans',Arial,sans-serif;font-weight:bold;font-size:26px" fill="#fff">Multi-function</text><text x="358.2" y="1022.5" text-anchor="middle" style="font-family:'Liberation Sans',Arial,sans-serif;font-weight:bold;font-size:26px" fill="#fff">display</text><text x="571.0" y="1101.8" text-anchor="middle" style="font-family:'Liberation Sans',Arial,sans-serif;font-weight:bold;font-size:26px" fill="#fff">Keithley</text><text x="570.7" y="1134.0" text-anchor="middle" style="font-family:'Liberation Sans',Arial,sans-serif;font-weight:bold;font-size:26px" fill="#fff">6514</text><clipPath id="ch"><rect x="727.3" y="943.8" width="529.9000000000001" height="398.20000000000005"/></clipPath><g clip-path="url(#ch)"><rect x="727.3" y="943.8" width="529.9" height="398.2" fill="#0b0b0c" /><path d="M1180 943.8H1257.2V1105H1183Q1178 1030 1180 943.8Z" fill="#c9c9c7"/><rect x="1182.0" y="943.8" width="75.2" height="16.2" fill="#dcdcda" /><rect x="1184.7" y="991.0" width="21.3" height="25.0" fill="#9a7858" /><rect x="1185.0" y="1016.0" width="43.0" height="15.0" fill="#e8e8e6" /><rect x="1184.0" y="1031.0" width="73.2" height="69.0" fill="#d2d2d0" /><line x1="1215" y1="1035" x2="1215" y2="1098" stroke="#a8a8a6" stroke-width="1"/><line x1="1232" y1="1035" x2="1232" y2="1098" stroke="#a8a8a6" stroke-width="1"/><line x1="1248" y1="1035" x2="1248" y2="1098" stroke="#a8a8a6" stroke-width="1"/><path d="M1257 1080C1240 1085 1232 1100 1230 1115" fill="none" stroke="#111" stroke-width="2"/><rect x="840.0" y="1014.4" width="242.0" height="158.2" fill="#333438" /><rect x="850" y="1022" width="223" height="135" fill="url(#scr)"/><rect x="920.7" y="1057.4" width="109.0" height="35.3" fill="#1d1b22" /><polyline points="923.0,1077.5 924.5,1079.8 926.0,1080.9 927.5,1083.8 928.9,1079.8 930.4,1083.4 931.9,1065.6 933.4,1074.3 934.9,1083.9 936.4,1078.0 937.9,1083.0 939.3,1067.3 940.8,1074.4 942.3,1069.9 943.8,1075.9 945.3,1076.5 946.8,1065.3 948.3,1069.3 949.7,1070.6 951.2,1083.3 952.7,1080.3 954.2,1068.2 955.7,1080.9 957.2,1067.8 958.7,1077.3 960.1,1067.5 961.6,1065.0 963.1,1082.4 964.6,1069.2 966.1,1069.3 967.6,1084.6 969.1,1082.4 970.5,1070.8 972.0,1084.2 973.5,1075.8 975.0,1078.6 976.5,1069.1 978.0,1083.8 979.5,1078.8 980.9,1084.3 982.4,1082.9 983.9,1071.0 985.4,1072.2 986.9,1068.3 988.4,1067.9 989.9,1066.3 991.3,1071.0 992.8,1077.1 994.3,1065.1 995.8,1078.6 997.3,1071.8 998.8,1071.2 1000.3,1081.4 1001.7,1074.6 1003.2,1071.3 1004.7,1074.6 1006.2,1079.1 1007.7,1066.1 1009.2,1084.5 1010.7,1065.5 1012.1,1080.0 1013.6,1081.9 1015.1,1065.4 1016.6,1080.8 1018.1,1072.3 1019.6,1076.6 1021.1,1065.2 1022.5,1065.9 1024.0,1068.6 1025.5,1084.1 1027.0,1068.9" fill="none" stroke="#a9a7b8" stroke-width="0.9"/><rect x="862.0" y="1100.4" width="170.8" height="46.1" fill="#1d1b22" /><path d="M868 1145C900 1125 960 1108 990 1102L1030 1111" fill="none" stroke="#9a98aa" stroke-width="1"/><text x="905" y="1052" style="font-family:'Liberation Sans',Arial,sans-serif;font-weight:bold;font-size:5.9px" fill="#3232c8">TENG Performance Testing Program</text><rect x="850.0" y="1157.0" width="223.0" height="5.0" fill="#3a5ba8" /><rect x="868.5" y="1191.0" width="208.5" height="24.5" fill="#272a33" /><rect x="727.3" y="1123.0" width="62.7" height="97.0" fill="#120e0e" /><rect x="751.0" y="1133.0" width="26.0" height="43.0" fill="#8a8a8c" /><rect x="777.0" y="1133.0" width="13.0" height="43.0" fill="#4a2e2a" /><rect x="727.3" y="1152.0" width="24.7" height="8.0" fill="#9a9a9a" /><rect x="979.0" y="1215.0" width="278.2" height="127.0" fill="#202022" /><path d="M727.3 1221.7L960.0 1224.0L979.0 1317.0L727.3 1317.0Z" fill="#38383a" /><g fill="#575759"><ellipse cx="730.3" cy="1230.0" rx="1.6" ry="1"/><ellipse cx="745.3" cy="1230.0" rx="1.6" ry="1"/><ellipse cx="760.3" cy="1230.0" rx="1.6" ry="1"/><ellipse cx="775.3" cy="1230.0" rx="1.6" ry="1"/><ellipse cx="790.3" cy="1230.0" rx="1.6" ry="1"/><ellipse cx="805.3" cy="1230.0" rx="1.6" ry="1"/><ellipse cx="820.3" cy="1230.0" rx="1.6" ry="1"/><ellipse cx="835.3" cy="1230.0" rx="1.6" ry="1"/><ellipse cx="850.3" cy="1230.0" rx="1.6" ry="1"/><ellipse cx="865.3" cy="1230.0" rx="1.6" ry="1"/><ellipse cx="880.3" cy="1230.0" rx="1.6" ry="1"/><ellipse cx="895.3" cy="1230.0" rx="1.6" ry="1"/><ellipse cx="910.3" cy="1230.0" rx="1.6" ry="1"/><ellipse cx="925.3" cy="1230.0" rx="1.6" ry="1"/><ellipse cx="940.3" cy="1230.0" rx="1.6" ry="1"/><ellipse cx="955.3" cy="1230.0" rx="1.6" ry="1"/><ellipse cx="970.3" cy="1230.0" rx="1.6" ry="1"/><ellipse cx="737.8" cy="1240.0" rx="1.6" ry="1"/><ellipse cx="752.8" cy="1240.0" rx="1.6" ry="1"/><ellipse cx="767.8" cy="1240.0" rx="1.6" ry="1"/><ellipse cx="782.8" cy="1240.0" rx="1.6" ry="1"/><ellipse cx="797.8" cy="1240.0" rx="1.6" ry="1"/><ellipse cx="812.8" cy="1240.0" rx="1.6" ry="1"/><ellipse cx="827.8" cy="1240.0" rx="1.6" ry="1"/><ellipse cx="842.8" cy="1240.0" rx="1.6" ry="1"/><ellipse cx="857.8" cy="1240.0" rx="1.6" ry="1"/><ellipse cx="872.8" cy="1240.0" rx="1.6" ry="1"/><ellipse cx="887.8" cy="1240.0" rx="1.6" ry="1"/><ellipse cx="902.8" cy="1240.0" rx="1.6" ry="1"/><ellipse cx="917.8" cy="1240.0" rx="1.6" ry="1"/><ellipse cx="932.8" cy="1240.0" rx="1.6" ry="1"/><ellipse cx="947.8" cy="1240.0" rx="1.6" ry="1"/><ellipse cx="962.8" cy="1240.0" rx="1.6" ry="1"/><ellipse cx="730.3" cy="1250.0" rx="1.6" ry="1"/><ellipse cx="745.3" cy="1250.0" rx="1.6" ry="1"/><ellipse cx="760.3" cy="1250.0" rx="1.6" ry="1"/><ellipse cx="775.3" cy="1250.0" rx="1.6" ry="1"/><ellipse cx="790.3" cy="1250.0" rx="1.6" ry="1"/><ellipse cx="805.3" cy="1250.0" rx="1.6" ry="1"/><ellipse cx="820.3" cy="1250.0" rx="1.6" ry="1"/><ellipse cx="835.3" cy="1250.0" rx="1.6" ry="1"/><ellipse cx="850.3" cy="1250.0" rx="1.6" ry="1"/><ellipse cx="865.3" cy="1250.0" rx="1.6" ry="1"/><ellipse cx="880.3" cy="1250.0" rx="1.6" ry="1"/><ellipse cx="895.3" cy="1250.0" rx="1.6" ry="1"/><ellipse cx="910.3" cy="1250.0" rx="1.6" ry="1"/><ellipse cx="925.3" cy="1250.0" rx="1.6" ry="1"/><ellipse cx="940.3" cy="1250.0" rx="1.6" ry="1"/><ellipse cx="955.3" cy="1250.0" rx="1.6" ry="1"/><ellipse cx="970.3" cy="1250.0" rx="1.6" ry="1"/><ellipse cx="737.8" cy="1260.0" rx="1.6" ry="1"/><ellipse cx="752.8" cy="1260.0" rx="1.6" ry="1"/><ellipse cx="767.8" cy="1260.0" rx="1.6" ry="1"/><ellipse cx="782.8" cy="1260.0" rx="1.6" ry="1"/><ellipse cx="797.8" cy="1260.0" rx="1.6" ry="1"/><ellipse cx="812.8" cy="1260.0" rx="1.6" ry="1"/><ellipse cx="827.8" cy="1260.0" rx="1.6" ry="1"/><ellipse cx="842.8" cy="1260.0" rx="1.6" ry="1"/><ellipse cx="857.8" cy="1260.0" rx="1.6" ry="1"/><ellipse cx="872.8" cy="1260.0" rx="1.6" ry="1"/><ellipse cx="887.8" cy="1260.0" rx="1.6" ry="1"/><ellipse cx="902.8" cy="1260.0" rx="1.6" ry="1"/><ellipse cx="917.8" cy="1260.0" rx="1.6" ry="1"/><ellipse cx="932.8" cy="1260.0" rx="1.6" ry="1"/><ellipse cx="947.8" cy="1260.0" rx="1.6" ry="1"/><ellipse cx="962.8" cy="1260.0" rx="1.6" ry="1"/><ellipse cx="730.3" cy="1270.0" rx="1.6" ry="1"/><ellipse cx="745.3" cy="1270.0" rx="1.6" ry="1"/><ellipse cx="760.3" cy="1270.0" rx="1.6" ry="1"/><ellipse cx="775.3" cy="1270.0" rx="1.6" ry="1"/><ellipse cx="790.3" cy="1270.0" rx="1.6" ry="1"/><ellipse cx="805.3" cy="1270.0" rx="1.6" ry="1"/><ellipse cx="820.3" cy="1270.0" rx="1.6" ry="1"/><ellipse cx="835.3" cy="1270.0" rx="1.6" ry="1"/><ellipse cx="850.3" cy="1270.0" rx="1.6" ry="1"/><ellipse cx="865.3" cy="1270.0" rx="1.6" ry="1"/><ellipse cx="880.3" cy="1270.0" rx="1.6" ry="1"/><ellipse cx="895.3" cy="1270.0" rx="1.6" ry="1"/><ellipse cx="910.3" cy="1270.0" rx="1.6" ry="1"/><ellipse cx="925.3" cy="1270.0" rx="1.6" ry="1"/><ellipse cx="940.3" cy="1270.0" rx="1.6" ry="1"/><ellipse cx="955.3" cy="1270.0" rx="1.6" ry="1"/><ellipse cx="970.3" cy="1270.0" rx="1.6" ry="1"/><ellipse cx="737.8" cy="1280.0" rx="1.6" ry="1"/><ellipse cx="752.8" cy="1280.0" rx="1.6" ry="1"/><ellipse cx="767.8" cy="1280.0" rx="1.6" ry="1"/><ellipse cx="782.8" cy="1280.0" rx="1.6" ry="1"/><ellipse cx="797.8" cy="1280.0" rx="1.6" ry="1"/><ellipse cx="812.8" cy="1280.0" rx="1.6" ry="1"/><ellipse cx="827.8" cy="1280.0" rx="1.6" ry="1"/><ellipse cx="842.8" cy="1280.0" rx="1.6" ry="1"/><ellipse cx="857.8" cy="1280.0" rx="1.6" ry="1"/><ellipse cx="872.8" cy="1280.0" rx="1.6" ry="1"/><ellipse cx="887.8" cy="1280.0" rx="1.6" ry="1"/><ellipse cx="902.8" cy="1280.0" rx="1.6" ry="1"/><ellipse cx="917.8" cy="1280.0" rx="1.6" ry="1"/><ellipse cx="932.8" cy="1280.0" rx="1.6" ry="1"/><ellipse cx="947.8" cy="1280.0" rx="1.6" ry="1"/><ellipse cx="962.8" cy="1280.0" rx="1.6" ry="1"/><ellipse cx="730.3" cy="1290.0" rx="1.6" ry="1"/><ellipse cx="745.3" cy="1290.0" rx="1.6" ry="1"/><ellipse cx="760.3" cy="1290.0" rx="1.6" ry="1"/><ellipse cx="775.3" cy="1290.0" rx="1.6" ry="1"/><ellipse cx="790.3" cy="1290.0" rx="1.6" ry="1"/><ellipse cx="805.3" cy="1290.0" rx="1.6" ry="1"/><ellipse cx="820.3" cy="1290.0" rx="1.6" ry="1"/><ellipse cx="835.3" cy="1290.0" rx="1.6" ry="1"/><ellipse cx="850.3" cy="1290.0" rx="1.6" ry="1"/><ellipse cx="865.3" cy="1290.0" rx="1.6" ry="1"/><ellipse cx="880.3" cy="1290.0" rx="1.6" ry="1"/><ellipse cx="895.3" cy="1290.0" rx="1.6" ry="1"/><ellipse cx="910.3" cy="1290.0" rx="1.6" ry="1"/><ellipse cx="925.3" cy="1290.0" rx="1.6" ry="1"/><ellipse cx="940.3" cy="1290.0" rx="1.6" ry="1"/><ellipse cx="955.3" cy="1290.0" rx="1.6" ry="1"/><ellipse cx="970.3" cy="1290.0" rx="1.6" ry="1"/><ellipse cx="737.8" cy="1300.0" rx="1.6" ry="1"/><ellipse cx="752.8" cy="1300.0" rx="1.6" ry="1"/><ellipse cx="767.8" cy="1300.0" rx="1.6" ry="1"/><ellipse cx="782.8" cy="1300.0" rx="1.6" ry="1"/><ellipse cx="797.8" cy="1300.0" rx="1.6" ry="1"/><ellipse cx="812.8" cy="1300.0" rx="1.6" ry="1"/><ellipse cx="827.8" cy="1300.0" rx="1.6" ry="1"/><ellipse cx="842.8" cy="1300.0" rx="1.6" ry="1"/><ellipse cx="857.8" cy="1300.0" rx="1.6" ry="1"/><ellipse cx="872.8" cy="1300.0" rx="1.6" ry="1"/><ellipse cx="887.8" cy="1300.0" rx="1.6" ry="1"/><ellipse cx="902.8" cy="1300.0" rx="1.6" ry="1"/><ellipse cx="917.8" cy="1300.0" rx="1.6" ry="1"/><ellipse cx="932.8" cy="1300.0" rx="1.6" ry="1"/><ellipse cx="947.8" cy="1300.0" rx="1.6" ry="1"/><ellipse cx="962.8" cy="1300.0" rx="1.6" ry="1"/><ellipse cx="730.3" cy="1310.0" rx="1.6" ry="1"/><ellipse cx="745.3" cy="1310.0" rx="1.6" ry="1"/><ellipse cx="760.3" cy="1310.0" rx="1.6" ry="1"/><ellipse cx="775.3" cy="1310.0" rx="1.6" ry="1"/><ellipse cx="790.3" cy="1310.0" rx="1.6" ry="1"/><ellipse cx="805.3" cy="1310.0" rx="1.6" ry="1"/><ellipse cx="820.3" cy="1310.0" rx="1.6" ry="1"/><ellipse cx="835.3" cy="1310.0" rx="1.6" ry="1"/><ellipse cx="850.3" cy="1310.0" rx="1.6" ry="1"/><ellipse cx="865.3" cy="1310.0" rx="1.6" ry="1"/><ellipse cx="880.3" cy="1310.0" rx="1.6" ry="1"/><ellipse cx="895.3" cy="1310.0" rx="1.6" ry="1"/><ellipse cx="910.3" cy="1310.0" rx="1.6" ry="1"/><ellipse cx="925.3" cy="1310.0" rx="1.6" ry="1"/><ellipse cx="940.3" cy="1310.0" rx="1.6" ry="1"/><ellipse cx="955.3" cy="1310.0" rx="1.6" ry="1"/><ellipse cx="970.3" cy="1310.0" rx="1.6" ry="1"/></g><rect x="727.3" y="1300.0" width="257.7" height="17.0" fill="#444446" /><rect x="727.3" y="1317.0" width="529.9" height="25.0" fill="#151517" /><path d="M1154.0 1314.0L1257.2 1296.0L1257.2 1342.0L1154.0 1342.0Z" fill="#2f5f9e" /><rect x="789.0" y="1126.5" width="36.5" height="88.5" fill="#a4a4a2" /><rect x="800.0" y="1126.5" width="8.0" height="88.5" fill="#bdbdbb" /><path d="M825.5 1160.0L855.0 1170.0L855.0 1205.0L825.5 1195.0Z" fill="#c9a83a" /><rect x="822.0" y="1170.0" width="46.0" height="50.0" fill="#8e8e8c" /><rect x="798.0" y="1215.0" width="92.0" height="48.0" fill="#a9a9a7" /><rect x="890.0" y="1228.0" width="65.0" height="22.0" fill="#c2c2c0" /><rect x="935.0" y="1226.0" width="20.0" height="26.0" fill="#d4d4d2" /><ellipse cx="800" cy="1250" rx="16" ry="11" fill="#c9c9c9"/><path d="M950 1210C955 1180 975 1180 985 1205" fill="none" stroke="#111" stroke-width="2"/><path d="M942 1222L948 1208" stroke="#2aa34a" stroke-width="5"/><path d="M972 1268L990 1212" stroke="#e03030" stroke-width="5"/><path d="M985 1260C1010 1230 1050 1225 1060 1255M1000 1270C1030 1240 1070 1240 1080 1262M1000 1310C1040 1290 1060 1270 1070 1250" fill="none" stroke="#d0d0d0" stroke-width="1.6"/><path d="M850 1230C900 1270 950 1310 1010 1315" fill="none" stroke="#2aa34a" stroke-width="1"/><path d="M1110 1230C1140 1270 1160 1300 1165 1342" fill="none" stroke="#d83030" stroke-width="1.6"/><path d="M1048.0 1262.0L1095.0 1246.0L1120.0 1275.0L1070.0 1290.0Z" fill="#e6e2da" /><path d="M1091 1142L1100 1140L1108 1185L1142 1262L1134 1268L1098 1195Z" fill="#2b4fc0"/><ellipse cx="1104" cy="1200" rx="11" ry="13" fill="#3a5cc8"/><ellipse cx="1104" cy="1200" rx="7" ry="8" fill="#cfd6e4"/><rect x="1142.0" y="1114.0" width="115.2" height="63.0" fill="#d9d2c4" /><rect x="1142.0" y="1114.0" width="115.2" height="31.0" fill="#1d1e21" /><rect x="1144.0" y="1115.0" width="12.0" height="3.0" fill="#b02020" /><text x="1180.0" y="1132.5" style="font-family:'Liberation Mono',monospace;font-size:9px" fill="#39c7a5">025199 V</text><circle cx="1165.6" cy="1151.5" r="2.6" fill="#3c4a66"/><circle cx="1176.7" cy="1151.5" r="2.6" fill="#3c4a66"/><circle cx="1187.9" cy="1151.5" r="2.6" fill="#3c4a66"/><circle cx="1199.0" cy="1151.5" r="2.6" fill="#3c4a66"/><circle cx="1210.2" cy="1151.5" r="2.6" fill="#3c4a66"/><circle cx="1221.3" cy="1151.5" r="2.6" fill="#3c4a66"/><circle cx="1232.5" cy="1151.5" r="2.6" fill="#3c4a66"/><circle cx="1243.6" cy="1151.5" r="2.6" fill="#3c4a66"/><rect x="1156.0" y="1157.0" width="95.2" height="2.0" fill="#b9b2a4" /><rect x="1156.0" y="1164.0" width="95.2" height="2.0" fill="#b9b2a4" /><rect x="1150.0" y="1222.0" width="107.2" height="30.0" fill="#c9c6c0" /></g><rect x="727.3" y="938.6" width="188.9" height="184.9" fill="#ffffff" /><clipPath id="chi"><rect x="732.7" y="940.2" width="176.89999999999998" height="177.0"/></clipPath><g clip-path="url(#chi)"><rect x="732.7" y="940.2" width="176.9" height="177.0" fill="#1a1a1c" /><rect x="732.7" y="940.2" width="60.3" height="12" fill="url(#hfade)"/><rect x="850.0" y="940.2" width="59.6" height="9.8" fill="#2a2a2c" /><rect x="860.0" y="950.0" width="49.6" height="105.0" fill="#2c2d30" /><path d="M732.7 1046.0L790.0 1046.0L790.0 1117.2L732.7 1117.2Z" fill="#7d7f80" /><rect x="732.7" y="1080.0" width="57.3" height="10.0" fill="#9a9c9d" /><path d="M866.0 1056.0L909.6 1056.0L909.6 1117.2L866.0 1117.2Z" fill="#747678" /><rect x="866.0" y="1075.0" width="43.6" height="7.0" fill="#949698" /><path d="M733 1038C750 1060 757 1090 760 1117" fill="none" stroke="#5a3a30" stroke-width="2.5"/><path d="M870 1080L888 1117M880 1090L905 1060" fill="none" stroke="#3050b0" stroke-width="1.5"/><path d="M869 1090L882 1117" fill="none" stroke="#c03030" stroke-width="1.5"/><path d="M793.5 940.2L850.0 940.2L855.0 965.0L790.0 965.0Z" fill="#2b52c2" /><path d="M806.0 940.2L846.0 940.2L846.0 946.0L806.0 946.0Z" fill="#eef0f4" /><path d="M790.0 962.0L856.0 962.0L866.0 992.0L780.0 992.0Z" fill="#eef0f4" /><path d="M800.0 962.0L845.0 962.0L850.0 972.0L795.0 972.0Z" fill="#2b52c2" /><rect x="758.0" y="1012.0" width="20.0" height="32.0" fill="#2c50c0" rx="5"/><rect x="868.0" y="1012.0" width="20.0" height="32.0" fill="#2c50c0" rx="5"/><ellipse cx="763" cy="1007" rx="7" ry="8" fill="#eceef2"/><ellipse cx="882" cy="1007" rx="7" ry="8" fill="#eceef2"/><ellipse cx="765" cy="1053" rx="7" ry="8" fill="#e0e2e6"/><ellipse cx="882" cy="1052" rx="7" ry="8" fill="#e0e2e6"/><ellipse cx="823.3" cy="1025.5" rx="49" ry="47" fill="#2c50c0"/><ellipse cx="823.3" cy="1026.6" rx="39.6" ry="36.8" fill="#dedfd2"/><ellipse cx="823.3" cy="1027" rx="35" ry="29" fill="#d2d3c5"/><line x1="791" y1="1022" x2="856" y2="1022" stroke="#9a9c90" stroke-width="0.8"/><text x="816" y="1048" textLength="31" lengthAdjust="spacingAndGlyphs" style="font-family:'Liberation Sans',sans-serif;font-size:29px" fill="#50554f">1:02</text><text x="820" y="1016" text-anchor="middle" style="font-family:'Liberation Sans',sans-serif;font-size:10px" fill="#aeb0a4">88888 37</text><path d="M779.4 1063.4L868.6 1063.4L862.0 1091.7L785.0 1091.7Z" fill="#eceef2" /><path d="M792.0 1076.0L854.4 1076.0L856.0 1117.2L792.0 1117.2Z" fill="#2b52c2" /><path d="M785.0 1063.4L800.0 1063.4L805.0 1105.0L790.0 1105.0Z" fill="#eceef2" /><path d="M845.0 1063.4L862.0 1063.4L857.0 1105.0L842.0 1105.0Z" fill="#eceef2" /></g><rect x="735.0" y="1131.5" width="116.5" height="65.5" fill="none" stroke="#fff" stroke-width="4.4" stroke-dasharray="4.4 4.4"/><rect x="1120.5" y="1097.4" width="133.5" height="86.0" fill="none" stroke="#fff" stroke-width="4.4" stroke-dasharray="4.4 4.4"/><rect x="1080.6" y="1174.2" width="53.7" height="53.7" fill="none" stroke="#fff" stroke-width="4.4" stroke-dasharray="4.4 4.4"/><line x1="1049.9" y1="1180.3" x2="942.8" y2="1133.7" stroke="#fff" stroke-width="4.2"/><path d="M930.0 1128.1L945.8 1126.8L939.8 1140.6Z" fill="#fff"/><text x="743.4" y="976.3" text-anchor="start" style="font-family:'Liberation Sans',Arial,sans-serif;font-weight:bold;font-size:34px" fill="#fff">(h)</text><text x="972.3" y="982.8" text-anchor="middle" style="font-family:'Liberation Sans',Arial,sans-serif;font-weight:bold;font-size:26px" fill="#fff">Watch</text><text x="1196.0" y="1218.7" text-anchor="middle" style="font-family:'Liberation Sans',Arial,sans-serif;font-weight:bold;font-size:26px" fill="#fff">Keithley</text><text x="1195.8" y="1252.5" text-anchor="middle" style="font-family:'Liberation Sans',Arial,sans-serif;font-weight:bold;font-size:26px" fill="#fff">6514</text><text x="782.1" y="1269.4" text-anchor="middle" style="font-family:'Liberation Sans',Arial,sans-serif;font-weight:bold;font-size:26px" fill="#fff">TENG</text><clipPath id="ci"><rect x="1343.8" y="940.7" width="500.9000000000001" height="401.29999999999995"/></clipPath><g clip-path="url(#ci)"><rect x="1343.8" y="940.7" width="500.9" height="401.3" fill="#0c0c0d" /><rect x="1534.0" y="1052.8" width="242.6" height="150.2" fill="#333438" /><rect x="1541.8" y="1062" width="225.6" height="126" fill="url(#scr)"/><rect x="1632.0" y="1089.6" width="100.0" height="33.8" fill="#1d1b22" /><polyline points="1634.0,1105.3 1635.1,1103.5 1636.1,1098.8 1637.2,1113.3 1638.3,1096.1 1639.3,1106.1 1640.4,1114.0 1641.5,1097.6 1642.5,1107.1 1643.6,1108.3 1644.7,1096.8 1645.7,1103.6 1646.8,1110.1 1647.9,1105.0 1648.9,1110.5 1650.0,1099.1 1651.1,1100.8 1652.1,1098.2 1653.2,1106.1 1654.3,1114.5 1655.3,1107.8 1656.4,1111.5 1657.5,1103.7 1658.5,1110.9 1659.6,1098.0 1660.7,1101.8 1661.7,1109.5 1662.8,1110.5 1663.9,1104.4 1664.9,1097.8 1666.0,1101.3 1667.1,1100.2 1668.1,1101.6 1669.2,1112.2 1670.3,1100.0 1671.3,1113.7 1672.4,1113.6 1673.5,1097.1 1674.5,1103.6 1675.6,1105.8 1676.7,1096.5 1677.7,1104.5 1678.8,1114.1 1679.9,1098.2 1680.9,1107.9 1682.0,1098.4 1683.1,1107.6 1684.1,1113.9 1685.2,1100.1 1686.3,1096.2 1687.3,1097.7 1688.4,1106.8 1689.5,1096.3 1690.5,1097.7 1691.6,1105.9 1692.7,1114.4 1693.7,1104.4 1694.8,1104.0 1695.9,1108.8 1696.9,1097.9 1698.0,1107.6 1699.1,1099.5 1700.1,1108.2 1701.2,1115.2 1702.3,1097.1 1703.3,1107.1 1704.4,1108.1 1705.5,1099.0 1706.5,1101.4 1707.6,1115.9 1708.7,1116.0 1709.7,1098.4 1710.8,1110.1 1711.9,1115.0 1712.9,1100.7 1714.0,1108.2 1715.1,1096.9 1716.1,1103.3 1717.2,1109.5 1718.3,1107.8 1719.3,1111.5 1720.4,1097.7 1721.5,1102.9 1722.5,1113.3 1723.6,1107.7 1724.7,1105.0 1725.7,1104.0 1726.8,1115.7 1727.9,1107.5 1728.9,1096.4 1730.0,1112.0" fill="none" stroke="#a9a7b8" stroke-width="0.9"/><rect x="1581.7" y="1129.5" width="150.3" height="43.0" fill="#1d1b22" /><path d="M1585 1162L1712 1131L1725 1170" fill="none" stroke="#9a98aa" stroke-width="1"/><rect x="1600.0" y="1093.0" width="25.0" height="4.0" fill="#eeeaf4" /><rect x="1600.0" y="1103.0" width="25.0" height="4.0" fill="#eeeaf4" /><text x="1605" y="1084" style="font-family:'Liberation Sans',Arial,sans-serif;font-weight:bold;font-size:5.9px" fill="#3232c8">TENG Performance Testing Program</text><rect x="1541.8" y="1184.8" width="225.6" height="6.2" fill="#3a5ba8" /><text x="1552" y="1200" style="font-family:'Liberation Sans',sans-serif;font-size:4px" fill="#888">Lenovo</text><rect x="1526.0" y="1215.5" width="111.0" height="24.5" fill="#272a33" /><rect x="1343.8" y="1134.0" width="69.2" height="109.0" fill="#3a3a3c" /><rect x="1343.8" y="1136.0" width="28.2" height="26.0" fill="#a6a6a4" /><rect x="1372.0" y="1136.0" width="28.0" height="14.0" fill="#6e7072" /><rect x="1356.0" y="1178.0" width="40.0" height="38.0" fill="#2a2222" /><rect x="1352.0" y="1180.0" width="6.0" height="32.0" fill="#b07050" /><rect x="1343.8" y="1190.0" width="12.2" height="10.0" fill="#9a9a9a" /><rect x="1398.0" y="1195.0" width="15.0" height="27.0" fill="#8a8a8c" /><path d="M1350 1218C1370 1222 1400 1224 1413 1220M1350 1224C1375 1229 1400 1230 1413 1226" fill="none" stroke="#c8c8c8" stroke-width="1.6"/><path d="M1350 1225C1380 1240 1420 1240 1440 1230" fill="none" stroke="#222" stroke-width="3"/><rect x="1413.0" y="1134.7" width="40.7" height="104.3" fill="#0e0e10" /><rect x="1560.0" y="1237.0" width="284.7" height="105.0" fill="#202022" /><path d="M1343.8 1243.7L1577.0 1243.7L1553.0 1304.0L1343.8 1304.0Z" fill="#39393b" /><g fill="#575759"><ellipse cx="1346.8" cy="1250.0" rx="1.6" ry="1"/><ellipse cx="1361.8" cy="1250.0" rx="1.6" ry="1"/><ellipse cx="1376.8" cy="1250.0" rx="1.6" ry="1"/><ellipse cx="1391.8" cy="1250.0" rx="1.6" ry="1"/><ellipse cx="1406.8" cy="1250.0" rx="1.6" ry="1"/><ellipse cx="1421.8" cy="1250.0" rx="1.6" ry="1"/><ellipse cx="1436.8" cy="1250.0" rx="1.6" ry="1"/><ellipse cx="1451.8" cy="1250.0" rx="1.6" ry="1"/><ellipse cx="1466.8" cy="1250.0" rx="1.6" ry="1"/><ellipse cx="1481.8" cy="1250.0" rx="1.6" ry="1"/><ellipse cx="1496.8" cy="1250.0" rx="1.6" ry="1"/><ellipse cx="1511.8" cy="1250.0" rx="1.6" ry="1"/><ellipse cx="1526.8" cy="1250.0" rx="1.6" ry="1"/><ellipse cx="1541.8" cy="1250.0" rx="1.6" ry="1"/><ellipse cx="1556.8" cy="1250.0" rx="1.6" ry="1"/><ellipse cx="1354.3" cy="1260.0" rx="1.6" ry="1"/><ellipse cx="1369.3" cy="1260.0" rx="1.6" ry="1"/><ellipse cx="1384.3" cy="1260.0" rx="1.6" ry="1"/><ellipse cx="1399.3" cy="1260.0" rx="1.6" ry="1"/><ellipse cx="1414.3" cy="1260.0" rx="1.6" ry="1"/><ellipse cx="1429.3" cy="1260.0" rx="1.6" ry="1"/><ellipse cx="1444.3" cy="1260.0" rx="1.6" ry="1"/><ellipse cx="1459.3" cy="1260.0" rx="1.6" ry="1"/><ellipse cx="1474.3" cy="1260.0" rx="1.6" ry="1"/><ellipse cx="1489.3" cy="1260.0" rx="1.6" ry="1"/><ellipse cx="1504.3" cy="1260.0" rx="1.6" ry="1"/><ellipse cx="1519.3" cy="1260.0" rx="1.6" ry="1"/><ellipse cx="1534.3" cy="1260.0" rx="1.6" ry="1"/><ellipse cx="1549.3" cy="1260.0" rx="1.6" ry="1"/><ellipse cx="1346.8" cy="1270.0" rx="1.6" ry="1"/><ellipse cx="1361.8" cy="1270.0" rx="1.6" ry="1"/><ellipse cx="1376.8" cy="1270.0" rx="1.6" ry="1"/><ellipse cx="1391.8" cy="1270.0" rx="1.6" ry="1"/><ellipse cx="1406.8" cy="1270.0" rx="1.6" ry="1"/><ellipse cx="1421.8" cy="1270.0" rx="1.6" ry="1"/><ellipse cx="1436.8" cy="1270.0" rx="1.6" ry="1"/><ellipse cx="1451.8" cy="1270.0" rx="1.6" ry="1"/><ellipse cx="1466.8" cy="1270.0" rx="1.6" ry="1"/><ellipse cx="1481.8" cy="1270.0" rx="1.6" ry="1"/><ellipse cx="1496.8" cy="1270.0" rx="1.6" ry="1"/><ellipse cx="1511.8" cy="1270.0" rx="1.6" ry="1"/><ellipse cx="1526.8" cy="1270.0" rx="1.6" ry="1"/><ellipse cx="1541.8" cy="1270.0" rx="1.6" ry="1"/><ellipse cx="1556.8" cy="1270.0" rx="1.6" ry="1"/><ellipse cx="1354.3" cy="1280.0" rx="1.6" ry="1"/><ellipse cx="1369.3" cy="1280.0" rx="1.6" ry="1"/><ellipse cx="1384.3" cy="1280.0" rx="1.6" ry="1"/><ellipse cx="1399.3" cy="1280.0" rx="1.6" ry="1"/><ellipse cx="1414.3" cy="1280.0" rx="1.6" ry="1"/><ellipse cx="1429.3" cy="1280.0" rx="1.6" ry="1"/><ellipse cx="1444.3" cy="1280.0" rx="1.6" ry="1"/><ellipse cx="1459.3" cy="1280.0" rx="1.6" ry="1"/><ellipse cx="1474.3" cy="1280.0" rx="1.6" ry="1"/><ellipse cx="1489.3" cy="1280.0" rx="1.6" ry="1"/><ellipse cx="1504.3" cy="1280.0" rx="1.6" ry="1"/><ellipse cx="1519.3" cy="1280.0" rx="1.6" ry="1"/><ellipse cx="1534.3" cy="1280.0" rx="1.6" ry="1"/><ellipse cx="1549.3" cy="1280.0" rx="1.6" ry="1"/><ellipse cx="1346.8" cy="1290.0" rx="1.6" ry="1"/><ellipse cx="1361.8" cy="1290.0" rx="1.6" ry="1"/><ellipse cx="1376.8" cy="1290.0" rx="1.6" ry="1"/><ellipse cx="1391.8" cy="1290.0" rx="1.6" ry="1"/><ellipse cx="1406.8" cy="1290.0" rx="1.6" ry="1"/><ellipse cx="1421.8" cy="1290.0" rx="1.6" ry="1"/><ellipse cx="1436.8" cy="1290.0" rx="1.6" ry="1"/><ellipse cx="1451.8" cy="1290.0" rx="1.6" ry="1"/><ellipse cx="1466.8" cy="1290.0" rx="1.6" ry="1"/><ellipse cx="1481.8" cy="1290.0" rx="1.6" ry="1"/><ellipse cx="1496.8" cy="1290.0" rx="1.6" ry="1"/><ellipse cx="1511.8" cy="1290.0" rx="1.6" ry="1"/><ellipse cx="1526.8" cy="1290.0" rx="1.6" ry="1"/><ellipse cx="1541.8" cy="1290.0" rx="1.6" ry="1"/><ellipse cx="1556.8" cy="1290.0" rx="1.6" ry="1"/><ellipse cx="1354.3" cy="1300.0" rx="1.6" ry="1"/><ellipse cx="1369.3" cy="1300.0" rx="1.6" ry="1"/><ellipse cx="1384.3" cy="1300.0" rx="1.6" ry="1"/><ellipse cx="1399.3" cy="1300.0" rx="1.6" ry="1"/><ellipse cx="1414.3" cy="1300.0" rx="1.6" ry="1"/><ellipse cx="1429.3" cy="1300.0" rx="1.6" ry="1"/><ellipse cx="1444.3" cy="1300.0" rx="1.6" ry="1"/><ellipse cx="1459.3" cy="1300.0" rx="1.6" ry="1"/><ellipse cx="1474.3" cy="1300.0" rx="1.6" ry="1"/><ellipse cx="1489.3" cy="1300.0" rx="1.6" ry="1"/><ellipse cx="1504.3" cy="1300.0" rx="1.6" ry="1"/><ellipse cx="1519.3" cy="1300.0" rx="1.6" ry="1"/><ellipse cx="1534.3" cy="1300.0" rx="1.6" ry="1"/><ellipse cx="1549.3" cy="1300.0" rx="1.6" ry="1"/></g><rect x="1343.8" y="1304.0" width="212.2" height="8.0" fill="#4a4a4c" /><rect x="1343.8" y="1312.0" width="500.9" height="21.8" fill="#252424" /><rect x="1343.8" y="1333.8" width="500.9" height="8.2" fill="#3a6cb0" /><rect x="1452.8" y="1134.0" width="12.2" height="29.0" fill="#cfcfcd" /><rect x="1438.0" y="1160.0" width="28.0" height="80.0" fill="#a9a9a7" /><rect x="1445.0" y="1160.0" width="7.0" height="80.0" fill="#c4c4c2" /><path d="M1466.0 1187.0L1478.0 1190.0L1502.0 1240.0L1466.0 1240.0Z" fill="#b9b9b7" /><path d="M1466.0 1199.5L1478.0 1203.0L1487.0 1224.8L1474.0 1222.0Z" fill="#d2aa30" /><rect x="1436.0" y="1237.0" width="78.0" height="37.0" fill="#b5b5b3" /><rect x="1505.0" y="1248.0" width="53.0" height="14.0" fill="#c7c7c5" /><ellipse cx="1445" cy="1265" rx="12" ry="9" fill="#d2d2d2"/><path d="M1560 1240C1570 1215 1590 1212 1600 1225" fill="none" stroke="#111" stroke-width="2"/><path d="M1561 1255L1566 1232" stroke="#2aa34a" stroke-width="5"/><path d="M1600 1262L1593 1235" stroke="#e03030" stroke-width="5"/><path d="M1585 1265C1600 1245 1625 1245 1640 1262M1590 1285C1610 1265 1630 1270 1640 1280" fill="none" stroke="#d8d8d8" stroke-width="1.6"/><path d="M1500 1230C1520 1250 1560 1270 1580 1290" fill="none" stroke="#203a90" stroke-width="1"/><rect x="1609.0" y="1277.0" width="43.0" height="30.5" fill="#e6e2da" /><rect x="1641.5" y="1183.2" width="55.3" height="90.6" fill="#2c5e3e" rx="4"/><rect x="1647.0" y="1195.5" width="44.0" height="13.8" fill="#9ca08e" /><rect x="1645.0" y="1213.0" width="10.0" height="4.0" fill="#e07020" rx="2"/><circle cx="1651.0" cy="1228.0" r="3.2" fill="#24503a"/><circle cx="1663.0" cy="1228.0" r="3.2" fill="#24503a"/><circle cx="1675.0" cy="1228.0" r="3.2" fill="#24503a"/><circle cx="1687.0" cy="1228.0" r="3.2" fill="#24503a"/><circle cx="1651.0" cy="1240.0" r="3.2" fill="#24503a"/><circle cx="1663.0" cy="1240.0" r="3.2" fill="#24503a"/><circle cx="1675.0" cy="1240.0" r="3.2" fill="#24503a"/><circle cx="1687.0" cy="1240.0" r="3.2" fill="#24503a"/><circle cx="1651.0" cy="1252.0" r="3.2" fill="#24503a"/><circle cx="1663.0" cy="1252.0" r="3.2" fill="#24503a"/><circle cx="1675.0" cy="1252.0" r="3.2" fill="#24503a"/><circle cx="1687.0" cy="1252.0" r="3.2" fill="#24503a"/><circle cx="1651.0" cy="1264.0" r="3.2" fill="#24503a"/><circle cx="1663.0" cy="1264.0" r="3.2" fill="#24503a"/><circle cx="1675.0" cy="1264.0" r="3.2" fill="#24503a"/><circle cx="1687.0" cy="1264.0" r="3.2" fill="#24503a"/><path d="M1620 1270C1640 1290 1680 1280 1690 1262" fill="none" stroke="#d03030" stroke-width="1.5"/><rect x="1726.0" y="1169.4" width="118.7" height="67.6" fill="#d9d2c4" /><rect x="1726.0" y="1169.4" width="118.7" height="30.6" fill="#1d1e21" /><rect x="1728.0" y="1170.4" width="12.0" height="3.0" fill="#b02020" /><text x="1760.0" y="1187.7" style="font-family:'Liberation Mono',monospace;font-size:9px" fill="#39c7a5">012848 V</text><circle cx="1749.8" cy="1206.5" r="2.6" fill="#3c4a66"/><circle cx="1761.4" cy="1206.5" r="2.6" fill="#3c4a66"/><circle cx="1773.0" cy="1206.5" r="2.6" fill="#3c4a66"/><circle cx="1784.6" cy="1206.5" r="2.6" fill="#3c4a66"/><circle cx="1796.1" cy="1206.5" r="2.6" fill="#3c4a66"/><circle cx="1807.7" cy="1206.5" r="2.6" fill="#3c4a66"/><circle cx="1819.3" cy="1206.5" r="2.6" fill="#3c4a66"/><circle cx="1830.9" cy="1206.5" r="2.6" fill="#3c4a66"/><rect x="1740.0" y="1212.0" width="98.7" height="2.0" fill="#b9b2a4" /><rect x="1740.0" y="1219.0" width="98.7" height="2.0" fill="#b9b2a4" /><path d="M1710.6 1237.0L1844.7 1237.0L1844.7 1307.5L1710.6 1290.0Z" fill="#cdc8bf" /><path d="M1720.0 1245.0L1844.7 1245.0L1844.7 1298.0L1720.0 1283.0Z" fill="#bdb8af" /></g><rect x="1343.8" y="940.7" width="257.9" height="193.5" fill="#ffffff" /><clipPath id="cii"><rect x="1343.8" y="940.7" width="250.20000000000005" height="185.79999999999995"/></clipPath><g clip-path="url(#cii)"><rect x="1343.8" y="940.7" width="250.2" height="185.8" fill="#151517" /><rect x="1343.8" y="940.7" width="250.2" height="8.3" fill="#d6d3df" /><rect x="1343.8" y="949.0" width="250.2" height="39.3" fill="#dad7e3" /><rect x="1343.8" y="988.3" width="250.2" height="16.9" fill="#3b7fd2" /><rect x="1343.8" y="1005.2" width="250.2" height="6.8" fill="#222226" /><rect x="1343.8" y="1085.0" width="20.2" height="41.5" fill="#505052" /><rect x="1575.0" y="1095.0" width="19.0" height="31.5" fill="#6e6e70" /><path d="M1364 1050C1355 1060 1350 1075 1356 1100" fill="none" stroke="#d02020" stroke-width="1.5"/><path d="M1437 940L1433 952M1452 940L1456 950" fill="none" stroke="#c02020" stroke-width="1.5"/><path d="M1363.8 1126.5V968Q1363.8 950 1381 950H1558Q1575.6 950 1575.6 968V1126.5Z" fill="url(#calc)"/><rect x="1363.8" y="1068.0" width="211.8" height="58.5" fill="#255034" /><rect x="1363.8" y="1066.0" width="211.8" height="3.0" fill="#1e4029" /><rect x="1382.2" y="1003.7" width="175.0" height="52.2" fill="#8c8c78" /><rect x="1383.5" y="1005.0" width="172.5" height="49.5" fill="#939380" /><text x="1471" y="1050" textLength="80" lengthAdjust="spacingAndGlyphs" style="font-family:'Liberation Sans',sans-serif;font-style:italic;font-size:50px" fill="#6a6a5c">789456</text><text x="1388" y="987" style="font-family:'Liberation Sans','Noto Sans CJK SC',sans-serif;font-weight:bold;font-size:13px" fill="#b8c4b8">M&amp;G 晨光</text><rect x="1373.0" y="1088.0" width="40.0" height="19.5" fill="#f06a1e" rx="9"/><text x="1393" y="1102" text-anchor="middle" style="font-family:'Liberation Sans',sans-serif;font-size:9px" fill="#3a1a0a">AC/ON</text><rect x="1425.2" y="1088.0" width="38.4" height="19.5" fill="#1d4a2b" rx="9"/><rect x="1475.8" y="1088.0" width="40.0" height="19.5" fill="#1d4a2b" rx="9"/><rect x="1526.5" y="1088.0" width="39.9" height="19.5" fill="#1d4a2b" rx="9"/><text x="1444.4" y="1102" text-anchor="middle" style="font-family:'Liberation Sans',Arial,sans-serif;font-weight:bold;font-size:10px" fill="#e8e8e8">▶</text><text x="1495.8" y="1102" text-anchor="middle" style="font-family:'Liberation Sans',Arial,sans-serif;font-weight:bold;font-size:11px" fill="#e8e8e8">√</text><text x="1546.5" y="1102" text-anchor="middle" style="font-family:'Liberation Sans',Arial,sans-serif;font-weight:bold;font-size:10px" fill="#e8e8e8">%</text><ellipse cx="1395.0" cy="1128" rx="17.0" ry="12" fill="#1d4a2b"/><ellipse cx="1445.0" cy="1128" rx="17.0" ry="12" fill="#1d4a2b"/><ellipse cx="1496.0" cy="1128" rx="18.0" ry="12" fill="#1d4a2b"/><ellipse cx="1545.0" cy="1128" rx="17.0" ry="12" fill="#1d4a2b"/></g><rect x="1346.9" y="1164.0" width="116.7" height="64.4" fill="none" stroke="#fff" stroke-width="4.4" stroke-dasharray="4.4 4.4"/><rect x="1633.7" y="1175.7" width="69.2" height="118.3" fill="none" stroke="#fff" stroke-width="4.4" stroke-dasharray="4.4 4.4"/><rect x="1715.1" y="1158.8" width="122.9" height="85.1" fill="none" stroke="#fff" stroke-width="4.4" stroke-dasharray="4.4 4.4"/><line x1="1623.0" y1="1197.2" x2="1594.9" y2="1150.8" stroke="#fff" stroke-width="4.2"/><path d="M1587.7 1138.8L1601.4 1146.9L1588.5 1154.7Z" fill="#fff"/><text x="1354.0" y="976.0" text-anchor="start" style="font-family:'Liberation Sans',Arial,sans-serif;font-weight:bold;font-size:34px" fill="#fff">(i)</text><text x="1684.0" y="982.8" text-anchor="middle" style="font-family:'Liberation Sans',Arial,sans-serif;font-weight:bold;font-size:26px" fill="#fff">Caculator</text><text x="1778.0" y="1281.7" text-anchor="middle" style="font-family:'Liberation Sans',Arial,sans-serif;font-weight:bold;font-size:26px" fill="#fff">Keithley</text><text x="1777.8" y="1310.8" text-anchor="middle" style="font-family:'Liberation Sans',Arial,sans-serif;font-weight:bold;font-size:26px" fill="#fff">6514</text><text x="1389.0" y="1267.7" text-anchor="middle" style="font-family:'Liberation Sans',Arial,sans-serif;font-weight:bold;font-size:26px" fill="#fff">TENG</text>
</svg></body></html>
